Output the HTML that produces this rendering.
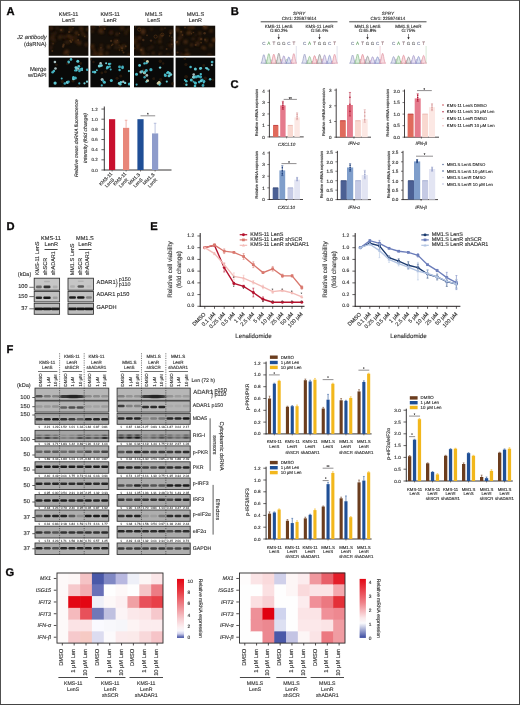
<!DOCTYPE html><html><head><meta charset="utf-8"><style>html,body{margin:0;padding:0;background:#fff;}svg{display:block;filter:blur(0.3px);text-rendering:geometricPrecision;font-family:"Liberation Sans",sans-serif;}</style></head><body>
<svg width="520" height="705" viewBox="0 0 520 705"><defs><filter id="bl1" x="-50%" y="-50%" width="200%" height="200%"><feGaussianBlur stdDeviation="0.6"/></filter><filter id="bl0" x="-50%" y="-50%" width="200%" height="200%"><feGaussianBlur stdDeviation="0.35"/></filter><filter id="bl2" x="-50%" y="-50%" width="200%" height="200%"><feGaussianBlur stdDeviation="1.2"/></filter><clipPath id="mc0a"><rect x="48.7" y="25.7" width="39.7" height="30.099999999999998"/></clipPath><clipPath id="mc0b"><rect x="48.7" y="57.6" width="39.7" height="29.699999999999996"/></clipPath><clipPath id="mc1a"><rect x="90.4" y="25.7" width="39.599999999999994" height="30.099999999999998"/></clipPath><clipPath id="mc1b"><rect x="90.4" y="57.6" width="39.599999999999994" height="29.699999999999996"/></clipPath><clipPath id="mc2a"><rect x="134.0" y="25.7" width="39.599999999999994" height="30.099999999999998"/></clipPath><clipPath id="mc2b"><rect x="134.0" y="57.6" width="39.599999999999994" height="29.699999999999996"/></clipPath><clipPath id="mc3a"><rect x="175.6" y="25.7" width="39.599999999999994" height="30.099999999999998"/></clipPath><clipPath id="mc3b"><rect x="175.6" y="57.6" width="39.599999999999994" height="29.699999999999996"/></clipPath><filter id="bb" x="-30%" y="-100%" width="160%" height="300%"><feGaussianBlur stdDeviation="0.4 0.35"/></filter><filter id="bb2" x="-30%" y="-100%" width="160%" height="300%"><feGaussianBlur stdDeviation="0.9 0.6"/></filter><linearGradient id="cb1" x1="0" y1="0" x2="0" y2="1"><stop offset="0" stop-color="#e50614"/><stop offset="0.2" stop-color="#e8363f"/><stop offset="0.45" stop-color="#ee868d"/><stop offset="0.68" stop-color="#f7cdd1"/><stop offset="0.82" stop-color="#fcf0f2"/><stop offset="0.88" stop-color="#f7f6fb"/><stop offset="0.93" stop-color="#cfd0ec"/><stop offset="1" stop-color="#38489e"/></linearGradient><linearGradient id="cb2" x1="0" y1="0" x2="0" y2="1"><stop offset="0" stop-color="#e30613"/><stop offset="0.4" stop-color="#ef8088"/><stop offset="0.66" stop-color="#fbe8ea"/><stop offset="0.75" stop-color="#fafafc"/><stop offset="1" stop-color="#3a4aa0"/></linearGradient></defs>
<line x1="0.00" y1="0.50" x2="520.00" y2="0.50" stroke="#5c5c5c" stroke-width="1.0"/>
<line x1="0.50" y1="0.00" x2="0.50" y2="705.00" stroke="#505050" stroke-width="1.0"/>
<line x1="519.50" y1="0.00" x2="519.50" y2="705.00" stroke="#444444" stroke-width="1.0"/>
<line x1="0.00" y1="704.50" x2="520.00" y2="704.50" stroke="#444444" stroke-width="1.0"/>
<text x="6.40" y="14.70" font-size="11.2" font-weight="bold" stroke="#231f20" stroke-width="0.35">A</text>
<text x="68.55" y="14.50" font-size="5.5" stroke="#333" stroke-width="0.14" text-anchor="middle" fill="#333" dominant-baseline="central">KMS-11</text>
<text x="68.55" y="21.40" font-size="5.5" stroke="#333" stroke-width="0.14" text-anchor="middle" fill="#333" dominant-baseline="central">LenS</text>
<text x="110.20" y="14.50" font-size="5.5" stroke="#333" stroke-width="0.14" text-anchor="middle" fill="#333" dominant-baseline="central">KMS-11</text>
<text x="110.20" y="21.40" font-size="5.5" stroke="#333" stroke-width="0.14" text-anchor="middle" fill="#333" dominant-baseline="central">LenR</text>
<text x="153.80" y="14.50" font-size="5.5" stroke="#333" stroke-width="0.14" text-anchor="middle" fill="#333" dominant-baseline="central">MM1.S</text>
<text x="153.80" y="21.40" font-size="5.5" stroke="#333" stroke-width="0.14" text-anchor="middle" fill="#333" dominant-baseline="central">LenS</text>
<text x="195.40" y="14.50" font-size="5.5" stroke="#333" stroke-width="0.14" text-anchor="middle" fill="#333" dominant-baseline="central">MM1.S</text>
<text x="195.40" y="21.40" font-size="5.5" stroke="#333" stroke-width="0.14" text-anchor="middle" fill="#333" dominant-baseline="central">LenR</text>
<text x="46.60" y="38.00" font-size="5.8" stroke="#333" stroke-width="0.14" text-anchor="end" fill="#333" font-style="italic" dominant-baseline="central">J2 antibody</text>
<text x="46.60" y="45.30" font-size="5.9" stroke="#333" stroke-width="0.14" text-anchor="end" fill="#333" dominant-baseline="central">(dsRNA)</text>
<text x="46.60" y="70.00" font-size="5.9" stroke="#333" stroke-width="0.14" text-anchor="end" fill="#333" dominant-baseline="central">Merge</text>
<text x="46.60" y="76.00" font-size="5.6" stroke="#333" stroke-width="0.14" text-anchor="end" fill="#333" dominant-baseline="central">w/DAPI</text>
<rect x="48.70" y="25.70" width="39.70" height="30.10" fill="#140e08"/>
<g clip-path="url(#mc0a)"><circle cx="61.6" cy="30.2" r="2.1" fill="#4a2c12" opacity="0.62" filter="url(#bl2)"/><circle cx="81.3" cy="28.5" r="2.1" fill="#603818" opacity="0.62" filter="url(#bl2)"/><circle cx="57.2" cy="28.3" r="1.8" fill="#3e240f" opacity="0.62" filter="url(#bl2)"/><circle cx="52.3" cy="38.5" r="2.4" fill="#4a2c12" opacity="0.62" filter="url(#bl2)"/><circle cx="86.3" cy="44.7" r="2.1" fill="#4a2c12" opacity="0.62" filter="url(#bl2)"/><circle cx="71.6" cy="37.6" r="2.6" fill="#4a2c12" opacity="0.62" filter="url(#bl2)"/><circle cx="70.8" cy="29.7" r="1.8" fill="#603818" opacity="0.62" filter="url(#bl2)"/><circle cx="53.4" cy="35.0" r="2.4" fill="#3e240f" opacity="0.62" filter="url(#bl2)"/><circle cx="52.8" cy="42.9" r="1.5" fill="#4a2c12" opacity="0.62" filter="url(#bl2)"/><circle cx="70.4" cy="27.6" r="1.4" fill="#3e240f" opacity="0.62" filter="url(#bl2)"/><circle cx="68.4" cy="41.7" r="2.3" fill="#35200e" opacity="0.62" filter="url(#bl2)"/><circle cx="71.9" cy="39.3" r="1.7" fill="#3e240f" opacity="0.62" filter="url(#bl2)"/><circle cx="76.5" cy="33.0" r="2.0" fill="#603818" opacity="0.62" filter="url(#bl2)"/><circle cx="68.4" cy="36.0" r="1.9" fill="#603818" opacity="0.62" filter="url(#bl2)"/><circle cx="87.6" cy="29.3" r="1.8" fill="#5a3414" opacity="0.62" filter="url(#bl2)"/><circle cx="54.7" cy="40.4" r="1.4" fill="#4a2c12" opacity="0.62" filter="url(#bl2)"/><circle cx="79.1" cy="42.9" r="2.4" fill="#5a3414" opacity="0.62" filter="url(#bl2)"/><circle cx="62.2" cy="36.2" r="1.9" fill="#35200e" opacity="0.62" filter="url(#bl2)"/><circle cx="51.4" cy="28.5" r="1.7" fill="#4a2c12" opacity="0.62" filter="url(#bl2)"/><circle cx="51.1" cy="46.8" r="2.1" fill="#35200e" opacity="0.62" filter="url(#bl2)"/><circle cx="60.0" cy="37.3" r="2.2" fill="#4a2c12" opacity="0.62" filter="url(#bl2)"/><circle cx="86.0" cy="36.4" r="2.1" fill="#35200e" opacity="0.62" filter="url(#bl2)"/><circle cx="51.0" cy="48.8" r="1.5" fill="#3e240f" opacity="0.62" filter="url(#bl2)"/><circle cx="64.5" cy="53.3" r="1.9" fill="#3e240f" opacity="0.62" filter="url(#bl2)"/><circle cx="66.5" cy="42.2" r="2.4" fill="#35200e" opacity="0.62" filter="url(#bl2)"/><circle cx="83.0" cy="34.1" r="1.8" fill="#5a3414" opacity="0.62" filter="url(#bl2)"/><circle cx="75.8" cy="37.2" r="1.6" fill="#4a2c12" opacity="0.62" filter="url(#bl2)"/><circle cx="55.7" cy="32.7" r="1.6" fill="#35200e" opacity="0.62" filter="url(#bl2)"/><circle cx="81.7" cy="31.2" r="1.7" fill="#3e240f" opacity="0.62" filter="url(#bl2)"/><circle cx="65.3" cy="36.8" r="2.0" fill="#3e240f" opacity="0.62" filter="url(#bl2)"/><circle cx="76.1" cy="41.2" r="2.1" fill="#4a2c12" opacity="0.62" filter="url(#bl2)"/><circle cx="66.8" cy="51.9" r="2.5" fill="#603818" opacity="0.62" filter="url(#bl2)"/><circle cx="64.3" cy="37.7" r="1.4" fill="#35200e" opacity="0.62" filter="url(#bl2)"/><circle cx="51.2" cy="27.7" r="1.6" fill="#3e240f" opacity="0.62" filter="url(#bl2)"/><circle cx="53.1" cy="43.8" r="0.8" fill="#6a4220" opacity="0.55" filter="url(#bl1)"/><circle cx="71.2" cy="41.9" r="1.2" fill="#6a4220" opacity="0.55" filter="url(#bl1)"/><circle cx="73.1" cy="27.8" r="0.8" fill="#6a4220" opacity="0.55" filter="url(#bl1)"/><circle cx="63.6" cy="44.8" r="1.2" fill="#6a4220" opacity="0.55" filter="url(#bl1)"/><circle cx="72.6" cy="40.0" r="0.8" fill="#6a4220" opacity="0.55" filter="url(#bl1)"/><circle cx="68.1" cy="55.1" r="0.9" fill="#6a4220" opacity="0.55" filter="url(#bl1)"/><circle cx="61.1" cy="30.0" r="1.1" fill="#6a4220" opacity="0.55" filter="url(#bl1)"/><circle cx="78.1" cy="40.1" r="1.0" fill="#6a4220" opacity="0.55" filter="url(#bl1)"/><circle cx="69.2" cy="31.9" r="1.2" fill="#6a4220" opacity="0.55" filter="url(#bl1)"/><circle cx="63.1" cy="46.5" r="1.2" fill="#6a4220" opacity="0.55" filter="url(#bl1)"/><circle cx="78.8" cy="34.7" r="1.0" fill="#6a4220" opacity="0.55" filter="url(#bl1)"/><circle cx="52.3" cy="51.1" r="1.0" fill="#6a4220" opacity="0.55" filter="url(#bl1)"/><circle cx="84.8" cy="36.4" r="0.8" fill="#6a4220" opacity="0.55" filter="url(#bl1)"/><circle cx="70.2" cy="40.8" r="1.0" fill="#6a4220" opacity="0.55" filter="url(#bl1)"/></g>
<rect x="48.70" y="57.60" width="39.70" height="29.70" fill="#090908"/>
<g clip-path="url(#mc0b)"><circle cx="73.0" cy="81.0" r="1.6" fill="#3a2410" opacity="0.6" filter="url(#bl1)"/><circle cx="56.4" cy="64.7" r="1.3" fill="#3a2410" opacity="0.6" filter="url(#bl1)"/><circle cx="80.6" cy="63.5" r="1.4" fill="#3a2410" opacity="0.6" filter="url(#bl1)"/><circle cx="77.7" cy="87.0" r="1.6" fill="#3a2410" opacity="0.6" filter="url(#bl1)"/><circle cx="67.4" cy="63.4" r="1.5" fill="#3a2410" opacity="0.6" filter="url(#bl1)"/><circle cx="62.4" cy="81.6" r="1.6" fill="#3a2410" opacity="0.6" filter="url(#bl1)"/><circle cx="62.6" cy="86.5" r="1.1" fill="#3a2410" opacity="0.6" filter="url(#bl1)"/><circle cx="52.8" cy="71.6" r="1.3" fill="#3a2410" opacity="0.6" filter="url(#bl1)"/><circle cx="67.4" cy="82.3" r="1.6" fill="#72d0d8" filter="url(#bl0)"/><circle cx="68.8" cy="62.4" r="1.1" fill="#5cc8d2" filter="url(#bl0)"/><circle cx="82.0" cy="70.0" r="1.1" fill="#72d0d8" filter="url(#bl0)"/><circle cx="73.5" cy="78.7" r="1.5" fill="#72d0d8" filter="url(#bl0)"/><circle cx="55.5" cy="68.5" r="1.3" fill="#a8c0c0" filter="url(#bl0)"/><circle cx="78.8" cy="66.4" r="1.4" fill="#48bcc8" filter="url(#bl0)"/><circle cx="76.3" cy="70.2" r="1.3" fill="#5cc8d2" filter="url(#bl0)"/><circle cx="68.6" cy="81.8" r="1.2" fill="#3aa6b6" filter="url(#bl0)"/><circle cx="68.6" cy="61.6" r="1.2" fill="#44b0c0" filter="url(#bl0)"/><circle cx="80.6" cy="69.6" r="1.5" fill="#3aa6b6" filter="url(#bl0)"/><circle cx="75.4" cy="77.9" r="1.5" fill="#44b0c0" filter="url(#bl0)"/><circle cx="52.6" cy="72.2" r="1.3" fill="#44b0c0" filter="url(#bl0)"/><circle cx="76.6" cy="67.9" r="1.5" fill="#5cc8d2" filter="url(#bl0)"/><circle cx="78.2" cy="68.8" r="1.1" fill="#a8c0c0" filter="url(#bl0)"/><circle cx="64.8" cy="83.5" r="1.3" fill="#3aa6b6" filter="url(#bl0)"/><circle cx="71.0" cy="59.4" r="1.3" fill="#48bcc8" filter="url(#bl0)"/><circle cx="82.0" cy="68.6" r="1.1" fill="#48bcc8" filter="url(#bl0)"/><circle cx="73.4" cy="77.4" r="1.3" fill="#48bcc8" filter="url(#bl0)"/><circle cx="53.9" cy="71.0" r="1.3" fill="#44b0c0" filter="url(#bl0)"/><circle cx="75.8" cy="67.5" r="1.3" fill="#72d0d8" filter="url(#bl0)"/><circle cx="79.4" cy="70.9" r="1.3" fill="#3aa6b6" filter="url(#bl0)"/><circle cx="84.5" cy="83.3" r="1.1" fill="#72d0d8" filter="url(#bl0)"/><circle cx="54.9" cy="62.0" r="1.3" fill="#a8c0c0" filter="url(#bl0)"/><circle cx="75.0" cy="70.5" r="1.1" fill="#3aa6b6" filter="url(#bl0)"/><circle cx="79.3" cy="83.4" r="1.1" fill="#3aa6b6" filter="url(#bl0)"/><circle cx="55.1" cy="83.1" r="1.6" fill="#5cc8d2" filter="url(#bl0)"/><circle cx="77.8" cy="61.2" r="1.5" fill="#5cc8d2" filter="url(#bl0)"/><circle cx="87.0" cy="81.7" r="1.1" fill="#72d0d8" filter="url(#bl0)"/><circle cx="87.2" cy="69.8" r="1.3" fill="#3aa6b6" filter="url(#bl0)"/><circle cx="61.7" cy="78.6" r="1.0" fill="#44b0c0" filter="url(#bl0)"/></g>
<rect x="90.40" y="25.70" width="39.60" height="30.10" fill="#140e08"/>
<g clip-path="url(#mc1a)"><circle cx="108.6" cy="46.9" r="1.8" fill="#603818" opacity="0.62" filter="url(#bl2)"/><circle cx="115.1" cy="41.1" r="1.4" fill="#3e240f" opacity="0.62" filter="url(#bl2)"/><circle cx="128.9" cy="28.9" r="1.6" fill="#4a2c12" opacity="0.62" filter="url(#bl2)"/><circle cx="126.3" cy="31.2" r="2.3" fill="#35200e" opacity="0.62" filter="url(#bl2)"/><circle cx="124.0" cy="46.0" r="2.5" fill="#35200e" opacity="0.62" filter="url(#bl2)"/><circle cx="96.3" cy="53.4" r="2.0" fill="#5a3414" opacity="0.62" filter="url(#bl2)"/><circle cx="93.9" cy="27.4" r="2.2" fill="#35200e" opacity="0.62" filter="url(#bl2)"/><circle cx="125.9" cy="33.8" r="1.3" fill="#4a2c12" opacity="0.62" filter="url(#bl2)"/><circle cx="122.1" cy="28.2" r="2.4" fill="#4a2c12" opacity="0.62" filter="url(#bl2)"/><circle cx="100.9" cy="29.4" r="1.3" fill="#603818" opacity="0.62" filter="url(#bl2)"/><circle cx="106.9" cy="53.3" r="2.1" fill="#4a2c12" opacity="0.62" filter="url(#bl2)"/><circle cx="111.3" cy="32.9" r="1.4" fill="#3e240f" opacity="0.62" filter="url(#bl2)"/><circle cx="100.8" cy="31.2" r="2.5" fill="#5a3414" opacity="0.62" filter="url(#bl2)"/><circle cx="111.4" cy="31.9" r="1.9" fill="#3e240f" opacity="0.62" filter="url(#bl2)"/><circle cx="101.1" cy="49.9" r="2.6" fill="#4a2c12" opacity="0.62" filter="url(#bl2)"/><circle cx="91.0" cy="47.8" r="2.0" fill="#3e240f" opacity="0.62" filter="url(#bl2)"/><circle cx="110.8" cy="33.1" r="1.9" fill="#35200e" opacity="0.62" filter="url(#bl2)"/><circle cx="116.4" cy="42.1" r="2.5" fill="#603818" opacity="0.62" filter="url(#bl2)"/><circle cx="102.6" cy="32.2" r="1.6" fill="#3e240f" opacity="0.62" filter="url(#bl2)"/><circle cx="123.4" cy="47.0" r="2.1" fill="#35200e" opacity="0.62" filter="url(#bl2)"/><circle cx="129.6" cy="55.3" r="2.4" fill="#4a2c12" opacity="0.62" filter="url(#bl2)"/><circle cx="93.2" cy="48.0" r="1.6" fill="#3e240f" opacity="0.62" filter="url(#bl2)"/><circle cx="92.6" cy="45.7" r="1.8" fill="#603818" opacity="0.62" filter="url(#bl2)"/><circle cx="117.0" cy="34.2" r="1.6" fill="#5a3414" opacity="0.62" filter="url(#bl2)"/><circle cx="92.2" cy="31.3" r="1.6" fill="#4a2c12" opacity="0.62" filter="url(#bl2)"/><circle cx="100.8" cy="54.6" r="2.6" fill="#603818" opacity="0.62" filter="url(#bl2)"/><circle cx="103.2" cy="26.7" r="2.4" fill="#3e240f" opacity="0.62" filter="url(#bl2)"/><circle cx="104.5" cy="25.7" r="1.8" fill="#35200e" opacity="0.62" filter="url(#bl2)"/><circle cx="101.4" cy="45.4" r="1.6" fill="#4a2c12" opacity="0.62" filter="url(#bl2)"/><circle cx="94.0" cy="50.3" r="1.5" fill="#603818" opacity="0.62" filter="url(#bl2)"/><circle cx="92.1" cy="26.4" r="1.7" fill="#3e240f" opacity="0.62" filter="url(#bl2)"/><circle cx="93.7" cy="54.5" r="2.4" fill="#3e240f" opacity="0.62" filter="url(#bl2)"/><circle cx="116.4" cy="47.3" r="2.4" fill="#35200e" opacity="0.62" filter="url(#bl2)"/><circle cx="120.7" cy="47.4" r="1.9" fill="#5a3414" opacity="0.62" filter="url(#bl2)"/><circle cx="119.1" cy="45.1" r="0.7" fill="#6a4220" opacity="0.55" filter="url(#bl1)"/><circle cx="123.5" cy="52.5" r="1.0" fill="#6a4220" opacity="0.55" filter="url(#bl1)"/><circle cx="119.5" cy="50.1" r="0.8" fill="#6a4220" opacity="0.55" filter="url(#bl1)"/><circle cx="111.1" cy="40.9" r="1.1" fill="#6a4220" opacity="0.55" filter="url(#bl1)"/><circle cx="122.3" cy="50.6" r="1.0" fill="#6a4220" opacity="0.55" filter="url(#bl1)"/><circle cx="125.8" cy="46.3" r="1.0" fill="#6a4220" opacity="0.55" filter="url(#bl1)"/><circle cx="99.5" cy="26.6" r="0.8" fill="#6a4220" opacity="0.55" filter="url(#bl1)"/><circle cx="104.7" cy="28.9" r="1.1" fill="#6a4220" opacity="0.55" filter="url(#bl1)"/><circle cx="112.5" cy="44.6" r="1.0" fill="#6a4220" opacity="0.55" filter="url(#bl1)"/><circle cx="117.4" cy="40.4" r="0.7" fill="#6a4220" opacity="0.55" filter="url(#bl1)"/><circle cx="122.0" cy="48.2" r="1.0" fill="#6a4220" opacity="0.55" filter="url(#bl1)"/><circle cx="111.6" cy="45.5" r="0.7" fill="#6a4220" opacity="0.55" filter="url(#bl1)"/><circle cx="119.6" cy="33.3" r="0.7" fill="#6a4220" opacity="0.55" filter="url(#bl1)"/><circle cx="100.9" cy="47.7" r="0.8" fill="#6a4220" opacity="0.55" filter="url(#bl1)"/></g>
<rect x="90.40" y="57.60" width="39.60" height="29.70" fill="#090908"/>
<g clip-path="url(#mc1b)"><circle cx="119.7" cy="86.6" r="1.4" fill="#3a2410" opacity="0.6" filter="url(#bl1)"/><circle cx="105.5" cy="71.8" r="1.5" fill="#3a2410" opacity="0.6" filter="url(#bl1)"/><circle cx="120.8" cy="75.9" r="1.5" fill="#3a2410" opacity="0.6" filter="url(#bl1)"/><circle cx="93.5" cy="62.0" r="1.2" fill="#3a2410" opacity="0.6" filter="url(#bl1)"/><circle cx="119.8" cy="66.6" r="1.5" fill="#3a2410" opacity="0.6" filter="url(#bl1)"/><circle cx="90.9" cy="59.4" r="1.2" fill="#3a2410" opacity="0.6" filter="url(#bl1)"/><circle cx="117.0" cy="78.2" r="1.5" fill="#3a2410" opacity="0.6" filter="url(#bl1)"/><circle cx="101.9" cy="72.9" r="1.4" fill="#3a2410" opacity="0.6" filter="url(#bl1)"/><circle cx="109.8" cy="66.7" r="1.1" fill="#44b0c0" filter="url(#bl0)"/><circle cx="122.5" cy="67.8" r="1.4" fill="#44b0c0" filter="url(#bl0)"/><circle cx="125.1" cy="82.9" r="1.2" fill="#72d0d8" filter="url(#bl0)"/><circle cx="96.8" cy="70.2" r="1.0" fill="#48bcc8" filter="url(#bl0)"/><circle cx="123.2" cy="81.7" r="1.2" fill="#a8c0c0" filter="url(#bl0)"/><circle cx="106.9" cy="68.4" r="1.1" fill="#3aa6b6" filter="url(#bl0)"/><circle cx="104.4" cy="82.2" r="1.5" fill="#48bcc8" filter="url(#bl0)"/><circle cx="110.4" cy="63.7" r="1.0" fill="#3aa6b6" filter="url(#bl0)"/><circle cx="122.6" cy="66.7" r="1.2" fill="#44b0c0" filter="url(#bl0)"/><circle cx="129.4" cy="84.0" r="1.5" fill="#48bcc8" filter="url(#bl0)"/><circle cx="94.8" cy="72.2" r="1.4" fill="#5cc8d2" filter="url(#bl0)"/><circle cx="120.3" cy="84.2" r="1.3" fill="#5cc8d2" filter="url(#bl0)"/><circle cx="109.1" cy="64.0" r="1.3" fill="#48bcc8" filter="url(#bl0)"/><circle cx="102.1" cy="79.5" r="1.5" fill="#a8c0c0" filter="url(#bl0)"/><circle cx="106.1" cy="63.2" r="1.0" fill="#72d0d8" filter="url(#bl0)"/><circle cx="119.5" cy="66.9" r="1.4" fill="#3aa6b6" filter="url(#bl0)"/><circle cx="120.9" cy="82.3" r="1.3" fill="#5cc8d2" filter="url(#bl0)"/><circle cx="93.1" cy="71.9" r="1.2" fill="#3aa6b6" filter="url(#bl0)"/><circle cx="119.1" cy="83.4" r="1.3" fill="#72d0d8" filter="url(#bl0)"/><circle cx="110.7" cy="69.4" r="1.0" fill="#44b0c0" filter="url(#bl0)"/><circle cx="103.0" cy="80.8" r="1.1" fill="#3aa6b6" filter="url(#bl0)"/><circle cx="128.9" cy="71.1" r="1.1" fill="#5cc8d2" filter="url(#bl0)"/><circle cx="100.6" cy="63.4" r="1.3" fill="#a8c0c0" filter="url(#bl0)"/><circle cx="100.4" cy="65.8" r="1.3" fill="#48bcc8" filter="url(#bl0)"/><circle cx="119.6" cy="70.0" r="1.2" fill="#44b0c0" filter="url(#bl0)"/><circle cx="99.3" cy="66.1" r="1.5" fill="#72d0d8" filter="url(#bl0)"/><circle cx="101.8" cy="85.4" r="1.1" fill="#44b0c0" filter="url(#bl0)"/><circle cx="111.3" cy="80.5" r="1.5" fill="#48bcc8" filter="url(#bl0)"/><circle cx="101.6" cy="65.5" r="1.2" fill="#72d0d8" filter="url(#bl0)"/><circle cx="107.6" cy="67.2" r="1.5" fill="#48bcc8" filter="url(#bl0)"/></g>
<rect x="134.00" y="25.70" width="39.60" height="30.10" fill="#140e08"/>
<g clip-path="url(#mc2a)"><circle cx="139.0" cy="38.5" r="2.3" fill="#35200e" opacity="0.62" filter="url(#bl2)"/><circle cx="172.3" cy="40.4" r="1.4" fill="#603818" opacity="0.62" filter="url(#bl2)"/><circle cx="167.9" cy="55.0" r="1.6" fill="#4a2c12" opacity="0.62" filter="url(#bl2)"/><circle cx="142.9" cy="30.3" r="2.6" fill="#4a2c12" opacity="0.62" filter="url(#bl2)"/><circle cx="171.3" cy="47.4" r="2.1" fill="#35200e" opacity="0.62" filter="url(#bl2)"/><circle cx="137.4" cy="49.1" r="1.3" fill="#3e240f" opacity="0.62" filter="url(#bl2)"/><circle cx="143.2" cy="53.4" r="2.1" fill="#5a3414" opacity="0.62" filter="url(#bl2)"/><circle cx="172.1" cy="44.6" r="2.0" fill="#35200e" opacity="0.62" filter="url(#bl2)"/><circle cx="161.7" cy="29.1" r="1.4" fill="#603818" opacity="0.62" filter="url(#bl2)"/><circle cx="171.4" cy="31.5" r="1.6" fill="#603818" opacity="0.62" filter="url(#bl2)"/><circle cx="134.0" cy="41.9" r="2.6" fill="#5a3414" opacity="0.62" filter="url(#bl2)"/><circle cx="172.0" cy="45.1" r="2.4" fill="#35200e" opacity="0.62" filter="url(#bl2)"/><circle cx="154.8" cy="42.2" r="1.3" fill="#35200e" opacity="0.62" filter="url(#bl2)"/><circle cx="161.9" cy="35.0" r="1.3" fill="#35200e" opacity="0.62" filter="url(#bl2)"/><circle cx="169.0" cy="45.2" r="1.4" fill="#3e240f" opacity="0.62" filter="url(#bl2)"/><circle cx="160.4" cy="53.5" r="1.6" fill="#4a2c12" opacity="0.62" filter="url(#bl2)"/><circle cx="161.6" cy="47.3" r="1.8" fill="#35200e" opacity="0.62" filter="url(#bl2)"/><circle cx="141.8" cy="49.7" r="2.3" fill="#603818" opacity="0.62" filter="url(#bl2)"/><circle cx="136.7" cy="40.6" r="1.6" fill="#3e240f" opacity="0.62" filter="url(#bl2)"/><circle cx="143.1" cy="32.4" r="2.3" fill="#5a3414" opacity="0.62" filter="url(#bl2)"/><circle cx="138.3" cy="44.5" r="2.1" fill="#3e240f" opacity="0.62" filter="url(#bl2)"/><circle cx="153.2" cy="53.1" r="1.4" fill="#603818" opacity="0.62" filter="url(#bl2)"/><circle cx="139.8" cy="37.5" r="1.6" fill="#603818" opacity="0.62" filter="url(#bl2)"/><circle cx="139.6" cy="27.3" r="1.4" fill="#35200e" opacity="0.62" filter="url(#bl2)"/><circle cx="151.8" cy="47.1" r="1.7" fill="#4a2c12" opacity="0.62" filter="url(#bl2)"/><circle cx="173.5" cy="53.7" r="1.7" fill="#3e240f" opacity="0.62" filter="url(#bl2)"/><circle cx="159.8" cy="41.5" r="1.9" fill="#5a3414" opacity="0.62" filter="url(#bl2)"/><circle cx="160.3" cy="37.1" r="1.8" fill="#5a3414" opacity="0.62" filter="url(#bl2)"/><circle cx="151.5" cy="29.0" r="1.4" fill="#4a2c12" opacity="0.62" filter="url(#bl2)"/><circle cx="147.9" cy="54.5" r="1.5" fill="#3e240f" opacity="0.62" filter="url(#bl2)"/><circle cx="149.1" cy="48.8" r="1.7" fill="#35200e" opacity="0.62" filter="url(#bl2)"/><circle cx="137.5" cy="46.9" r="1.6" fill="#603818" opacity="0.62" filter="url(#bl2)"/><circle cx="170.4" cy="31.5" r="1.8" fill="#35200e" opacity="0.62" filter="url(#bl2)"/><circle cx="135.2" cy="38.1" r="2.4" fill="#35200e" opacity="0.62" filter="url(#bl2)"/><circle cx="135.6" cy="26.7" r="0.7" fill="#6a4220" opacity="0.55" filter="url(#bl1)"/><circle cx="170.4" cy="33.4" r="1.1" fill="#6a4220" opacity="0.55" filter="url(#bl1)"/><circle cx="169.6" cy="35.9" r="0.8" fill="#6a4220" opacity="0.55" filter="url(#bl1)"/><circle cx="171.9" cy="44.3" r="0.8" fill="#6a4220" opacity="0.55" filter="url(#bl1)"/><circle cx="162.4" cy="35.2" r="0.8" fill="#6a4220" opacity="0.55" filter="url(#bl1)"/><circle cx="134.1" cy="48.4" r="1.2" fill="#6a4220" opacity="0.55" filter="url(#bl1)"/><circle cx="159.1" cy="54.1" r="0.7" fill="#6a4220" opacity="0.55" filter="url(#bl1)"/><circle cx="143.3" cy="40.0" r="1.2" fill="#6a4220" opacity="0.55" filter="url(#bl1)"/><circle cx="171.8" cy="37.3" r="0.8" fill="#6a4220" opacity="0.55" filter="url(#bl1)"/><circle cx="151.0" cy="40.6" r="1.2" fill="#6a4220" opacity="0.55" filter="url(#bl1)"/><circle cx="141.2" cy="49.9" r="1.1" fill="#6a4220" opacity="0.55" filter="url(#bl1)"/><circle cx="166.6" cy="49.0" r="1.0" fill="#6a4220" opacity="0.55" filter="url(#bl1)"/><circle cx="147.0" cy="35.3" r="0.9" fill="#6a4220" opacity="0.55" filter="url(#bl1)"/><circle cx="165.0" cy="28.1" r="0.8" fill="#6a4220" opacity="0.55" filter="url(#bl1)"/><circle cx="162.3" cy="34.7" r="1.6" fill="none" stroke="#6a4018" stroke-width="0.7" opacity="0.7"/><circle cx="139.2" cy="29.5" r="1.6" fill="none" stroke="#6a4018" stroke-width="0.7" opacity="0.7"/><circle cx="155.6" cy="36.6" r="1.6" fill="none" stroke="#6a4018" stroke-width="0.7" opacity="0.7"/></g>
<rect x="134.00" y="57.60" width="39.60" height="29.70" fill="#090908"/>
<g clip-path="url(#mc2b)"><circle cx="172.8" cy="83.8" r="1.8" fill="#3a2410" opacity="0.6" filter="url(#bl1)"/><circle cx="144.5" cy="60.1" r="1.1" fill="#3a2410" opacity="0.6" filter="url(#bl1)"/><circle cx="153.7" cy="78.7" r="1.4" fill="#3a2410" opacity="0.6" filter="url(#bl1)"/><circle cx="143.3" cy="70.0" r="1.5" fill="#3a2410" opacity="0.6" filter="url(#bl1)"/><circle cx="160.7" cy="79.8" r="1.7" fill="#3a2410" opacity="0.6" filter="url(#bl1)"/><circle cx="160.3" cy="61.2" r="1.7" fill="#3a2410" opacity="0.6" filter="url(#bl1)"/><circle cx="145.6" cy="74.4" r="1.3" fill="#3a2410" opacity="0.6" filter="url(#bl1)"/><circle cx="163.2" cy="63.5" r="1.2" fill="#3a2410" opacity="0.6" filter="url(#bl1)"/><circle cx="147.4" cy="61.5" r="1.5" fill="#c8c8a0" filter="url(#bl0)"/><circle cx="167.0" cy="73.1" r="1.0" fill="#44b0c0" filter="url(#bl0)"/><circle cx="150.9" cy="69.7" r="1.6" fill="#3aa6b6" filter="url(#bl0)"/><circle cx="168.1" cy="72.5" r="1.4" fill="#48bcc8" filter="url(#bl0)"/><circle cx="147.4" cy="80.8" r="1.4" fill="#a8c0c0" filter="url(#bl0)"/><circle cx="160.4" cy="83.5" r="1.0" fill="#3aa6b6" filter="url(#bl0)"/><circle cx="144.4" cy="72.7" r="1.5" fill="#c8c8a0" filter="url(#bl0)"/><circle cx="146.6" cy="63.1" r="1.2" fill="#44b0c0" filter="url(#bl0)"/><circle cx="165.4" cy="75.4" r="1.5" fill="#44b0c0" filter="url(#bl0)"/><circle cx="146.3" cy="70.4" r="1.5" fill="#44b0c0" filter="url(#bl0)"/><circle cx="170.8" cy="74.6" r="1.4" fill="#72d0d8" filter="url(#bl0)"/><circle cx="144.6" cy="77.2" r="1.2" fill="#3aa6b6" filter="url(#bl0)"/><circle cx="158.1" cy="83.4" r="1.4" fill="#c8c8a0" filter="url(#bl0)"/><circle cx="140.9" cy="72.1" r="1.5" fill="#a8c0c0" filter="url(#bl0)"/><circle cx="144.5" cy="63.4" r="1.2" fill="#48bcc8" filter="url(#bl0)"/><circle cx="164.9" cy="74.6" r="1.1" fill="#48bcc8" filter="url(#bl0)"/><circle cx="144.9" cy="72.5" r="1.3" fill="#5cc8d2" filter="url(#bl0)"/><circle cx="169.8" cy="73.1" r="1.1" fill="#72d0d8" filter="url(#bl0)"/><circle cx="147.7" cy="80.6" r="1.2" fill="#c8c8a0" filter="url(#bl0)"/><circle cx="159.5" cy="84.7" r="1.1" fill="#5cc8d2" filter="url(#bl0)"/><circle cx="142.1" cy="71.5" r="1.3" fill="#5cc8d2" filter="url(#bl0)"/><circle cx="146.3" cy="81.8" r="1.0" fill="#72d0d8" filter="url(#bl0)"/><circle cx="146.8" cy="75.4" r="1.4" fill="#a8c0c0" filter="url(#bl0)"/><circle cx="169.0" cy="75.8" r="1.5" fill="#5cc8d2" filter="url(#bl0)"/><circle cx="159.1" cy="82.3" r="1.4" fill="#c8c8a0" filter="url(#bl0)"/><circle cx="166.8" cy="81.6" r="1.1" fill="#5cc8d2" filter="url(#bl0)"/><circle cx="136.6" cy="84.6" r="1.1" fill="#3aa6b6" filter="url(#bl0)"/><circle cx="139.6" cy="65.4" r="1.4" fill="#5cc8d2" filter="url(#bl0)"/><circle cx="136.5" cy="74.2" r="1.5" fill="#48bcc8" filter="url(#bl0)"/><circle cx="160.1" cy="67.6" r="1.2" fill="#72d0d8" filter="url(#bl0)"/></g>
<rect x="175.60" y="25.70" width="39.60" height="30.10" fill="#140e08"/>
<g clip-path="url(#mc3a)"><circle cx="197.4" cy="44.6" r="1.7" fill="#35200e" opacity="0.62" filter="url(#bl2)"/><circle cx="187.8" cy="33.2" r="1.8" fill="#5a3414" opacity="0.62" filter="url(#bl2)"/><circle cx="193.3" cy="38.9" r="1.3" fill="#603818" opacity="0.62" filter="url(#bl2)"/><circle cx="214.7" cy="39.7" r="1.9" fill="#603818" opacity="0.62" filter="url(#bl2)"/><circle cx="206.5" cy="39.5" r="1.5" fill="#35200e" opacity="0.62" filter="url(#bl2)"/><circle cx="191.5" cy="27.7" r="1.8" fill="#5a3414" opacity="0.62" filter="url(#bl2)"/><circle cx="179.2" cy="39.0" r="2.0" fill="#4a2c12" opacity="0.62" filter="url(#bl2)"/><circle cx="177.2" cy="29.6" r="2.5" fill="#5a3414" opacity="0.62" filter="url(#bl2)"/><circle cx="206.4" cy="41.1" r="1.4" fill="#603818" opacity="0.62" filter="url(#bl2)"/><circle cx="211.0" cy="45.3" r="2.3" fill="#4a2c12" opacity="0.62" filter="url(#bl2)"/><circle cx="209.5" cy="55.7" r="2.3" fill="#4a2c12" opacity="0.62" filter="url(#bl2)"/><circle cx="183.3" cy="55.3" r="1.9" fill="#3e240f" opacity="0.62" filter="url(#bl2)"/><circle cx="202.8" cy="47.4" r="1.6" fill="#5a3414" opacity="0.62" filter="url(#bl2)"/><circle cx="199.8" cy="33.3" r="1.7" fill="#603818" opacity="0.62" filter="url(#bl2)"/><circle cx="186.5" cy="50.3" r="1.5" fill="#603818" opacity="0.62" filter="url(#bl2)"/><circle cx="213.8" cy="40.2" r="2.1" fill="#603818" opacity="0.62" filter="url(#bl2)"/><circle cx="195.6" cy="35.3" r="1.3" fill="#3e240f" opacity="0.62" filter="url(#bl2)"/><circle cx="191.6" cy="44.9" r="1.7" fill="#5a3414" opacity="0.62" filter="url(#bl2)"/><circle cx="211.1" cy="30.8" r="2.3" fill="#4a2c12" opacity="0.62" filter="url(#bl2)"/><circle cx="206.0" cy="27.2" r="2.4" fill="#35200e" opacity="0.62" filter="url(#bl2)"/><circle cx="197.6" cy="43.2" r="2.4" fill="#4a2c12" opacity="0.62" filter="url(#bl2)"/><circle cx="185.6" cy="41.8" r="2.4" fill="#5a3414" opacity="0.62" filter="url(#bl2)"/><circle cx="186.1" cy="55.5" r="2.1" fill="#5a3414" opacity="0.62" filter="url(#bl2)"/><circle cx="188.7" cy="28.1" r="1.6" fill="#603818" opacity="0.62" filter="url(#bl2)"/><circle cx="205.0" cy="27.2" r="2.4" fill="#5a3414" opacity="0.62" filter="url(#bl2)"/><circle cx="187.9" cy="54.8" r="2.4" fill="#5a3414" opacity="0.62" filter="url(#bl2)"/><circle cx="204.6" cy="48.2" r="1.6" fill="#5a3414" opacity="0.62" filter="url(#bl2)"/><circle cx="200.0" cy="38.7" r="2.0" fill="#4a2c12" opacity="0.62" filter="url(#bl2)"/><circle cx="180.8" cy="32.5" r="2.1" fill="#4a2c12" opacity="0.62" filter="url(#bl2)"/><circle cx="177.8" cy="42.8" r="1.7" fill="#603818" opacity="0.62" filter="url(#bl2)"/><circle cx="189.7" cy="32.5" r="2.1" fill="#603818" opacity="0.62" filter="url(#bl2)"/><circle cx="180.9" cy="36.7" r="2.4" fill="#3e240f" opacity="0.62" filter="url(#bl2)"/><circle cx="180.9" cy="53.9" r="1.6" fill="#3e240f" opacity="0.62" filter="url(#bl2)"/><circle cx="193.5" cy="27.6" r="1.5" fill="#5a3414" opacity="0.62" filter="url(#bl2)"/><circle cx="191.5" cy="33.7" r="0.7" fill="#6a4220" opacity="0.55" filter="url(#bl1)"/><circle cx="201.1" cy="42.6" r="0.9" fill="#6a4220" opacity="0.55" filter="url(#bl1)"/><circle cx="201.2" cy="39.1" r="1.2" fill="#6a4220" opacity="0.55" filter="url(#bl1)"/><circle cx="204.6" cy="33.2" r="1.2" fill="#6a4220" opacity="0.55" filter="url(#bl1)"/><circle cx="177.3" cy="41.7" r="0.9" fill="#6a4220" opacity="0.55" filter="url(#bl1)"/><circle cx="185.0" cy="27.5" r="1.1" fill="#6a4220" opacity="0.55" filter="url(#bl1)"/><circle cx="176.1" cy="42.3" r="1.2" fill="#6a4220" opacity="0.55" filter="url(#bl1)"/><circle cx="181.2" cy="31.7" r="1.0" fill="#6a4220" opacity="0.55" filter="url(#bl1)"/><circle cx="195.7" cy="45.0" r="1.1" fill="#6a4220" opacity="0.55" filter="url(#bl1)"/><circle cx="182.5" cy="35.0" r="0.9" fill="#6a4220" opacity="0.55" filter="url(#bl1)"/><circle cx="177.5" cy="52.5" r="1.1" fill="#6a4220" opacity="0.55" filter="url(#bl1)"/><circle cx="203.9" cy="25.9" r="1.1" fill="#6a4220" opacity="0.55" filter="url(#bl1)"/><circle cx="205.1" cy="39.7" r="1.1" fill="#6a4220" opacity="0.55" filter="url(#bl1)"/><circle cx="193.5" cy="32.5" r="0.8" fill="#6a4220" opacity="0.55" filter="url(#bl1)"/></g>
<rect x="175.60" y="57.60" width="39.60" height="29.70" fill="#090908"/>
<g clip-path="url(#mc3b)"><circle cx="184.8" cy="58.8" r="1.3" fill="#3a2410" opacity="0.6" filter="url(#bl1)"/><circle cx="205.3" cy="78.2" r="1.7" fill="#3a2410" opacity="0.6" filter="url(#bl1)"/><circle cx="203.8" cy="65.5" r="1.4" fill="#3a2410" opacity="0.6" filter="url(#bl1)"/><circle cx="192.9" cy="81.0" r="1.4" fill="#3a2410" opacity="0.6" filter="url(#bl1)"/><circle cx="186.1" cy="76.7" r="1.8" fill="#3a2410" opacity="0.6" filter="url(#bl1)"/><circle cx="184.2" cy="83.7" r="1.0" fill="#3a2410" opacity="0.6" filter="url(#bl1)"/><circle cx="185.9" cy="64.6" r="1.6" fill="#3a2410" opacity="0.6" filter="url(#bl1)"/><circle cx="213.0" cy="79.8" r="1.3" fill="#3a2410" opacity="0.6" filter="url(#bl1)"/><circle cx="205.9" cy="68.0" r="1.1" fill="#44b0c0" filter="url(#bl0)"/><circle cx="184.9" cy="80.0" r="1.1" fill="#48bcc8" filter="url(#bl0)"/><circle cx="200.5" cy="76.8" r="1.6" fill="#3aa6b6" filter="url(#bl0)"/><circle cx="203.7" cy="82.4" r="1.0" fill="#5cc8d2" filter="url(#bl0)"/><circle cx="193.4" cy="77.2" r="1.4" fill="#a8c0c0" filter="url(#bl0)"/><circle cx="204.1" cy="81.3" r="1.2" fill="#44b0c0" filter="url(#bl0)"/><circle cx="194.0" cy="76.9" r="1.5" fill="#72d0d8" filter="url(#bl0)"/><circle cx="208.5" cy="69.6" r="1.1" fill="#48bcc8" filter="url(#bl0)"/><circle cx="191.3" cy="79.9" r="1.5" fill="#48bcc8" filter="url(#bl0)"/><circle cx="200.8" cy="74.1" r="1.2" fill="#48bcc8" filter="url(#bl0)"/><circle cx="203.0" cy="85.5" r="1.4" fill="#3aa6b6" filter="url(#bl0)"/><circle cx="193.6" cy="81.7" r="1.0" fill="#3aa6b6" filter="url(#bl0)"/><circle cx="202.2" cy="79.9" r="1.5" fill="#3aa6b6" filter="url(#bl0)"/><circle cx="193.7" cy="74.6" r="1.3" fill="#a8c0c0" filter="url(#bl0)"/><circle cx="207.0" cy="68.4" r="1.2" fill="#72d0d8" filter="url(#bl0)"/><circle cx="186.3" cy="81.2" r="1.3" fill="#48bcc8" filter="url(#bl0)"/><circle cx="198.2" cy="76.3" r="1.5" fill="#48bcc8" filter="url(#bl0)"/><circle cx="199.2" cy="82.1" r="1.3" fill="#44b0c0" filter="url(#bl0)"/><circle cx="195.4" cy="83.1" r="1.6" fill="#48bcc8" filter="url(#bl0)"/><circle cx="201.1" cy="80.9" r="1.4" fill="#5cc8d2" filter="url(#bl0)"/><circle cx="196.0" cy="76.8" r="1.6" fill="#44b0c0" filter="url(#bl0)"/><circle cx="186.4" cy="84.7" r="1.2" fill="#5cc8d2" filter="url(#bl0)"/><circle cx="211.9" cy="65.0" r="1.1" fill="#a8c0c0" filter="url(#bl0)"/><circle cx="195.0" cy="86.1" r="1.3" fill="#48bcc8" filter="url(#bl0)"/><circle cx="200.2" cy="68.5" r="1.2" fill="#72d0d8" filter="url(#bl0)"/><circle cx="210.1" cy="79.2" r="1.3" fill="#48bcc8" filter="url(#bl0)"/><circle cx="190.6" cy="67.0" r="1.3" fill="#44b0c0" filter="url(#bl0)"/><circle cx="195.4" cy="69.1" r="1.5" fill="#5cc8d2" filter="url(#bl0)"/><circle cx="212.1" cy="62.1" r="1.4" fill="#44b0c0" filter="url(#bl0)"/><circle cx="200.9" cy="68.3" r="1.2" fill="#5cc8d2" filter="url(#bl0)"/></g>
<line x1="104.30" y1="106.50" x2="104.30" y2="170.40" stroke="#231f20" stroke-width="0.9"/>
<line x1="103.90" y1="170.00" x2="171.50" y2="170.00" stroke="#231f20" stroke-width="0.9"/>
<line x1="101.40" y1="170.00" x2="104.30" y2="170.00" stroke="#231f20" stroke-width="0.7"/>
<text x="97.70" y="170.00" font-size="4.4" stroke="#333" stroke-width="0.14" text-anchor="end" fill="#333" dominant-baseline="central">0.0</text>
<line x1="101.40" y1="159.84" x2="104.30" y2="159.84" stroke="#231f20" stroke-width="0.7"/>
<text x="97.70" y="159.84" font-size="4.4" stroke="#333" stroke-width="0.14" text-anchor="end" fill="#333" dominant-baseline="central">0.2</text>
<line x1="101.40" y1="149.68" x2="104.30" y2="149.68" stroke="#231f20" stroke-width="0.7"/>
<text x="97.70" y="149.68" font-size="4.4" stroke="#333" stroke-width="0.14" text-anchor="end" fill="#333" dominant-baseline="central">0.4</text>
<line x1="101.40" y1="139.52" x2="104.30" y2="139.52" stroke="#231f20" stroke-width="0.7"/>
<text x="97.70" y="139.52" font-size="4.4" stroke="#333" stroke-width="0.14" text-anchor="end" fill="#333" dominant-baseline="central">0.6</text>
<line x1="101.40" y1="129.36" x2="104.30" y2="129.36" stroke="#231f20" stroke-width="0.7"/>
<text x="97.70" y="129.36" font-size="4.4" stroke="#333" stroke-width="0.14" text-anchor="end" fill="#333" dominant-baseline="central">0.8</text>
<line x1="101.40" y1="119.20" x2="104.30" y2="119.20" stroke="#231f20" stroke-width="0.7"/>
<text x="97.70" y="119.20" font-size="4.4" stroke="#333" stroke-width="0.14" text-anchor="end" fill="#333" dominant-baseline="central">1.0</text>
<line x1="101.40" y1="109.04" x2="104.30" y2="109.04" stroke="#231f20" stroke-width="0.7"/>
<text x="97.70" y="109.04" font-size="4.4" stroke="#333" stroke-width="0.14" text-anchor="end" fill="#333" dominant-baseline="central">1.2</text>
<rect x="109.00" y="119.20" width="6.20" height="50.80" fill="#c8102e"/>
<line x1="112.10" y1="170.00" x2="112.10" y2="171.60" stroke="#231f20" stroke-width="0.5"/>
<rect x="123.00" y="127.84" width="6.20" height="42.16" fill="#e8877a"/>
<line x1="126.10" y1="127.84" x2="126.10" y2="120.22" stroke="#e8877a" stroke-width="0.6"/>
<line x1="124.80" y1="120.22" x2="127.40" y2="120.22" stroke="#e8877a" stroke-width="0.6"/>
<line x1="126.10" y1="170.00" x2="126.10" y2="171.60" stroke="#231f20" stroke-width="0.5"/>
<rect x="137.40" y="119.20" width="6.20" height="50.80" fill="#1f4e96"/>
<line x1="140.50" y1="170.00" x2="140.50" y2="171.60" stroke="#231f20" stroke-width="0.5"/>
<rect x="152.00" y="133.42" width="6.20" height="36.58" fill="#8e9ccb"/>
<line x1="155.10" y1="133.42" x2="155.10" y2="123.26" stroke="#8e9ccb" stroke-width="0.6"/>
<line x1="153.80" y1="123.26" x2="156.40" y2="123.26" stroke="#8e9ccb" stroke-width="0.6"/>
<line x1="155.10" y1="170.00" x2="155.10" y2="171.60" stroke="#231f20" stroke-width="0.5"/>
<line x1="140.50" y1="115.80" x2="155.20" y2="115.80" stroke="#231f20" stroke-width="0.5"/>
<text x="147.80" y="114.20" font-size="4.5" stroke="#231f20" stroke-width="0.14" text-anchor="middle" dominant-baseline="central">*</text>
<text x="78.00" y="138.20" font-size="4.95" stroke="#333" stroke-width="0.14" text-anchor="middle" fill="#333" font-style="italic" dominant-baseline="central" transform="rotate(-90 78.00 138.20)">Relative mean dsRNA fluorescence</text>
<text x="85.50" y="138.00" font-size="5.1" stroke="#333" stroke-width="0.14" text-anchor="middle" fill="#333" font-style="italic" dominant-baseline="central" transform="rotate(-90 85.50 138.00)">intensity (fold change)</text>
<text x="105.70" y="179.00" font-size="4.7" stroke="#333" stroke-width="0.14" text-anchor="middle" fill="#333" dominant-baseline="central" transform="rotate(-45 105.70 179.00)">KMS-11</text>
<text x="109.60" y="182.90" font-size="4.7" stroke="#333" stroke-width="0.14" text-anchor="middle" fill="#333" dominant-baseline="central" transform="rotate(-45 109.60 182.90)">LenS</text>
<text x="119.70" y="179.00" font-size="4.7" stroke="#333" stroke-width="0.14" text-anchor="middle" fill="#333" dominant-baseline="central" transform="rotate(-45 119.70 179.00)">KMS-11</text>
<text x="123.60" y="182.90" font-size="4.7" stroke="#333" stroke-width="0.14" text-anchor="middle" fill="#333" dominant-baseline="central" transform="rotate(-45 123.60 182.90)">LenR</text>
<text x="134.10" y="179.00" font-size="4.7" stroke="#333" stroke-width="0.14" text-anchor="middle" fill="#333" dominant-baseline="central" transform="rotate(-45 134.10 179.00)">MM1.S</text>
<text x="138.00" y="182.90" font-size="4.7" stroke="#333" stroke-width="0.14" text-anchor="middle" fill="#333" dominant-baseline="central" transform="rotate(-45 138.00 182.90)">LenS</text>
<text x="148.70" y="179.00" font-size="4.7" stroke="#333" stroke-width="0.14" text-anchor="middle" fill="#333" dominant-baseline="central" transform="rotate(-45 148.70 179.00)">MM1.S</text>
<text x="152.60" y="182.90" font-size="4.7" stroke="#333" stroke-width="0.14" text-anchor="middle" fill="#333" dominant-baseline="central" transform="rotate(-45 152.60 182.90)">LenR</text>
<text x="230.70" y="14.80" font-size="11.2" font-weight="bold" stroke="#231f20" stroke-width="0.35">B</text>
<text x="299.10" y="13.30" font-size="4.5" stroke="#333" stroke-width="0.14" text-anchor="middle" fill="#333" font-style="italic" dominant-baseline="central">SPRY</text>
<text x="299.10" y="18.40" font-size="4.5" stroke="#333" stroke-width="0.14" text-anchor="middle" fill="#333" dominant-baseline="central">Chr1: 225974614</text>
<line x1="260.70" y1="21.80" x2="337.50" y2="21.80" stroke="#333" stroke-width="0.9"/>
<text x="278.70" y="26.00" font-size="4.5" stroke="#333" stroke-width="0.14" text-anchor="middle" fill="#333" dominant-baseline="central">KMS-11 LenS</text>
<text x="278.70" y="30.90" font-size="4.5" stroke="#333" stroke-width="0.14" text-anchor="middle" fill="#333" dominant-baseline="central">G:60.2%</text>
<text x="263.80" y="43.00" font-size="4.6" stroke="#6a7090" stroke-width="0.08" text-anchor="middle" fill="#6a7090" dominant-baseline="central">C</text>
<text x="268.80" y="43.00" font-size="4.6" stroke="#5a9a5a" stroke-width="0.08" text-anchor="middle" fill="#5a9a5a" dominant-baseline="central">A</text>
<text x="273.80" y="43.00" font-size="4.6" stroke="#806870" stroke-width="0.08" text-anchor="middle" fill="#806870" dominant-baseline="central">T</text>
<text x="278.80" y="43.00" font-size="4.6" stroke="#606060" stroke-width="0.08" text-anchor="middle" fill="#606060" dominant-baseline="central">G</text>
<text x="283.80" y="43.00" font-size="4.6" stroke="#606060" stroke-width="0.08" text-anchor="middle" fill="#606060" dominant-baseline="central">G</text>
<text x="288.80" y="43.00" font-size="4.6" stroke="#6a7090" stroke-width="0.08" text-anchor="middle" fill="#6a7090" dominant-baseline="central">C</text>
<text x="293.80" y="43.00" font-size="4.6" stroke="#906870" stroke-width="0.08" text-anchor="middle" fill="#906870" dominant-baseline="central">T</text>
<path d="M263.74,63.2 C264.84,63.2 265.14,59.66 265.94,59.66 C266.74,59.66 267.04,63.2 268.14,63.2 Z" fill="#dceedc" stroke="#6aa86a" stroke-width="0.45" opacity="0.8"/>
<path d="M269.49,63.2 C270.59,63.2 270.89,59.98 271.69,59.98 C272.49,59.98 272.79,63.2 273.89,63.2 Z" fill="#e2e4f2" stroke="#7a80b0" stroke-width="0.45" opacity="0.8"/>
<path d="M274.10,63.2 C275.20,63.2 275.50,60.33 276.30,60.33 C277.10,60.33 277.40,63.2 278.50,63.2 Z" fill="#dceedc" stroke="#6aa86a" stroke-width="0.45" opacity="0.8"/>
<path d="M278.72,63.2 C279.82,63.2 280.12,59.02 280.92,59.02 C281.72,59.02 282.02,63.2 283.12,63.2 Z" fill="#f8dce0" stroke="#d86a7a" stroke-width="0.45" opacity="0.8"/>
<path d="M284.46,63.2 C285.56,63.2 285.86,59.04 286.66,59.04 C287.46,59.04 287.76,63.2 288.86,63.2 Z" fill="#dceedc" stroke="#6aa86a" stroke-width="0.45" opacity="0.8"/>
<path d="M289.30,63.2 C290.40,63.2 290.70,59.59 291.50,59.59 C292.30,59.59 292.60,63.2 293.70,63.2 Z" fill="#e8e2f2" stroke="#8a7ab8" stroke-width="0.45" opacity="0.8"/>
<path d="M260.80,63.2 C262.20,63.2 262.80,54.67 263.80,54.67 C264.80,54.67 265.40,63.2 266.80,63.2 Z" fill="#e2e4f2" stroke="#7a80b0" stroke-width="0.55"/>
<path d="M265.80,63.2 C267.20,63.2 267.80,53.61 268.80,53.61 C269.80,53.61 270.40,63.2 271.80,63.2 Z" fill="#dceedc" stroke="#6aa86a" stroke-width="0.55"/>
<path d="M270.80,63.2 C272.20,63.2 272.80,54.20 273.80,54.20 C274.80,54.20 275.40,63.2 276.80,63.2 Z" fill="#f8dce0" stroke="#d86a7a" stroke-width="0.55"/>
<path d="M275.80,63.2 C277.20,63.2 277.80,53.24 278.80,53.24 C279.80,53.24 280.40,63.2 281.80,63.2 Z" fill="#e4e4e4" stroke="#707070" stroke-width="0.55"/>
<path d="M280.80,63.2 C282.20,63.2 282.80,55.78 283.80,55.78 C284.80,55.78 285.40,63.2 286.80,63.2 Z" fill="#e8e2f2" stroke="#8a7ab8" stroke-width="0.55"/>
<path d="M285.80,63.2 C287.20,63.2 287.80,57.02 288.80,57.02 C289.80,57.02 290.40,63.2 291.80,63.2 Z" fill="#dde2f2" stroke="#6a78b8" stroke-width="0.55"/>
<path d="M290.80,63.2 C292.20,63.2 292.80,53.63 293.80,53.63 C294.80,53.63 295.40,63.2 296.80,63.2 Z" fill="#f8dce2" stroke="#d87a8c" stroke-width="0.55"/>
<line x1="296.30" y1="46.00" x2="296.30" y2="63.20" stroke="#c0c0d8" stroke-width="0.45"/>
<line x1="278.70" y1="34.00" x2="278.70" y2="38.00" stroke="#231f20" stroke-width="0.5"/>
<path d="M277.50,37.2 L279.90,37.2 L278.70,39.4 Z" fill="#231f20"/>
<text x="319.50" y="26.00" font-size="4.5" stroke="#333" stroke-width="0.14" text-anchor="middle" fill="#333" dominant-baseline="central">KMS-11 LenR</text>
<text x="319.50" y="30.90" font-size="4.5" stroke="#333" stroke-width="0.14" text-anchor="middle" fill="#333" dominant-baseline="central">G:56.4%</text>
<text x="304.60" y="43.00" font-size="4.6" stroke="#6a7090" stroke-width="0.08" text-anchor="middle" fill="#6a7090" dominant-baseline="central">C</text>
<text x="309.60" y="43.00" font-size="4.6" stroke="#5a9a5a" stroke-width="0.08" text-anchor="middle" fill="#5a9a5a" dominant-baseline="central">A</text>
<text x="314.60" y="43.00" font-size="4.6" stroke="#806870" stroke-width="0.08" text-anchor="middle" fill="#806870" dominant-baseline="central">T</text>
<text x="319.60" y="43.00" font-size="4.6" stroke="#606060" stroke-width="0.08" text-anchor="middle" fill="#606060" dominant-baseline="central">G</text>
<text x="324.60" y="43.00" font-size="4.6" stroke="#606060" stroke-width="0.08" text-anchor="middle" fill="#606060" dominant-baseline="central">G</text>
<text x="329.60" y="43.00" font-size="4.6" stroke="#6a7090" stroke-width="0.08" text-anchor="middle" fill="#6a7090" dominant-baseline="central">C</text>
<text x="334.60" y="43.00" font-size="4.6" stroke="#906870" stroke-width="0.08" text-anchor="middle" fill="#906870" dominant-baseline="central">T</text>
<path d="M305.48,63.2 C306.58,63.2 306.88,60.40 307.68,60.40 C308.48,60.40 308.78,63.2 309.88,63.2 Z" fill="#e4e4e4" stroke="#707070" stroke-width="0.45" opacity="0.8"/>
<path d="M309.91,63.2 C311.01,63.2 311.31,61.19 312.11,61.19 C312.91,61.19 313.21,63.2 314.31,63.2 Z" fill="#e2e4f2" stroke="#7a80b0" stroke-width="0.45" opacity="0.8"/>
<path d="M314.36,63.2 C315.46,63.2 315.76,59.11 316.56,59.11 C317.36,59.11 317.66,63.2 318.76,63.2 Z" fill="#f8dce0" stroke="#d86a7a" stroke-width="0.45" opacity="0.8"/>
<path d="M319.82,63.2 C320.92,63.2 321.22,58.77 322.02,58.77 C322.82,58.77 323.12,63.2 324.22,63.2 Z" fill="#f8dce0" stroke="#d86a7a" stroke-width="0.45" opacity="0.8"/>
<path d="M324.81,63.2 C325.91,63.2 326.21,61.16 327.01,61.16 C327.81,61.16 328.11,63.2 329.21,63.2 Z" fill="#e2e4f2" stroke="#7a80b0" stroke-width="0.45" opacity="0.8"/>
<path d="M330.21,63.2 C331.31,63.2 331.61,61.06 332.41,61.06 C333.21,61.06 333.51,63.2 334.61,63.2 Z" fill="#e8e2f2" stroke="#8a7ab8" stroke-width="0.45" opacity="0.8"/>
<path d="M301.60,63.2 C303.00,63.2 303.60,54.15 304.60,54.15 C305.60,54.15 306.20,63.2 307.60,63.2 Z" fill="#e2e4f2" stroke="#7a80b0" stroke-width="0.55"/>
<path d="M306.60,63.2 C308.00,63.2 308.60,56.41 309.60,56.41 C310.60,56.41 311.20,63.2 312.60,63.2 Z" fill="#dceedc" stroke="#6aa86a" stroke-width="0.55"/>
<path d="M311.60,63.2 C313.00,63.2 313.60,55.62 314.60,55.62 C315.60,55.62 316.20,63.2 317.60,63.2 Z" fill="#f8dce0" stroke="#d86a7a" stroke-width="0.55"/>
<path d="M316.60,63.2 C318.00,63.2 318.60,54.39 319.60,54.39 C320.60,54.39 321.20,63.2 322.60,63.2 Z" fill="#e4e4e4" stroke="#707070" stroke-width="0.55"/>
<path d="M321.60,63.2 C323.00,63.2 323.60,54.99 324.60,54.99 C325.60,54.99 326.20,63.2 327.60,63.2 Z" fill="#e8e2f2" stroke="#8a7ab8" stroke-width="0.55"/>
<path d="M326.60,63.2 C328.00,63.2 328.60,55.23 329.60,55.23 C330.60,55.23 331.20,63.2 332.60,63.2 Z" fill="#dde2f2" stroke="#6a78b8" stroke-width="0.55"/>
<path d="M331.60,63.2 C333.00,63.2 333.60,54.26 334.60,54.26 C335.60,54.26 336.20,63.2 337.60,63.2 Z" fill="#f8dce2" stroke="#d87a8c" stroke-width="0.55"/>
<line x1="337.10" y1="46.00" x2="337.10" y2="63.20" stroke="#c0c0d8" stroke-width="0.45"/>
<line x1="319.50" y1="34.00" x2="319.50" y2="38.00" stroke="#231f20" stroke-width="0.5"/>
<path d="M318.30,37.2 L320.70,37.2 L319.50,39.4 Z" fill="#231f20"/>
<text x="387.85" y="13.30" font-size="4.5" stroke="#333" stroke-width="0.14" text-anchor="middle" fill="#333" font-style="italic" dominant-baseline="central">SPRY</text>
<text x="387.85" y="18.40" font-size="4.5" stroke="#333" stroke-width="0.14" text-anchor="middle" fill="#333" dominant-baseline="central">Chr1: 225974614</text>
<line x1="349.20" y1="21.80" x2="426.50" y2="21.80" stroke="#333" stroke-width="0.9"/>
<text x="367.50" y="26.00" font-size="4.5" stroke="#333" stroke-width="0.14" text-anchor="middle" fill="#333" dominant-baseline="central">MM1.S LenS</text>
<text x="367.50" y="30.90" font-size="4.5" stroke="#333" stroke-width="0.14" text-anchor="middle" fill="#333" dominant-baseline="central">G:65.8%</text>
<text x="352.60" y="43.00" font-size="4.6" stroke="#6a7090" stroke-width="0.08" text-anchor="middle" fill="#6a7090" dominant-baseline="central">C</text>
<text x="357.60" y="43.00" font-size="4.6" stroke="#5a9a5a" stroke-width="0.08" text-anchor="middle" fill="#5a9a5a" dominant-baseline="central">A</text>
<text x="362.60" y="43.00" font-size="4.6" stroke="#806870" stroke-width="0.08" text-anchor="middle" fill="#806870" dominant-baseline="central">T</text>
<text x="367.60" y="43.00" font-size="4.6" stroke="#606060" stroke-width="0.08" text-anchor="middle" fill="#606060" dominant-baseline="central">G</text>
<text x="372.60" y="43.00" font-size="4.6" stroke="#606060" stroke-width="0.08" text-anchor="middle" fill="#606060" dominant-baseline="central">G</text>
<text x="377.60" y="43.00" font-size="4.6" stroke="#6a7090" stroke-width="0.08" text-anchor="middle" fill="#6a7090" dominant-baseline="central">C</text>
<text x="382.60" y="43.00" font-size="4.6" stroke="#906870" stroke-width="0.08" text-anchor="middle" fill="#906870" dominant-baseline="central">T</text>
<path d="M353.22,63.2 C354.32,63.2 354.62,59.74 355.42,59.74 C356.22,59.74 356.52,63.2 357.62,63.2 Z" fill="#dceedc" stroke="#6aa86a" stroke-width="0.45" opacity="0.8"/>
<path d="M357.92,63.2 C359.02,63.2 359.32,59.14 360.12,59.14 C360.92,59.14 361.22,63.2 362.32,63.2 Z" fill="#e4e4e4" stroke="#707070" stroke-width="0.45" opacity="0.8"/>
<path d="M362.94,63.2 C364.04,63.2 364.34,59.31 365.14,59.31 C365.94,59.31 366.24,63.2 367.34,63.2 Z" fill="#e8e2f2" stroke="#8a7ab8" stroke-width="0.45" opacity="0.8"/>
<path d="M368.31,63.2 C369.41,63.2 369.71,60.59 370.51,60.59 C371.31,60.59 371.61,63.2 372.71,63.2 Z" fill="#f8dce0" stroke="#d86a7a" stroke-width="0.45" opacity="0.8"/>
<path d="M373.13,63.2 C374.23,63.2 374.53,59.67 375.33,59.67 C376.13,59.67 376.43,63.2 377.53,63.2 Z" fill="#dde2f2" stroke="#6a78b8" stroke-width="0.45" opacity="0.8"/>
<path d="M377.70,63.2 C378.80,63.2 379.10,59.04 379.90,59.04 C380.70,59.04 381.00,63.2 382.10,63.2 Z" fill="#dde2f2" stroke="#6a78b8" stroke-width="0.45" opacity="0.8"/>
<path d="M349.60,63.2 C351.00,63.2 351.60,55.06 352.60,55.06 C353.60,55.06 354.20,63.2 355.60,63.2 Z" fill="#e2e4f2" stroke="#7a80b0" stroke-width="0.55"/>
<path d="M354.60,63.2 C356.00,63.2 356.60,54.04 357.60,54.04 C358.60,54.04 359.20,63.2 360.60,63.2 Z" fill="#dceedc" stroke="#6aa86a" stroke-width="0.55"/>
<path d="M359.60,63.2 C361.00,63.2 361.60,54.36 362.60,54.36 C363.60,54.36 364.20,63.2 365.60,63.2 Z" fill="#f8dce0" stroke="#d86a7a" stroke-width="0.55"/>
<path d="M364.60,63.2 C366.00,63.2 366.60,56.19 367.60,56.19 C368.60,56.19 369.20,63.2 370.60,63.2 Z" fill="#e4e4e4" stroke="#707070" stroke-width="0.55"/>
<path d="M369.60,63.2 C371.00,63.2 371.60,56.74 372.60,56.74 C373.60,56.74 374.20,63.2 375.60,63.2 Z" fill="#e8e2f2" stroke="#8a7ab8" stroke-width="0.55"/>
<path d="M374.60,63.2 C376.00,63.2 376.60,56.73 377.60,56.73 C378.60,56.73 379.20,63.2 380.60,63.2 Z" fill="#dde2f2" stroke="#6a78b8" stroke-width="0.55"/>
<path d="M379.60,63.2 C381.00,63.2 381.60,53.32 382.60,53.32 C383.60,53.32 384.20,63.2 385.60,63.2 Z" fill="#f8dce2" stroke="#d87a8c" stroke-width="0.55"/>
<line x1="380.10" y1="46.00" x2="380.10" y2="63.20" stroke="#e8a0b0" stroke-width="0.45"/>
<line x1="367.50" y1="34.00" x2="367.50" y2="38.00" stroke="#231f20" stroke-width="0.5"/>
<path d="M366.30,37.2 L368.70,37.2 L367.50,39.4 Z" fill="#231f20"/>
<text x="408.50" y="26.00" font-size="4.5" stroke="#333" stroke-width="0.14" text-anchor="middle" fill="#333" dominant-baseline="central">MM1.S LenR</text>
<text x="408.50" y="30.90" font-size="4.5" stroke="#333" stroke-width="0.14" text-anchor="middle" fill="#333" dominant-baseline="central">G:75%</text>
<text x="393.60" y="43.00" font-size="4.6" stroke="#6a7090" stroke-width="0.08" text-anchor="middle" fill="#6a7090" dominant-baseline="central">C</text>
<text x="398.60" y="43.00" font-size="4.6" stroke="#5a9a5a" stroke-width="0.08" text-anchor="middle" fill="#5a9a5a" dominant-baseline="central">A</text>
<text x="403.60" y="43.00" font-size="4.6" stroke="#806870" stroke-width="0.08" text-anchor="middle" fill="#806870" dominant-baseline="central">T</text>
<text x="408.60" y="43.00" font-size="4.6" stroke="#606060" stroke-width="0.08" text-anchor="middle" fill="#606060" dominant-baseline="central">G</text>
<text x="413.60" y="43.00" font-size="4.6" stroke="#606060" stroke-width="0.08" text-anchor="middle" fill="#606060" dominant-baseline="central">G</text>
<text x="418.60" y="43.00" font-size="4.6" stroke="#6a7090" stroke-width="0.08" text-anchor="middle" fill="#6a7090" dominant-baseline="central">C</text>
<text x="423.60" y="43.00" font-size="4.6" stroke="#906870" stroke-width="0.08" text-anchor="middle" fill="#906870" dominant-baseline="central">T</text>
<path d="M394.02,63.2 C395.12,63.2 395.42,58.82 396.22,58.82 C397.02,58.82 397.32,63.2 398.42,63.2 Z" fill="#e4e4e4" stroke="#707070" stroke-width="0.45" opacity="0.8"/>
<path d="M398.49,63.2 C399.59,63.2 399.89,61.05 400.69,61.05 C401.49,61.05 401.79,63.2 402.89,63.2 Z" fill="#dceedc" stroke="#6aa86a" stroke-width="0.45" opacity="0.8"/>
<path d="M404.16,63.2 C405.26,63.2 405.56,60.28 406.36,60.28 C407.16,60.28 407.46,63.2 408.56,63.2 Z" fill="#f8dce0" stroke="#d86a7a" stroke-width="0.45" opacity="0.8"/>
<path d="M409.44,63.2 C410.54,63.2 410.84,60.51 411.64,60.51 C412.44,60.51 412.74,63.2 413.84,63.2 Z" fill="#dde2f2" stroke="#6a78b8" stroke-width="0.45" opacity="0.8"/>
<path d="M414.45,63.2 C415.55,63.2 415.85,59.09 416.65,59.09 C417.45,59.09 417.75,63.2 418.85,63.2 Z" fill="#e8e2f2" stroke="#8a7ab8" stroke-width="0.45" opacity="0.8"/>
<path d="M419.44,63.2 C420.54,63.2 420.84,59.95 421.64,59.95 C422.44,59.95 422.74,63.2 423.84,63.2 Z" fill="#e4e4e4" stroke="#707070" stroke-width="0.45" opacity="0.8"/>
<path d="M390.60,63.2 C392.00,63.2 392.60,56.56 393.60,56.56 C394.60,56.56 395.20,63.2 396.60,63.2 Z" fill="#e2e4f2" stroke="#7a80b0" stroke-width="0.55"/>
<path d="M395.60,63.2 C397.00,63.2 397.60,55.76 398.60,55.76 C399.60,55.76 400.20,63.2 401.60,63.2 Z" fill="#dceedc" stroke="#6aa86a" stroke-width="0.55"/>
<path d="M400.60,63.2 C402.00,63.2 402.60,55.23 403.60,55.23 C404.60,55.23 405.20,63.2 406.60,63.2 Z" fill="#f8dce0" stroke="#d86a7a" stroke-width="0.55"/>
<path d="M405.60,63.2 C407.00,63.2 407.60,56.95 408.60,56.95 C409.60,56.95 410.20,63.2 411.60,63.2 Z" fill="#e4e4e4" stroke="#707070" stroke-width="0.55"/>
<path d="M410.60,63.2 C412.00,63.2 412.60,55.43 413.60,55.43 C414.60,55.43 415.20,63.2 416.60,63.2 Z" fill="#e8e2f2" stroke="#8a7ab8" stroke-width="0.55"/>
<path d="M415.60,63.2 C417.00,63.2 417.60,56.50 418.60,56.50 C419.60,56.50 420.20,63.2 421.60,63.2 Z" fill="#dde2f2" stroke="#6a78b8" stroke-width="0.55"/>
<path d="M420.60,63.2 C422.00,63.2 422.60,55.40 423.60,55.40 C424.60,55.40 425.20,63.2 426.60,63.2 Z" fill="#f8dce2" stroke="#d87a8c" stroke-width="0.55"/>
<line x1="426.10" y1="46.00" x2="426.10" y2="63.20" stroke="#a8d0a8" stroke-width="0.45"/>
<line x1="408.50" y1="34.00" x2="408.50" y2="38.00" stroke="#231f20" stroke-width="0.5"/>
<path d="M407.30,37.2 L409.70,37.2 L408.50,39.4 Z" fill="#231f20"/>
<text x="230.40" y="88.20" font-size="11.2" font-weight="bold" stroke="#231f20" stroke-width="0.35">C</text>
<line x1="269.40" y1="89.52" x2="269.40" y2="137.30" stroke="#231f20" stroke-width="0.85"/>
<line x1="269.00" y1="136.90" x2="303.70" y2="136.90" stroke="#231f20" stroke-width="0.85"/>
<line x1="267.40" y1="136.90" x2="269.40" y2="136.90" stroke="#231f20" stroke-width="0.6"/>
<text x="264.80" y="137.20" font-size="4.6" stroke="#333" stroke-width="0.14" text-anchor="end" fill="#333" dominant-baseline="central">0</text>
<line x1="267.40" y1="125.43" x2="269.40" y2="125.43" stroke="#231f20" stroke-width="0.6"/>
<text x="264.80" y="125.73" font-size="4.6" stroke="#333" stroke-width="0.14" text-anchor="end" fill="#333" dominant-baseline="central">1</text>
<line x1="267.40" y1="113.96" x2="269.40" y2="113.96" stroke="#231f20" stroke-width="0.6"/>
<text x="264.80" y="114.26" font-size="4.6" stroke="#333" stroke-width="0.14" text-anchor="end" fill="#333" dominant-baseline="central">2</text>
<line x1="267.40" y1="102.49" x2="269.40" y2="102.49" stroke="#231f20" stroke-width="0.6"/>
<text x="264.80" y="102.79" font-size="4.6" stroke="#333" stroke-width="0.14" text-anchor="end" fill="#333" dominant-baseline="central">3</text>
<line x1="267.40" y1="91.02" x2="269.40" y2="91.02" stroke="#231f20" stroke-width="0.6"/>
<text x="264.80" y="91.32" font-size="4.6" stroke="#333" stroke-width="0.14" text-anchor="end" fill="#333" dominant-baseline="central">4</text>
<rect x="273.00" y="125.43" width="5.40" height="11.47" fill="#e06a5c"/>
<line x1="273.30" y1="125.43" x2="278.10" y2="125.43" stroke="#b8282c" stroke-width="0.8"/>
<rect x="280.20" y="105.36" width="5.40" height="31.54" fill="#e57a8c"/>
<line x1="282.90" y1="109.37" x2="282.90" y2="101.34" stroke="#b0102e" stroke-width="0.6"/>
<line x1="281.80" y1="101.34" x2="284.00" y2="101.34" stroke="#b0102e" stroke-width="0.5"/>
<line x1="281.80" y1="109.37" x2="284.00" y2="109.37" stroke="#b0102e" stroke-width="0.5"/>
<circle cx="282.90" cy="107.77" r="0.75" fill="#b0102e"/>
<circle cx="282.90" cy="105.36" r="0.75" fill="#b0102e"/>
<circle cx="282.90" cy="102.95" r="0.75" fill="#b0102e"/>
<rect x="287.60" y="125.43" width="5.40" height="11.47" fill="#f9d8d0"/>
<line x1="287.90" y1="125.43" x2="292.70" y2="125.43" stroke="#e8b0a8" stroke-width="0.8"/>
<rect x="294.40" y="117.40" width="5.40" height="19.50" fill="#fce8e4"/>
<line x1="297.10" y1="119.70" x2="297.10" y2="112.81" stroke="#d89898" stroke-width="0.6"/>
<line x1="296.00" y1="112.81" x2="298.20" y2="112.81" stroke="#d89898" stroke-width="0.5"/>
<line x1="296.00" y1="119.70" x2="298.20" y2="119.70" stroke="#d89898" stroke-width="0.5"/>
<circle cx="297.10" cy="118.32" r="0.75" fill="#d89898"/>
<circle cx="297.10" cy="116.25" r="0.75" fill="#d89898"/>
<circle cx="297.10" cy="114.19" r="0.75" fill="#d89898"/>
<line x1="286.60" y1="136.90" x2="286.60" y2="138.40" stroke="#231f20" stroke-width="0.5"/>
<line x1="283.70" y1="99.40" x2="296.90" y2="99.40" stroke="#231f20" stroke-width="0.5"/>
<text x="290.30" y="98.00" font-size="4.0" stroke="#231f20" stroke-width="0.14" text-anchor="middle" dominant-baseline="central">**</text>
<text x="286.60" y="144.60" font-size="4.6" stroke="#333" stroke-width="0.14" text-anchor="middle" fill="#333" font-style="italic" dominant-baseline="central">CXCL10</text>
<text x="256.20" y="112.46" font-size="4.0" stroke="#333" stroke-width="0.14" text-anchor="middle" fill="#333" dominant-baseline="central" transform="rotate(-90 256.20 112.46)">Relative mRNA expression</text>
<line x1="336.20" y1="88.60" x2="336.20" y2="137.60" stroke="#231f20" stroke-width="0.85"/>
<line x1="335.80" y1="137.20" x2="371.00" y2="137.20" stroke="#231f20" stroke-width="0.85"/>
<line x1="334.20" y1="137.20" x2="336.20" y2="137.20" stroke="#231f20" stroke-width="0.6"/>
<text x="331.60" y="137.50" font-size="4.6" stroke="#333" stroke-width="0.14" text-anchor="end" fill="#333" dominant-baseline="central">0</text>
<line x1="334.20" y1="121.50" x2="336.20" y2="121.50" stroke="#231f20" stroke-width="0.6"/>
<text x="331.60" y="121.80" font-size="4.6" stroke="#333" stroke-width="0.14" text-anchor="end" fill="#333" dominant-baseline="central">1</text>
<line x1="334.20" y1="105.80" x2="336.20" y2="105.80" stroke="#231f20" stroke-width="0.6"/>
<text x="331.60" y="106.10" font-size="4.6" stroke="#333" stroke-width="0.14" text-anchor="end" fill="#333" dominant-baseline="central">2</text>
<line x1="334.20" y1="90.10" x2="336.20" y2="90.10" stroke="#231f20" stroke-width="0.6"/>
<text x="331.60" y="90.40" font-size="4.6" stroke="#333" stroke-width="0.14" text-anchor="end" fill="#333" dominant-baseline="central">3</text>
<rect x="339.90" y="120.71" width="5.90" height="16.48" fill="#e06a5c"/>
<line x1="340.20" y1="120.71" x2="345.50" y2="120.71" stroke="#b8282c" stroke-width="0.8"/>
<rect x="347.00" y="105.01" width="5.90" height="32.18" fill="#e57a8c"/>
<line x1="349.95" y1="116.00" x2="349.95" y2="92.45" stroke="#b0102e" stroke-width="0.6"/>
<line x1="348.85" y1="92.45" x2="351.05" y2="92.45" stroke="#b0102e" stroke-width="0.5"/>
<line x1="348.85" y1="116.00" x2="351.05" y2="116.00" stroke="#b0102e" stroke-width="0.5"/>
<circle cx="349.95" cy="111.29" r="0.75" fill="#b0102e"/>
<circle cx="349.95" cy="104.23" r="0.75" fill="#b0102e"/>
<circle cx="349.95" cy="97.16" r="0.75" fill="#b0102e"/>
<rect x="355.00" y="120.71" width="5.90" height="16.48" fill="#f9d8d0"/>
<line x1="355.30" y1="120.71" x2="360.60" y2="120.71" stroke="#e8b0a8" stroke-width="0.8"/>
<rect x="361.80" y="119.14" width="5.90" height="18.05" fill="#fce8e4"/>
<line x1="364.75" y1="122.28" x2="364.75" y2="109.72" stroke="#d89898" stroke-width="0.6"/>
<line x1="363.65" y1="109.72" x2="365.85" y2="109.72" stroke="#d89898" stroke-width="0.5"/>
<line x1="363.65" y1="122.28" x2="365.85" y2="122.28" stroke="#d89898" stroke-width="0.5"/>
<circle cx="364.75" cy="119.77" r="0.75" fill="#d89898"/>
<circle cx="364.75" cy="116.00" r="0.75" fill="#d89898"/>
<circle cx="364.75" cy="112.24" r="0.75" fill="#d89898"/>
<line x1="353.95" y1="137.20" x2="353.95" y2="138.70" stroke="#231f20" stroke-width="0.5"/>
<text x="353.95" y="143.60" font-size="4.6" stroke="#333" stroke-width="0.14" text-anchor="middle" fill="#333" font-style="italic" dominant-baseline="central">IFN-α</text>
<text x="323.50" y="112.15" font-size="4.0" stroke="#333" stroke-width="0.14" text-anchor="middle" fill="#333" dominant-baseline="central" transform="rotate(-90 323.50 112.15)">Relative mRNA expression</text>
<line x1="404.50" y1="89.50" x2="404.50" y2="137.60" stroke="#231f20" stroke-width="0.85"/>
<line x1="404.10" y1="137.20" x2="439.00" y2="137.20" stroke="#231f20" stroke-width="0.85"/>
<line x1="402.50" y1="137.20" x2="404.50" y2="137.20" stroke="#231f20" stroke-width="0.6"/>
<text x="399.90" y="137.50" font-size="4.6" stroke="#333" stroke-width="0.14" text-anchor="end" fill="#333" dominant-baseline="central">0.0</text>
<line x1="402.50" y1="125.65" x2="404.50" y2="125.65" stroke="#231f20" stroke-width="0.6"/>
<text x="399.90" y="125.95" font-size="4.6" stroke="#333" stroke-width="0.14" text-anchor="end" fill="#333" dominant-baseline="central">0.5</text>
<line x1="402.50" y1="114.10" x2="404.50" y2="114.10" stroke="#231f20" stroke-width="0.6"/>
<text x="399.90" y="114.40" font-size="4.6" stroke="#333" stroke-width="0.14" text-anchor="end" fill="#333" dominant-baseline="central">1.0</text>
<line x1="402.50" y1="102.55" x2="404.50" y2="102.55" stroke="#231f20" stroke-width="0.6"/>
<text x="399.90" y="102.85" font-size="4.6" stroke="#333" stroke-width="0.14" text-anchor="end" fill="#333" dominant-baseline="central">1.5</text>
<line x1="402.50" y1="91.00" x2="404.50" y2="91.00" stroke="#231f20" stroke-width="0.6"/>
<text x="399.90" y="91.30" font-size="4.6" stroke="#333" stroke-width="0.14" text-anchor="end" fill="#333" dominant-baseline="central">2.0</text>
<rect x="407.60" y="114.10" width="6.00" height="23.10" fill="#e06a5c"/>
<line x1="407.90" y1="114.10" x2="413.30" y2="114.10" stroke="#b8282c" stroke-width="0.8"/>
<rect x="414.70" y="98.39" width="6.00" height="38.81" fill="#e57a8c"/>
<line x1="417.70" y1="101.39" x2="417.70" y2="93.77" stroke="#b0102e" stroke-width="0.6"/>
<line x1="416.60" y1="93.77" x2="418.80" y2="93.77" stroke="#b0102e" stroke-width="0.5"/>
<line x1="416.60" y1="101.39" x2="418.80" y2="101.39" stroke="#b0102e" stroke-width="0.5"/>
<circle cx="417.70" cy="99.87" r="0.75" fill="#b0102e"/>
<circle cx="417.70" cy="97.58" r="0.75" fill="#b0102e"/>
<circle cx="417.70" cy="95.30" r="0.75" fill="#b0102e"/>
<rect x="422.10" y="114.10" width="6.00" height="23.10" fill="#f9d8d0"/>
<line x1="422.40" y1="114.10" x2="427.80" y2="114.10" stroke="#e8b0a8" stroke-width="0.8"/>
<rect x="429.00" y="107.17" width="6.00" height="30.03" fill="#fce8e4"/>
<line x1="432.00" y1="110.63" x2="432.00" y2="103.70" stroke="#d89898" stroke-width="0.6"/>
<line x1="430.90" y1="103.70" x2="433.10" y2="103.70" stroke="#d89898" stroke-width="0.5"/>
<line x1="430.90" y1="110.63" x2="433.10" y2="110.63" stroke="#d89898" stroke-width="0.5"/>
<circle cx="432.00" cy="109.25" r="0.75" fill="#d89898"/>
<circle cx="432.00" cy="107.17" r="0.75" fill="#d89898"/>
<circle cx="432.00" cy="105.09" r="0.75" fill="#d89898"/>
<line x1="421.40" y1="137.20" x2="421.40" y2="138.70" stroke="#231f20" stroke-width="0.5"/>
<line x1="417.00" y1="90.60" x2="431.80" y2="90.60" stroke="#231f20" stroke-width="0.5"/>
<text x="424.40" y="89.20" font-size="4.0" stroke="#231f20" stroke-width="0.14" text-anchor="middle" dominant-baseline="central">*</text>
<text x="421.40" y="143.90" font-size="4.6" stroke="#333" stroke-width="0.14" text-anchor="middle" fill="#333" font-style="italic" dominant-baseline="central">IFN-β</text>
<text x="388.00" y="112.60" font-size="4.0" stroke="#333" stroke-width="0.14" text-anchor="middle" fill="#333" dominant-baseline="central" transform="rotate(-90 388.00 112.60)">Relative mRNA expression</text>
<line x1="269.30" y1="151.40" x2="269.30" y2="199.90" stroke="#231f20" stroke-width="0.85"/>
<line x1="268.90" y1="199.50" x2="303.00" y2="199.50" stroke="#231f20" stroke-width="0.85"/>
<line x1="267.30" y1="199.50" x2="269.30" y2="199.50" stroke="#231f20" stroke-width="0.6"/>
<text x="264.70" y="199.80" font-size="4.6" stroke="#333" stroke-width="0.14" text-anchor="end" fill="#333" dominant-baseline="central">0</text>
<line x1="267.30" y1="187.85" x2="269.30" y2="187.85" stroke="#231f20" stroke-width="0.6"/>
<text x="264.70" y="188.15" font-size="4.6" stroke="#333" stroke-width="0.14" text-anchor="end" fill="#333" dominant-baseline="central">1</text>
<line x1="267.30" y1="176.20" x2="269.30" y2="176.20" stroke="#231f20" stroke-width="0.6"/>
<text x="264.70" y="176.50" font-size="4.6" stroke="#333" stroke-width="0.14" text-anchor="end" fill="#333" dominant-baseline="central">2</text>
<line x1="267.30" y1="164.55" x2="269.30" y2="164.55" stroke="#231f20" stroke-width="0.6"/>
<text x="264.70" y="164.85" font-size="4.6" stroke="#333" stroke-width="0.14" text-anchor="end" fill="#333" dominant-baseline="central">3</text>
<line x1="267.30" y1="152.90" x2="269.30" y2="152.90" stroke="#231f20" stroke-width="0.6"/>
<text x="264.70" y="153.20" font-size="4.6" stroke="#333" stroke-width="0.14" text-anchor="end" fill="#333" dominant-baseline="central">4</text>
<rect x="272.70" y="187.85" width="5.80" height="11.65" fill="#4b6094"/>
<line x1="273.00" y1="187.85" x2="278.20" y2="187.85" stroke="#2a3e70" stroke-width="0.8"/>
<rect x="279.40" y="170.38" width="5.80" height="29.12" fill="#7f9ecb"/>
<line x1="282.30" y1="175.62" x2="282.30" y2="165.72" stroke="#1c3d7a" stroke-width="0.6"/>
<line x1="281.20" y1="165.72" x2="283.40" y2="165.72" stroke="#1c3d7a" stroke-width="0.5"/>
<line x1="281.20" y1="175.62" x2="283.40" y2="175.62" stroke="#1c3d7a" stroke-width="0.5"/>
<circle cx="282.30" cy="173.64" r="0.75" fill="#1c3d7a"/>
<circle cx="282.30" cy="170.67" r="0.75" fill="#1c3d7a"/>
<circle cx="282.30" cy="167.70" r="0.75" fill="#1c3d7a"/>
<rect x="287.50" y="187.85" width="5.80" height="11.65" fill="#c5cae4"/>
<line x1="287.80" y1="187.85" x2="293.00" y2="187.85" stroke="#9aa4cc" stroke-width="0.8"/>
<rect x="294.20" y="179.69" width="5.80" height="19.80" fill="#e3e5f3"/>
<line x1="297.10" y1="180.86" x2="297.10" y2="177.37" stroke="#9aa4cc" stroke-width="0.6"/>
<line x1="296.00" y1="177.37" x2="298.20" y2="177.37" stroke="#9aa4cc" stroke-width="0.5"/>
<line x1="296.00" y1="180.86" x2="298.20" y2="180.86" stroke="#9aa4cc" stroke-width="0.5"/>
<circle cx="297.10" cy="180.16" r="0.75" fill="#9aa4cc"/>
<circle cx="297.10" cy="179.11" r="0.75" fill="#9aa4cc"/>
<circle cx="297.10" cy="178.06" r="0.75" fill="#9aa4cc"/>
<line x1="286.35" y1="199.50" x2="286.35" y2="201.00" stroke="#231f20" stroke-width="0.5"/>
<line x1="281.50" y1="163.60" x2="296.50" y2="163.60" stroke="#231f20" stroke-width="0.5"/>
<text x="289.00" y="162.20" font-size="4.0" stroke="#231f20" stroke-width="0.14" text-anchor="middle" dominant-baseline="central">*</text>
<text x="286.35" y="207.80" font-size="4.6" stroke="#333" stroke-width="0.14" text-anchor="middle" fill="#333" font-style="italic" dominant-baseline="central">CXCL10</text>
<text x="256.50" y="174.70" font-size="4.0" stroke="#333" stroke-width="0.14" text-anchor="middle" fill="#333" dominant-baseline="central" transform="rotate(-90 256.50 174.70)">Relative mRNA expression</text>
<line x1="337.40" y1="150.85" x2="337.40" y2="200.00" stroke="#231f20" stroke-width="0.85"/>
<line x1="337.00" y1="199.60" x2="371.00" y2="199.60" stroke="#231f20" stroke-width="0.85"/>
<line x1="335.40" y1="199.60" x2="337.40" y2="199.60" stroke="#231f20" stroke-width="0.6"/>
<text x="332.80" y="199.90" font-size="4.6" stroke="#333" stroke-width="0.14" text-anchor="end" fill="#333" dominant-baseline="central">0.0</text>
<line x1="335.40" y1="190.15" x2="337.40" y2="190.15" stroke="#231f20" stroke-width="0.6"/>
<text x="332.80" y="190.45" font-size="4.6" stroke="#333" stroke-width="0.14" text-anchor="end" fill="#333" dominant-baseline="central">0.5</text>
<line x1="335.40" y1="180.70" x2="337.40" y2="180.70" stroke="#231f20" stroke-width="0.6"/>
<text x="332.80" y="181.00" font-size="4.6" stroke="#333" stroke-width="0.14" text-anchor="end" fill="#333" dominant-baseline="central">1.0</text>
<line x1="335.40" y1="171.25" x2="337.40" y2="171.25" stroke="#231f20" stroke-width="0.6"/>
<text x="332.80" y="171.55" font-size="4.6" stroke="#333" stroke-width="0.14" text-anchor="end" fill="#333" dominant-baseline="central">1.5</text>
<line x1="335.40" y1="161.80" x2="337.40" y2="161.80" stroke="#231f20" stroke-width="0.6"/>
<text x="332.80" y="162.10" font-size="4.6" stroke="#333" stroke-width="0.14" text-anchor="end" fill="#333" dominant-baseline="central">2.0</text>
<line x1="335.40" y1="152.35" x2="337.40" y2="152.35" stroke="#231f20" stroke-width="0.6"/>
<text x="332.80" y="152.65" font-size="4.6" stroke="#333" stroke-width="0.14" text-anchor="end" fill="#333" dominant-baseline="central">2.5</text>
<rect x="340.60" y="180.70" width="6.20" height="18.90" fill="#4b6094"/>
<line x1="340.90" y1="180.70" x2="346.50" y2="180.70" stroke="#2a3e70" stroke-width="0.8"/>
<rect x="347.00" y="167.47" width="6.20" height="32.13" fill="#7f9ecb"/>
<line x1="350.10" y1="171.25" x2="350.10" y2="163.69" stroke="#1c3d7a" stroke-width="0.6"/>
<line x1="349.00" y1="163.69" x2="351.20" y2="163.69" stroke="#1c3d7a" stroke-width="0.5"/>
<line x1="349.00" y1="171.25" x2="351.20" y2="171.25" stroke="#1c3d7a" stroke-width="0.5"/>
<circle cx="350.10" cy="169.74" r="0.75" fill="#1c3d7a"/>
<circle cx="350.10" cy="167.47" r="0.75" fill="#1c3d7a"/>
<circle cx="350.10" cy="165.20" r="0.75" fill="#1c3d7a"/>
<rect x="355.00" y="180.70" width="6.20" height="18.90" fill="#c5cae4"/>
<line x1="355.30" y1="180.70" x2="360.90" y2="180.70" stroke="#9aa4cc" stroke-width="0.8"/>
<rect x="361.70" y="175.03" width="6.20" height="24.57" fill="#e3e5f3"/>
<line x1="364.80" y1="178.81" x2="364.80" y2="170.31" stroke="#9aa4cc" stroke-width="0.6"/>
<line x1="363.70" y1="170.31" x2="365.90" y2="170.31" stroke="#9aa4cc" stroke-width="0.5"/>
<line x1="363.70" y1="178.81" x2="365.90" y2="178.81" stroke="#9aa4cc" stroke-width="0.5"/>
<circle cx="364.80" cy="177.11" r="0.75" fill="#9aa4cc"/>
<circle cx="364.80" cy="174.56" r="0.75" fill="#9aa4cc"/>
<circle cx="364.80" cy="172.01" r="0.75" fill="#9aa4cc"/>
<line x1="354.10" y1="199.60" x2="354.10" y2="201.10" stroke="#231f20" stroke-width="0.5"/>
<text x="354.10" y="207.80" font-size="4.6" stroke="#333" stroke-width="0.14" text-anchor="middle" fill="#333" font-style="italic" dominant-baseline="central">IFN-α</text>
<text x="322.00" y="174.47" font-size="4.0" stroke="#333" stroke-width="0.14" text-anchor="middle" fill="#333" dominant-baseline="central" transform="rotate(-90 322.00 174.47)">Relative mRNA expression</text>
<line x1="403.00" y1="150.85" x2="403.00" y2="200.00" stroke="#231f20" stroke-width="0.85"/>
<line x1="402.60" y1="199.60" x2="438.00" y2="199.60" stroke="#231f20" stroke-width="0.85"/>
<line x1="401.00" y1="199.60" x2="403.00" y2="199.60" stroke="#231f20" stroke-width="0.6"/>
<text x="398.40" y="199.90" font-size="4.6" stroke="#333" stroke-width="0.14" text-anchor="end" fill="#333" dominant-baseline="central">0.0</text>
<line x1="401.00" y1="190.15" x2="403.00" y2="190.15" stroke="#231f20" stroke-width="0.6"/>
<text x="398.40" y="190.45" font-size="4.6" stroke="#333" stroke-width="0.14" text-anchor="end" fill="#333" dominant-baseline="central">0.5</text>
<line x1="401.00" y1="180.70" x2="403.00" y2="180.70" stroke="#231f20" stroke-width="0.6"/>
<text x="398.40" y="181.00" font-size="4.6" stroke="#333" stroke-width="0.14" text-anchor="end" fill="#333" dominant-baseline="central">1.0</text>
<line x1="401.00" y1="171.25" x2="403.00" y2="171.25" stroke="#231f20" stroke-width="0.6"/>
<text x="398.40" y="171.55" font-size="4.6" stroke="#333" stroke-width="0.14" text-anchor="end" fill="#333" dominant-baseline="central">1.5</text>
<line x1="401.00" y1="161.80" x2="403.00" y2="161.80" stroke="#231f20" stroke-width="0.6"/>
<text x="398.40" y="162.10" font-size="4.6" stroke="#333" stroke-width="0.14" text-anchor="end" fill="#333" dominant-baseline="central">2.0</text>
<line x1="401.00" y1="152.35" x2="403.00" y2="152.35" stroke="#231f20" stroke-width="0.6"/>
<text x="398.40" y="152.65" font-size="4.6" stroke="#333" stroke-width="0.14" text-anchor="end" fill="#333" dominant-baseline="central">2.5</text>
<rect x="407.80" y="180.70" width="6.20" height="18.90" fill="#4b6094"/>
<line x1="408.10" y1="180.70" x2="413.70" y2="180.70" stroke="#2a3e70" stroke-width="0.8"/>
<rect x="414.00" y="161.42" width="6.20" height="38.18" fill="#7f9ecb"/>
<line x1="417.10" y1="162.75" x2="417.10" y2="159.53" stroke="#1c3d7a" stroke-width="0.6"/>
<line x1="416.00" y1="159.53" x2="418.20" y2="159.53" stroke="#1c3d7a" stroke-width="0.5"/>
<line x1="416.00" y1="162.75" x2="418.20" y2="162.75" stroke="#1c3d7a" stroke-width="0.5"/>
<circle cx="417.10" cy="162.10" r="0.75" fill="#1c3d7a"/>
<circle cx="417.10" cy="161.14" r="0.75" fill="#1c3d7a"/>
<circle cx="417.10" cy="160.17" r="0.75" fill="#1c3d7a"/>
<rect x="422.00" y="180.70" width="6.20" height="18.90" fill="#c5cae4"/>
<line x1="422.30" y1="180.70" x2="427.90" y2="180.70" stroke="#9aa4cc" stroke-width="0.8"/>
<rect x="429.00" y="168.98" width="6.20" height="30.62" fill="#e3e5f3"/>
<line x1="432.10" y1="171.25" x2="432.10" y2="167.09" stroke="#9aa4cc" stroke-width="0.6"/>
<line x1="431.00" y1="167.09" x2="433.20" y2="167.09" stroke="#9aa4cc" stroke-width="0.5"/>
<line x1="431.00" y1="171.25" x2="433.20" y2="171.25" stroke="#9aa4cc" stroke-width="0.5"/>
<circle cx="432.10" cy="170.42" r="0.75" fill="#9aa4cc"/>
<circle cx="432.10" cy="169.17" r="0.75" fill="#9aa4cc"/>
<circle cx="432.10" cy="167.92" r="0.75" fill="#9aa4cc"/>
<line x1="421.10" y1="199.60" x2="421.10" y2="201.10" stroke="#231f20" stroke-width="0.5"/>
<line x1="416.00" y1="156.20" x2="433.00" y2="156.20" stroke="#231f20" stroke-width="0.5"/>
<text x="424.50" y="154.80" font-size="4.0" stroke="#231f20" stroke-width="0.14" text-anchor="middle" dominant-baseline="central">*</text>
<text x="421.10" y="207.80" font-size="4.6" stroke="#333" stroke-width="0.14" text-anchor="middle" fill="#333" font-style="italic" dominant-baseline="central">IFN-β</text>
<text x="388.50" y="174.47" font-size="4.0" stroke="#333" stroke-width="0.14" text-anchor="middle" fill="#333" dominant-baseline="central" transform="rotate(-90 388.50 174.47)">Relative mRNA expression</text>
<circle cx="443.00" cy="105.00" r="0.75" fill="#c0303a"/>
<text x="446.80" y="105.00" font-size="4.25" stroke="#333" stroke-width="0.14" fill="#333" dominant-baseline="central">KMS-11 LenS DMSO</text>
<circle cx="443.00" cy="111.80" r="0.75" fill="#a80f2c"/>
<text x="446.80" y="111.80" font-size="4.25" stroke="#333" stroke-width="0.14" fill="#333" dominant-baseline="central">KMS-11 LenS 10 μM Len</text>
<circle cx="443.00" cy="118.60" r="0.75" fill="#f4c4c0"/>
<text x="446.80" y="118.60" font-size="4.25" stroke="#333" stroke-width="0.14" fill="#333" dominant-baseline="central">KMS-11 LenR DMSO</text>
<circle cx="443.00" cy="125.70" r="0.75" fill="#eeb0b0"/>
<text x="446.80" y="125.70" font-size="4.25" stroke="#333" stroke-width="0.14" fill="#333" dominant-baseline="central">KMS-11 LenR 10 μM Len</text>
<circle cx="443.00" cy="164.60" r="0.75" fill="#4b6094"/>
<text x="446.80" y="164.60" font-size="4.25" stroke="#333" stroke-width="0.14" fill="#333" dominant-baseline="central">MM1.S LenS DMSO</text>
<circle cx="443.00" cy="171.00" r="0.75" fill="#1c3d7a"/>
<text x="446.80" y="171.00" font-size="4.25" stroke="#333" stroke-width="0.14" fill="#333" dominant-baseline="central">MM1.S LenS 10 μM Len</text>
<circle cx="443.00" cy="177.40" r="0.75" fill="#c5cae4"/>
<text x="446.80" y="177.40" font-size="4.25" stroke="#333" stroke-width="0.14" fill="#333" dominant-baseline="central">MM1.S LenR DMSO</text>
<circle cx="443.00" cy="184.00" r="0.75" fill="#a8b0d4"/>
<text x="446.80" y="184.00" font-size="4.25" stroke="#333" stroke-width="0.14" fill="#333" dominant-baseline="central">MM1.S LenR 10 μM Len</text>
<text x="6.60" y="229.60" font-size="11.2" font-weight="bold" stroke="#231f20" stroke-width="0.35">D</text>
<text x="50.90" y="238.50" font-size="5.6" stroke="#333" stroke-width="0.14" text-anchor="middle" fill="#333" dominant-baseline="central">KMS-11</text>
<text x="51.30" y="245.20" font-size="5.6" stroke="#333" stroke-width="0.14" text-anchor="middle" fill="#333" dominant-baseline="central">LenR</text>
<line x1="44.50" y1="249.50" x2="57.60" y2="249.50" stroke="#333" stroke-width="0.9"/>
<text x="84.90" y="238.50" font-size="5.6" stroke="#333" stroke-width="0.14" text-anchor="middle" fill="#333" dominant-baseline="central">MM1.S</text>
<text x="85.00" y="245.20" font-size="5.6" stroke="#333" stroke-width="0.14" text-anchor="middle" fill="#333" dominant-baseline="central">LenR</text>
<line x1="78.70" y1="249.50" x2="91.60" y2="249.50" stroke="#333" stroke-width="0.9"/>
<text x="38.30" y="275.30" font-size="5.5" stroke="#333" stroke-width="0.14" fill="#333" dominant-baseline="central" transform="rotate(-90 38.30 275.30)">KMS-11 LenS</text>
<text x="45.90" y="275.30" font-size="5.5" stroke="#333" stroke-width="0.14" fill="#333" dominant-baseline="central" transform="rotate(-90 45.90 275.30)">shSCR</text>
<text x="54.00" y="275.30" font-size="5.5" stroke="#333" stroke-width="0.14" fill="#333" dominant-baseline="central" transform="rotate(-90 54.00 275.30)">shADAR1</text>
<text x="72.80" y="275.30" font-size="5.5" stroke="#333" stroke-width="0.14" fill="#333" dominant-baseline="central" transform="rotate(-90 72.80 275.30)">MM1.S LenS</text>
<text x="81.10" y="275.30" font-size="5.5" stroke="#333" stroke-width="0.14" fill="#333" dominant-baseline="central" transform="rotate(-90 81.10 275.30)">shSCR</text>
<text x="88.50" y="275.30" font-size="5.5" stroke="#333" stroke-width="0.14" fill="#333" dominant-baseline="central" transform="rotate(-90 88.50 275.30)">shADAR1</text>
<text x="17.80" y="274.60" font-size="5.5" stroke="#333" stroke-width="0.14" fill="#333" dominant-baseline="central">(kDa)</text>
<text x="27.60" y="287.30" font-size="5.6" stroke="#333" stroke-width="0.14" text-anchor="end" fill="#333" dominant-baseline="central">100</text>
<line x1="29.30" y1="287.30" x2="33.90" y2="287.30" stroke="#333" stroke-width="0.7"/>
<text x="27.60" y="296.60" font-size="5.6" stroke="#333" stroke-width="0.14" text-anchor="end" fill="#333" dominant-baseline="central">150</text>
<line x1="29.30" y1="296.60" x2="33.90" y2="296.60" stroke="#333" stroke-width="0.7"/>
<text x="27.60" y="308.80" font-size="5.6" stroke="#333" stroke-width="0.14" text-anchor="end" fill="#333" dominant-baseline="central">37</text>
<line x1="29.30" y1="308.80" x2="33.90" y2="308.80" stroke="#333" stroke-width="0.7"/>
<rect x="34.20" y="278.20" width="25.40" height="12.00" fill="#c6c6c6" stroke="#2e2e2e" stroke-width="0.85"/>
<rect x="68.00" y="278.20" width="25.50" height="12.00" fill="#c6c6c6" stroke="#2e2e2e" stroke-width="0.85"/>
<rect x="35.90" y="285.60" width="6.00" height="2.60" rx="1.30" fill="#0e0e0e" opacity="0.50" filter="url(#bb)"/>
<rect x="43.50" y="285.60" width="7.00" height="2.60" rx="1.30" fill="#0e0e0e" opacity="0.80" filter="url(#bb)"/>
<rect x="52.70" y="285.60" width="5.00" height="2.60" rx="1.30" fill="#0e0e0e" opacity="0.12" filter="url(#bb)"/>
<rect x="70.00" y="285.20" width="5.00" height="2.60" rx="1.30" fill="#0e0e0e" opacity="0.12" filter="url(#bb)"/>
<rect x="77.55" y="285.20" width="6.50" height="2.60" rx="1.30" fill="#0e0e0e" opacity="0.60" filter="url(#bb)"/>
<rect x="86.40" y="285.20" width="5.00" height="2.60" rx="1.30" fill="#0e0e0e" opacity="0.05" filter="url(#bb)"/>
<rect x="34.20" y="291.40" width="25.40" height="10.50" fill="#c2c2c2" stroke="#2e2e2e" stroke-width="0.85"/>
<rect x="68.00" y="291.40" width="25.50" height="10.50" fill="#c2c2c2" stroke="#2e2e2e" stroke-width="0.85"/>
<rect x="35.65" y="296.50" width="6.50" height="2.60" rx="1.30" fill="#0e0e0e" opacity="0.85" filter="url(#bb)"/>
<rect x="43.25" y="296.50" width="7.50" height="2.60" rx="1.30" fill="#0e0e0e" opacity="0.95" filter="url(#bb)"/>
<rect x="52.70" y="296.50" width="5.00" height="2.60" rx="1.30" fill="#0e0e0e" opacity="0.20" filter="url(#bb)"/>
<rect x="69.00" y="296.20" width="7.00" height="2.60" rx="1.30" fill="#0e0e0e" opacity="0.90" filter="url(#bb)"/>
<rect x="77.05" y="296.20" width="7.50" height="2.60" rx="1.30" fill="#0e0e0e" opacity="0.95" filter="url(#bb)"/>
<rect x="85.90" y="296.20" width="6.00" height="2.60" rx="1.30" fill="#0e0e0e" opacity="0.35" filter="url(#bb)"/>
<rect x="34.20" y="303.30" width="25.40" height="11.00" fill="#bdbdbd" stroke="#2e2e2e" stroke-width="0.85"/>
<rect x="68.00" y="303.30" width="25.50" height="11.00" fill="#bdbdbd" stroke="#2e2e2e" stroke-width="0.85"/>
<rect x="34.60" y="307.60" width="8.60" height="2.60" rx="1.30" fill="#0e0e0e" opacity="0.95" filter="url(#bb)"/>
<rect x="42.70" y="307.60" width="8.60" height="2.60" rx="1.30" fill="#0e0e0e" opacity="0.95" filter="url(#bb)"/>
<rect x="50.90" y="307.60" width="8.60" height="2.60" rx="1.30" fill="#0e0e0e" opacity="0.90" filter="url(#bb)"/>
<rect x="68.20" y="307.60" width="8.60" height="2.60" rx="1.30" fill="#0e0e0e" opacity="0.95" filter="url(#bb)"/>
<rect x="76.50" y="307.60" width="8.60" height="2.60" rx="1.30" fill="#0e0e0e" opacity="0.95" filter="url(#bb)"/>
<rect x="84.60" y="307.60" width="8.60" height="2.60" rx="1.30" fill="#0e0e0e" opacity="0.95" filter="url(#bb)"/>
<rect x="44.00" y="280.70" width="6.00" height="1.60" rx="0.80" fill="#0e0e0e" opacity="0.12" filter="url(#bb)"/>
<rect x="77.80" y="280.40" width="6.00" height="1.60" rx="0.80" fill="#0e0e0e" opacity="0.10" filter="url(#bb)"/>
<text x="96.60" y="283.10" font-size="5.7" stroke="#333" stroke-width="0.14" fill="#333" dominant-baseline="central">ADAR1</text>
<path d="M115.6,279.2 q1.1,0 1.1,1.1 v1.9 q0,0.9 0.9,0.9 q-0.9,0 -0.9,0.9 v1.9 q0,1.1 -1.1,1.1" fill="none" stroke="#333" stroke-width="0.6"/>
<text x="118.80" y="280.40" font-size="5.4" stroke="#333" stroke-width="0.14" fill="#333" dominant-baseline="central">p150</text>
<text x="118.80" y="284.50" font-size="5.4" stroke="#333" stroke-width="0.14" fill="#333" dominant-baseline="central">p110</text>
<text x="96.60" y="295.40" font-size="5.6" stroke="#333" stroke-width="0.14" fill="#333" dominant-baseline="central">ADAR1 p150</text>
<text x="96.60" y="308.30" font-size="5.6" stroke="#333" stroke-width="0.14" fill="#333" dominant-baseline="central">GAPDH</text>
<text x="150.30" y="230.10" font-size="11.2" font-weight="bold" stroke="#231f20" stroke-width="0.35">E</text>
<line x1="200.20" y1="233.05" x2="200.20" y2="306.75" stroke="#231f20" stroke-width="1.0"/>
<line x1="199.75" y1="306.30" x2="304.50" y2="306.30" stroke="#231f20" stroke-width="1.0"/>
<line x1="197.40" y1="306.30" x2="200.20" y2="306.30" stroke="#231f20" stroke-width="0.7"/>
<text x="194.20" y="306.30" font-size="5.0" stroke="#333" stroke-width="0.14" text-anchor="end" fill="#333" dominant-baseline="central">0.0</text>
<line x1="197.40" y1="294.58" x2="200.20" y2="294.58" stroke="#231f20" stroke-width="0.7"/>
<text x="194.20" y="294.58" font-size="5.0" stroke="#333" stroke-width="0.14" text-anchor="end" fill="#333" dominant-baseline="central">0.2</text>
<line x1="197.40" y1="282.86" x2="200.20" y2="282.86" stroke="#231f20" stroke-width="0.7"/>
<text x="194.20" y="282.86" font-size="5.0" stroke="#333" stroke-width="0.14" text-anchor="end" fill="#333" dominant-baseline="central">0.4</text>
<line x1="197.40" y1="271.14" x2="200.20" y2="271.14" stroke="#231f20" stroke-width="0.7"/>
<text x="194.20" y="271.14" font-size="5.0" stroke="#333" stroke-width="0.14" text-anchor="end" fill="#333" dominant-baseline="central">0.6</text>
<line x1="197.40" y1="259.42" x2="200.20" y2="259.42" stroke="#231f20" stroke-width="0.7"/>
<text x="194.20" y="259.42" font-size="5.0" stroke="#333" stroke-width="0.14" text-anchor="end" fill="#333" dominant-baseline="central">0.8</text>
<line x1="197.40" y1="247.70" x2="200.20" y2="247.70" stroke="#231f20" stroke-width="0.7"/>
<text x="194.20" y="247.70" font-size="5.0" stroke="#333" stroke-width="0.14" text-anchor="end" fill="#333" dominant-baseline="central">1.0</text>
<line x1="197.40" y1="235.98" x2="200.20" y2="235.98" stroke="#231f20" stroke-width="0.7"/>
<text x="194.20" y="235.98" font-size="5.0" stroke="#333" stroke-width="0.14" text-anchor="end" fill="#333" dominant-baseline="central">1.2</text>
<line x1="204.80" y1="306.30" x2="204.80" y2="308.80" stroke="#231f20" stroke-width="0.7"/>
<text x="205.40" y="313.90" font-size="5.5" stroke="#333" stroke-width="0.14" text-anchor="end" fill="#333" dominant-baseline="central" transform="rotate(-45 205.40 313.90)">DMSO</text>
<line x1="214.50" y1="306.30" x2="214.50" y2="308.80" stroke="#231f20" stroke-width="0.7"/>
<text x="215.10" y="313.90" font-size="5.5" stroke="#333" stroke-width="0.14" text-anchor="end" fill="#333" dominant-baseline="central" transform="rotate(-45 215.10 313.90)">0.1 μM</text>
<line x1="224.20" y1="306.30" x2="224.20" y2="308.80" stroke="#231f20" stroke-width="0.7"/>
<text x="224.80" y="313.90" font-size="5.5" stroke="#333" stroke-width="0.14" text-anchor="end" fill="#333" dominant-baseline="central" transform="rotate(-45 224.80 313.90)">0.25 μM</text>
<line x1="233.90" y1="306.30" x2="233.90" y2="308.80" stroke="#231f20" stroke-width="0.7"/>
<text x="234.50" y="313.90" font-size="5.5" stroke="#333" stroke-width="0.14" text-anchor="end" fill="#333" dominant-baseline="central" transform="rotate(-45 234.50 313.90)">0.5 μM</text>
<line x1="243.60" y1="306.30" x2="243.60" y2="308.80" stroke="#231f20" stroke-width="0.7"/>
<text x="244.20" y="313.90" font-size="5.5" stroke="#333" stroke-width="0.14" text-anchor="end" fill="#333" dominant-baseline="central" transform="rotate(-45 244.20 313.90)">1 μM</text>
<line x1="253.30" y1="306.30" x2="253.30" y2="308.80" stroke="#231f20" stroke-width="0.7"/>
<text x="253.90" y="313.90" font-size="5.5" stroke="#333" stroke-width="0.14" text-anchor="end" fill="#333" dominant-baseline="central" transform="rotate(-45 253.90 313.90)">2.5 μM</text>
<line x1="263.00" y1="306.30" x2="263.00" y2="308.80" stroke="#231f20" stroke-width="0.7"/>
<text x="263.60" y="313.90" font-size="5.5" stroke="#333" stroke-width="0.14" text-anchor="end" fill="#333" dominant-baseline="central" transform="rotate(-45 263.60 313.90)">5 μM</text>
<line x1="272.70" y1="306.30" x2="272.70" y2="308.80" stroke="#231f20" stroke-width="0.7"/>
<text x="273.30" y="313.90" font-size="5.5" stroke="#333" stroke-width="0.14" text-anchor="end" fill="#333" dominant-baseline="central" transform="rotate(-45 273.30 313.90)">10 μM</text>
<line x1="282.40" y1="306.30" x2="282.40" y2="308.80" stroke="#231f20" stroke-width="0.7"/>
<text x="283.00" y="313.90" font-size="5.5" stroke="#333" stroke-width="0.14" text-anchor="end" fill="#333" dominant-baseline="central" transform="rotate(-45 283.00 313.90)">25 μM</text>
<line x1="292.10" y1="306.30" x2="292.10" y2="308.80" stroke="#231f20" stroke-width="0.7"/>
<text x="292.70" y="313.90" font-size="5.5" stroke="#333" stroke-width="0.14" text-anchor="end" fill="#333" dominant-baseline="central" transform="rotate(-45 292.70 313.90)">50 μM</text>
<line x1="301.80" y1="306.30" x2="301.80" y2="308.80" stroke="#231f20" stroke-width="0.7"/>
<text x="302.40" y="313.90" font-size="5.5" stroke="#333" stroke-width="0.14" text-anchor="end" fill="#333" dominant-baseline="central" transform="rotate(-45 302.40 313.90)">100 μM</text>
<line x1="214.50" y1="244.18" x2="214.50" y2="246.53" stroke="#b5122e" stroke-width="0.6"/>
<line x1="213.50" y1="244.18" x2="215.50" y2="244.18" stroke="#b5122e" stroke-width="0.5"/>
<line x1="213.50" y1="246.53" x2="215.50" y2="246.53" stroke="#b5122e" stroke-width="0.5"/>
<line x1="224.20" y1="263.23" x2="224.20" y2="272.02" stroke="#b5122e" stroke-width="0.6"/>
<line x1="223.20" y1="263.23" x2="225.20" y2="263.23" stroke="#b5122e" stroke-width="0.5"/>
<line x1="223.20" y1="272.02" x2="225.20" y2="272.02" stroke="#b5122e" stroke-width="0.5"/>
<line x1="233.90" y1="282.27" x2="233.90" y2="284.62" stroke="#b5122e" stroke-width="0.6"/>
<line x1="232.90" y1="282.27" x2="234.90" y2="282.27" stroke="#b5122e" stroke-width="0.5"/>
<line x1="232.90" y1="284.62" x2="234.90" y2="284.62" stroke="#b5122e" stroke-width="0.5"/>
<line x1="243.60" y1="285.20" x2="243.60" y2="287.55" stroke="#b5122e" stroke-width="0.6"/>
<line x1="242.60" y1="285.20" x2="244.60" y2="285.20" stroke="#b5122e" stroke-width="0.5"/>
<line x1="242.60" y1="287.55" x2="244.60" y2="287.55" stroke="#b5122e" stroke-width="0.5"/>
<line x1="253.30" y1="288.13" x2="253.30" y2="296.92" stroke="#b5122e" stroke-width="0.6"/>
<line x1="252.30" y1="288.13" x2="254.30" y2="288.13" stroke="#b5122e" stroke-width="0.5"/>
<line x1="252.30" y1="296.92" x2="254.30" y2="296.92" stroke="#b5122e" stroke-width="0.5"/>
<line x1="263.00" y1="296.92" x2="263.00" y2="301.61" stroke="#b5122e" stroke-width="0.6"/>
<line x1="262.00" y1="296.92" x2="264.00" y2="296.92" stroke="#b5122e" stroke-width="0.5"/>
<line x1="262.00" y1="301.61" x2="264.00" y2="301.61" stroke="#b5122e" stroke-width="0.5"/>
<line x1="272.70" y1="301.03" x2="272.70" y2="303.37" stroke="#b5122e" stroke-width="0.6"/>
<line x1="271.70" y1="301.03" x2="273.70" y2="301.03" stroke="#b5122e" stroke-width="0.5"/>
<line x1="271.70" y1="303.37" x2="273.70" y2="303.37" stroke="#b5122e" stroke-width="0.5"/>
<line x1="282.40" y1="301.61" x2="282.40" y2="302.78" stroke="#b5122e" stroke-width="0.6"/>
<line x1="281.40" y1="301.61" x2="283.40" y2="301.61" stroke="#b5122e" stroke-width="0.5"/>
<line x1="281.40" y1="302.78" x2="283.40" y2="302.78" stroke="#b5122e" stroke-width="0.5"/>
<line x1="292.10" y1="301.61" x2="292.10" y2="302.78" stroke="#b5122e" stroke-width="0.6"/>
<line x1="291.10" y1="301.61" x2="293.10" y2="301.61" stroke="#b5122e" stroke-width="0.5"/>
<line x1="291.10" y1="302.78" x2="293.10" y2="302.78" stroke="#b5122e" stroke-width="0.5"/>
<line x1="301.80" y1="301.61" x2="301.80" y2="302.78" stroke="#b5122e" stroke-width="0.6"/>
<line x1="300.80" y1="301.61" x2="302.80" y2="301.61" stroke="#b5122e" stroke-width="0.5"/>
<line x1="300.80" y1="302.78" x2="302.80" y2="302.78" stroke="#b5122e" stroke-width="0.5"/>
<polyline points="204.80,247.70 214.50,245.36 224.20,267.62 233.90,283.45 243.60,286.38 253.30,292.53 263.00,299.27 272.70,302.20 282.40,302.20 292.10,302.20 301.80,302.20" fill="none" stroke="#b5122e" stroke-width="1.35"/>
<circle cx="204.80" cy="247.70" r="1.45" fill="#b5122e"/>
<circle cx="214.50" cy="245.36" r="1.45" fill="#b5122e"/>
<circle cx="224.20" cy="267.62" r="1.45" fill="#b5122e"/>
<circle cx="233.90" cy="283.45" r="1.45" fill="#b5122e"/>
<circle cx="243.60" cy="286.38" r="1.45" fill="#b5122e"/>
<circle cx="253.30" cy="292.53" r="1.45" fill="#b5122e"/>
<circle cx="263.00" cy="299.27" r="1.45" fill="#b5122e"/>
<circle cx="272.70" cy="302.20" r="1.45" fill="#b5122e"/>
<circle cx="282.40" cy="302.20" r="1.45" fill="#b5122e"/>
<circle cx="292.10" cy="302.20" r="1.45" fill="#b5122e"/>
<circle cx="301.80" cy="302.20" r="1.45" fill="#b5122e"/>
<line x1="214.50" y1="243.89" x2="214.50" y2="246.24" stroke="#d9786e" stroke-width="0.6"/>
<line x1="213.50" y1="243.89" x2="215.50" y2="243.89" stroke="#d9786e" stroke-width="0.5"/>
<line x1="213.50" y1="246.24" x2="215.50" y2="246.24" stroke="#d9786e" stroke-width="0.5"/>
<line x1="224.20" y1="248.87" x2="224.20" y2="253.56" stroke="#d9786e" stroke-width="0.6"/>
<line x1="223.20" y1="248.87" x2="225.20" y2="248.87" stroke="#d9786e" stroke-width="0.5"/>
<line x1="223.20" y1="253.56" x2="225.20" y2="253.56" stroke="#d9786e" stroke-width="0.5"/>
<line x1="233.90" y1="251.80" x2="233.90" y2="252.97" stroke="#d9786e" stroke-width="0.6"/>
<line x1="232.90" y1="251.80" x2="234.90" y2="251.80" stroke="#d9786e" stroke-width="0.5"/>
<line x1="232.90" y1="252.97" x2="234.90" y2="252.97" stroke="#d9786e" stroke-width="0.5"/>
<line x1="243.60" y1="253.56" x2="243.60" y2="259.42" stroke="#d9786e" stroke-width="0.6"/>
<line x1="242.60" y1="253.56" x2="244.60" y2="253.56" stroke="#d9786e" stroke-width="0.5"/>
<line x1="242.60" y1="259.42" x2="244.60" y2="259.42" stroke="#d9786e" stroke-width="0.5"/>
<line x1="253.30" y1="261.76" x2="253.30" y2="267.62" stroke="#d9786e" stroke-width="0.6"/>
<line x1="252.30" y1="261.76" x2="254.30" y2="261.76" stroke="#d9786e" stroke-width="0.5"/>
<line x1="252.30" y1="267.62" x2="254.30" y2="267.62" stroke="#d9786e" stroke-width="0.5"/>
<line x1="263.00" y1="272.02" x2="263.00" y2="273.19" stroke="#d9786e" stroke-width="0.6"/>
<line x1="262.00" y1="272.02" x2="264.00" y2="272.02" stroke="#d9786e" stroke-width="0.5"/>
<line x1="262.00" y1="273.19" x2="264.00" y2="273.19" stroke="#d9786e" stroke-width="0.5"/>
<line x1="272.70" y1="266.45" x2="272.70" y2="271.14" stroke="#d9786e" stroke-width="0.6"/>
<line x1="271.70" y1="266.45" x2="273.70" y2="266.45" stroke="#d9786e" stroke-width="0.5"/>
<line x1="271.70" y1="271.14" x2="273.70" y2="271.14" stroke="#d9786e" stroke-width="0.5"/>
<line x1="282.40" y1="274.07" x2="282.40" y2="277.59" stroke="#d9786e" stroke-width="0.6"/>
<line x1="281.40" y1="274.07" x2="283.40" y2="274.07" stroke="#d9786e" stroke-width="0.5"/>
<line x1="281.40" y1="277.59" x2="283.40" y2="277.59" stroke="#d9786e" stroke-width="0.5"/>
<line x1="292.10" y1="274.66" x2="292.10" y2="277.00" stroke="#d9786e" stroke-width="0.6"/>
<line x1="291.10" y1="274.66" x2="293.10" y2="274.66" stroke="#d9786e" stroke-width="0.5"/>
<line x1="291.10" y1="277.00" x2="293.10" y2="277.00" stroke="#d9786e" stroke-width="0.5"/>
<line x1="301.80" y1="285.79" x2="301.80" y2="289.31" stroke="#d9786e" stroke-width="0.6"/>
<line x1="300.80" y1="285.79" x2="302.80" y2="285.79" stroke="#d9786e" stroke-width="0.5"/>
<line x1="300.80" y1="289.31" x2="302.80" y2="289.31" stroke="#d9786e" stroke-width="0.5"/>
<polyline points="204.80,247.70 214.50,245.06 224.20,251.22 233.90,252.39 243.60,256.49 253.30,264.69 263.00,272.61 272.70,268.80 282.40,275.83 292.10,275.83 301.80,287.55" fill="none" stroke="#d9786e" stroke-width="1.35"/>
<rect x="203.45" y="246.35" width="2.70" height="2.70" fill="#d9786e"/>
<rect x="213.15" y="243.71" width="2.70" height="2.70" fill="#d9786e"/>
<rect x="222.85" y="249.87" width="2.70" height="2.70" fill="#d9786e"/>
<rect x="232.55" y="251.04" width="2.70" height="2.70" fill="#d9786e"/>
<rect x="242.25" y="255.14" width="2.70" height="2.70" fill="#d9786e"/>
<rect x="251.95" y="263.34" width="2.70" height="2.70" fill="#d9786e"/>
<rect x="261.65" y="271.25" width="2.70" height="2.70" fill="#d9786e"/>
<rect x="271.35" y="267.45" width="2.70" height="2.70" fill="#d9786e"/>
<rect x="281.05" y="274.48" width="2.70" height="2.70" fill="#d9786e"/>
<rect x="290.75" y="274.48" width="2.70" height="2.70" fill="#d9786e"/>
<rect x="300.45" y="286.20" width="2.70" height="2.70" fill="#d9786e"/>
<line x1="214.50" y1="252.39" x2="214.50" y2="254.73" stroke="#f3bcb8" stroke-width="0.6"/>
<line x1="213.50" y1="252.39" x2="215.50" y2="252.39" stroke="#f3bcb8" stroke-width="0.5"/>
<line x1="213.50" y1="254.73" x2="215.50" y2="254.73" stroke="#f3bcb8" stroke-width="0.5"/>
<line x1="224.20" y1="262.94" x2="224.20" y2="266.45" stroke="#f3bcb8" stroke-width="0.6"/>
<line x1="223.20" y1="262.94" x2="225.20" y2="262.94" stroke="#f3bcb8" stroke-width="0.5"/>
<line x1="223.20" y1="266.45" x2="225.20" y2="266.45" stroke="#f3bcb8" stroke-width="0.5"/>
<line x1="233.90" y1="272.90" x2="233.90" y2="279.93" stroke="#f3bcb8" stroke-width="0.6"/>
<line x1="232.90" y1="272.90" x2="234.90" y2="272.90" stroke="#f3bcb8" stroke-width="0.5"/>
<line x1="232.90" y1="279.93" x2="234.90" y2="279.93" stroke="#f3bcb8" stroke-width="0.5"/>
<line x1="243.60" y1="275.24" x2="243.60" y2="281.10" stroke="#f3bcb8" stroke-width="0.6"/>
<line x1="242.60" y1="275.24" x2="244.60" y2="275.24" stroke="#f3bcb8" stroke-width="0.5"/>
<line x1="242.60" y1="281.10" x2="244.60" y2="281.10" stroke="#f3bcb8" stroke-width="0.5"/>
<line x1="253.30" y1="280.52" x2="253.30" y2="284.03" stroke="#f3bcb8" stroke-width="0.6"/>
<line x1="252.30" y1="280.52" x2="254.30" y2="280.52" stroke="#f3bcb8" stroke-width="0.5"/>
<line x1="252.30" y1="284.03" x2="254.30" y2="284.03" stroke="#f3bcb8" stroke-width="0.5"/>
<line x1="263.00" y1="285.20" x2="263.00" y2="288.72" stroke="#f3bcb8" stroke-width="0.6"/>
<line x1="262.00" y1="285.20" x2="264.00" y2="285.20" stroke="#f3bcb8" stroke-width="0.5"/>
<line x1="262.00" y1="288.72" x2="264.00" y2="288.72" stroke="#f3bcb8" stroke-width="0.5"/>
<line x1="272.70" y1="289.89" x2="272.70" y2="293.41" stroke="#f3bcb8" stroke-width="0.6"/>
<line x1="271.70" y1="289.89" x2="273.70" y2="289.89" stroke="#f3bcb8" stroke-width="0.5"/>
<line x1="271.70" y1="293.41" x2="273.70" y2="293.41" stroke="#f3bcb8" stroke-width="0.5"/>
<line x1="282.40" y1="289.31" x2="282.40" y2="291.65" stroke="#f3bcb8" stroke-width="0.6"/>
<line x1="281.40" y1="289.31" x2="283.40" y2="289.31" stroke="#f3bcb8" stroke-width="0.5"/>
<line x1="281.40" y1="291.65" x2="283.40" y2="291.65" stroke="#f3bcb8" stroke-width="0.5"/>
<line x1="292.10" y1="291.65" x2="292.10" y2="293.99" stroke="#f3bcb8" stroke-width="0.6"/>
<line x1="291.10" y1="291.65" x2="293.10" y2="291.65" stroke="#f3bcb8" stroke-width="0.5"/>
<line x1="291.10" y1="293.99" x2="293.10" y2="293.99" stroke="#f3bcb8" stroke-width="0.5"/>
<line x1="301.80" y1="295.75" x2="301.80" y2="298.10" stroke="#f3bcb8" stroke-width="0.6"/>
<line x1="300.80" y1="295.75" x2="302.80" y2="295.75" stroke="#f3bcb8" stroke-width="0.5"/>
<line x1="300.80" y1="298.10" x2="302.80" y2="298.10" stroke="#f3bcb8" stroke-width="0.5"/>
<polyline points="204.80,247.70 214.50,253.56 224.20,264.69 233.90,276.41 243.60,278.17 253.30,282.27 263.00,286.96 272.70,291.65 282.40,290.48 292.10,292.82 301.80,296.92" fill="none" stroke="#f3bcb8" stroke-width="1.35"/>
<path d="M204.80,246.10 L206.30,248.80 L203.30,248.80 Z" fill="#f3bcb8"/>
<path d="M214.50,251.96 L216.00,254.66 L213.00,254.66 Z" fill="#f3bcb8"/>
<path d="M224.20,263.09 L225.70,265.79 L222.70,265.79 Z" fill="#f3bcb8"/>
<path d="M233.90,274.81 L235.40,277.51 L232.40,277.51 Z" fill="#f3bcb8"/>
<path d="M243.60,276.57 L245.10,279.27 L242.10,279.27 Z" fill="#f3bcb8"/>
<path d="M253.30,280.67 L254.80,283.37 L251.80,283.37 Z" fill="#f3bcb8"/>
<path d="M263.00,285.36 L264.50,288.06 L261.50,288.06 Z" fill="#f3bcb8"/>
<path d="M272.70,290.05 L274.20,292.75 L271.20,292.75 Z" fill="#f3bcb8"/>
<path d="M282.40,288.88 L283.90,291.58 L280.90,291.58 Z" fill="#f3bcb8"/>
<path d="M292.10,291.22 L293.60,293.92 L290.60,293.92 Z" fill="#f3bcb8"/>
<path d="M301.80,295.32 L303.30,298.02 L300.30,298.02 Z" fill="#f3bcb8"/>
<line x1="239.70" y1="234.70" x2="247.20" y2="234.70" stroke="#b5122e" stroke-width="1.2"/>
<circle cx="243.45" cy="234.70" r="1.45" fill="#b5122e"/>
<text x="250.30" y="234.70" font-size="5.4" stroke="#333" stroke-width="0.14" fill="#333" dominant-baseline="central">KMS-11 LenS</text>
<line x1="239.70" y1="239.90" x2="247.20" y2="239.90" stroke="#d9786e" stroke-width="1.2"/>
<rect x="242.10" y="238.55" width="2.70" height="2.70" fill="#d9786e"/>
<text x="250.30" y="239.90" font-size="5.4" stroke="#333" stroke-width="0.14" fill="#333" dominant-baseline="central">KMS-11 LenR shSCR</text>
<line x1="239.70" y1="245.30" x2="247.20" y2="245.30" stroke="#f3bcb8" stroke-width="1.2"/>
<path d="M243.45,243.70 L244.95,246.40 L241.95,246.40 Z" fill="#f3bcb8"/>
<text x="250.30" y="245.30" font-size="5.4" stroke="#333" stroke-width="0.14" fill="#333" dominant-baseline="central">KMS-11 LenR shADAR1</text>
<text x="170.90" y="269.50" font-size="6.3" stroke="#333" stroke-width="0.14" text-anchor="middle" fill="#333" dominant-baseline="central" transform="rotate(-90 170.90 269.50)">Relative cell viability</text>
<text x="179.80" y="269.50" font-size="6.3" stroke="#333" stroke-width="0.14" text-anchor="middle" fill="#333" dominant-baseline="central" transform="rotate(-90 179.80 269.50)">(fold change)</text>
<text x="253.50" y="336.60" font-size="6.1" stroke="#333" stroke-width="0.14" text-anchor="middle" fill="#333" dominant-baseline="central">Lenalidomide</text>
<line x1="355.20" y1="233.05" x2="355.20" y2="306.75" stroke="#231f20" stroke-width="1.0"/>
<line x1="354.75" y1="306.30" x2="460.40" y2="306.30" stroke="#231f20" stroke-width="1.0"/>
<line x1="352.40" y1="306.30" x2="355.20" y2="306.30" stroke="#231f20" stroke-width="0.7"/>
<text x="349.20" y="306.30" font-size="5.0" stroke="#333" stroke-width="0.14" text-anchor="end" fill="#333" dominant-baseline="central">0.0</text>
<line x1="352.40" y1="294.58" x2="355.20" y2="294.58" stroke="#231f20" stroke-width="0.7"/>
<text x="349.20" y="294.58" font-size="5.0" stroke="#333" stroke-width="0.14" text-anchor="end" fill="#333" dominant-baseline="central">0.2</text>
<line x1="352.40" y1="282.86" x2="355.20" y2="282.86" stroke="#231f20" stroke-width="0.7"/>
<text x="349.20" y="282.86" font-size="5.0" stroke="#333" stroke-width="0.14" text-anchor="end" fill="#333" dominant-baseline="central">0.4</text>
<line x1="352.40" y1="271.14" x2="355.20" y2="271.14" stroke="#231f20" stroke-width="0.7"/>
<text x="349.20" y="271.14" font-size="5.0" stroke="#333" stroke-width="0.14" text-anchor="end" fill="#333" dominant-baseline="central">0.6</text>
<line x1="352.40" y1="259.42" x2="355.20" y2="259.42" stroke="#231f20" stroke-width="0.7"/>
<text x="349.20" y="259.42" font-size="5.0" stroke="#333" stroke-width="0.14" text-anchor="end" fill="#333" dominant-baseline="central">0.8</text>
<line x1="352.40" y1="247.70" x2="355.20" y2="247.70" stroke="#231f20" stroke-width="0.7"/>
<text x="349.20" y="247.70" font-size="5.0" stroke="#333" stroke-width="0.14" text-anchor="end" fill="#333" dominant-baseline="central">1.0</text>
<line x1="352.40" y1="235.98" x2="355.20" y2="235.98" stroke="#231f20" stroke-width="0.7"/>
<text x="349.20" y="235.98" font-size="5.0" stroke="#333" stroke-width="0.14" text-anchor="end" fill="#333" dominant-baseline="central">1.2</text>
<line x1="360.20" y1="306.30" x2="360.20" y2="308.80" stroke="#231f20" stroke-width="0.7"/>
<text x="360.80" y="313.90" font-size="5.5" stroke="#333" stroke-width="0.14" text-anchor="end" fill="#333" dominant-baseline="central" transform="rotate(-45 360.80 313.90)">DMSO</text>
<line x1="369.82" y1="306.30" x2="369.82" y2="308.80" stroke="#231f20" stroke-width="0.7"/>
<text x="370.42" y="313.90" font-size="5.5" stroke="#333" stroke-width="0.14" text-anchor="end" fill="#333" dominant-baseline="central" transform="rotate(-45 370.42 313.90)">0.1 μM</text>
<line x1="379.44" y1="306.30" x2="379.44" y2="308.80" stroke="#231f20" stroke-width="0.7"/>
<text x="380.04" y="313.90" font-size="5.5" stroke="#333" stroke-width="0.14" text-anchor="end" fill="#333" dominant-baseline="central" transform="rotate(-45 380.04 313.90)">0.25 μM</text>
<line x1="389.06" y1="306.30" x2="389.06" y2="308.80" stroke="#231f20" stroke-width="0.7"/>
<text x="389.66" y="313.90" font-size="5.5" stroke="#333" stroke-width="0.14" text-anchor="end" fill="#333" dominant-baseline="central" transform="rotate(-45 389.66 313.90)">0.5 μM</text>
<line x1="398.68" y1="306.30" x2="398.68" y2="308.80" stroke="#231f20" stroke-width="0.7"/>
<text x="399.28" y="313.90" font-size="5.5" stroke="#333" stroke-width="0.14" text-anchor="end" fill="#333" dominant-baseline="central" transform="rotate(-45 399.28 313.90)">1 μM</text>
<line x1="408.30" y1="306.30" x2="408.30" y2="308.80" stroke="#231f20" stroke-width="0.7"/>
<text x="408.90" y="313.90" font-size="5.5" stroke="#333" stroke-width="0.14" text-anchor="end" fill="#333" dominant-baseline="central" transform="rotate(-45 408.90 313.90)">2.5 μM</text>
<line x1="417.92" y1="306.30" x2="417.92" y2="308.80" stroke="#231f20" stroke-width="0.7"/>
<text x="418.52" y="313.90" font-size="5.5" stroke="#333" stroke-width="0.14" text-anchor="end" fill="#333" dominant-baseline="central" transform="rotate(-45 418.52 313.90)">5 μM</text>
<line x1="427.54" y1="306.30" x2="427.54" y2="308.80" stroke="#231f20" stroke-width="0.7"/>
<text x="428.14" y="313.90" font-size="5.5" stroke="#333" stroke-width="0.14" text-anchor="end" fill="#333" dominant-baseline="central" transform="rotate(-45 428.14 313.90)">10 μM</text>
<line x1="437.16" y1="306.30" x2="437.16" y2="308.80" stroke="#231f20" stroke-width="0.7"/>
<text x="437.76" y="313.90" font-size="5.5" stroke="#333" stroke-width="0.14" text-anchor="end" fill="#333" dominant-baseline="central" transform="rotate(-45 437.76 313.90)">25 μM</text>
<line x1="446.78" y1="306.30" x2="446.78" y2="308.80" stroke="#231f20" stroke-width="0.7"/>
<text x="447.38" y="313.90" font-size="5.5" stroke="#333" stroke-width="0.14" text-anchor="end" fill="#333" dominant-baseline="central" transform="rotate(-45 447.38 313.90)">50 μM</text>
<line x1="456.40" y1="306.30" x2="456.40" y2="308.80" stroke="#231f20" stroke-width="0.7"/>
<text x="457.00" y="313.90" font-size="5.5" stroke="#333" stroke-width="0.14" text-anchor="end" fill="#333" dominant-baseline="central" transform="rotate(-45 457.00 313.90)">100 μM</text>
<line x1="369.82" y1="242.13" x2="369.82" y2="244.48" stroke="#1b3a6e" stroke-width="0.6"/>
<line x1="368.82" y1="242.13" x2="370.82" y2="242.13" stroke="#1b3a6e" stroke-width="0.5"/>
<line x1="368.82" y1="244.48" x2="370.82" y2="244.48" stroke="#1b3a6e" stroke-width="0.5"/>
<line x1="379.44" y1="242.43" x2="379.44" y2="249.46" stroke="#1b3a6e" stroke-width="0.6"/>
<line x1="378.44" y1="242.43" x2="380.44" y2="242.43" stroke="#1b3a6e" stroke-width="0.5"/>
<line x1="378.44" y1="249.46" x2="380.44" y2="249.46" stroke="#1b3a6e" stroke-width="0.5"/>
<line x1="389.06" y1="255.90" x2="389.06" y2="259.42" stroke="#1b3a6e" stroke-width="0.6"/>
<line x1="388.06" y1="255.90" x2="390.06" y2="255.90" stroke="#1b3a6e" stroke-width="0.5"/>
<line x1="388.06" y1="259.42" x2="390.06" y2="259.42" stroke="#1b3a6e" stroke-width="0.5"/>
<line x1="398.68" y1="258.83" x2="398.68" y2="263.52" stroke="#1b3a6e" stroke-width="0.6"/>
<line x1="397.68" y1="258.83" x2="399.68" y2="258.83" stroke="#1b3a6e" stroke-width="0.5"/>
<line x1="397.68" y1="263.52" x2="399.68" y2="263.52" stroke="#1b3a6e" stroke-width="0.5"/>
<line x1="408.30" y1="261.76" x2="408.30" y2="268.80" stroke="#1b3a6e" stroke-width="0.6"/>
<line x1="407.30" y1="261.76" x2="409.30" y2="261.76" stroke="#1b3a6e" stroke-width="0.5"/>
<line x1="407.30" y1="268.80" x2="409.30" y2="268.80" stroke="#1b3a6e" stroke-width="0.5"/>
<line x1="417.92" y1="264.11" x2="417.92" y2="271.14" stroke="#1b3a6e" stroke-width="0.6"/>
<line x1="416.92" y1="264.11" x2="418.92" y2="264.11" stroke="#1b3a6e" stroke-width="0.5"/>
<line x1="416.92" y1="271.14" x2="418.92" y2="271.14" stroke="#1b3a6e" stroke-width="0.5"/>
<line x1="427.54" y1="269.97" x2="427.54" y2="278.17" stroke="#1b3a6e" stroke-width="0.6"/>
<line x1="426.54" y1="269.97" x2="428.54" y2="269.97" stroke="#1b3a6e" stroke-width="0.5"/>
<line x1="426.54" y1="278.17" x2="428.54" y2="278.17" stroke="#1b3a6e" stroke-width="0.5"/>
<line x1="437.16" y1="274.07" x2="437.16" y2="279.93" stroke="#1b3a6e" stroke-width="0.6"/>
<line x1="436.16" y1="274.07" x2="438.16" y2="274.07" stroke="#1b3a6e" stroke-width="0.5"/>
<line x1="436.16" y1="279.93" x2="438.16" y2="279.93" stroke="#1b3a6e" stroke-width="0.5"/>
<line x1="446.78" y1="277.00" x2="446.78" y2="286.38" stroke="#1b3a6e" stroke-width="0.6"/>
<line x1="445.78" y1="277.00" x2="447.78" y2="277.00" stroke="#1b3a6e" stroke-width="0.5"/>
<line x1="445.78" y1="286.38" x2="447.78" y2="286.38" stroke="#1b3a6e" stroke-width="0.5"/>
<line x1="456.40" y1="279.93" x2="456.40" y2="288.13" stroke="#1b3a6e" stroke-width="0.6"/>
<line x1="455.40" y1="279.93" x2="457.40" y2="279.93" stroke="#1b3a6e" stroke-width="0.5"/>
<line x1="455.40" y1="288.13" x2="457.40" y2="288.13" stroke="#1b3a6e" stroke-width="0.5"/>
<polyline points="360.20,247.70 369.82,243.31 379.44,245.94 389.06,257.66 398.68,261.18 408.30,265.28 417.92,267.62 427.54,274.07 437.16,277.00 446.78,281.69 456.40,284.03" fill="none" stroke="#1b3a6e" stroke-width="1.35"/>
<circle cx="360.20" cy="247.70" r="1.45" fill="#1b3a6e"/>
<circle cx="369.82" cy="243.31" r="1.45" fill="#1b3a6e"/>
<circle cx="379.44" cy="245.94" r="1.45" fill="#1b3a6e"/>
<circle cx="389.06" cy="257.66" r="1.45" fill="#1b3a6e"/>
<circle cx="398.68" cy="261.18" r="1.45" fill="#1b3a6e"/>
<circle cx="408.30" cy="265.28" r="1.45" fill="#1b3a6e"/>
<circle cx="417.92" cy="267.62" r="1.45" fill="#1b3a6e"/>
<circle cx="427.54" cy="274.07" r="1.45" fill="#1b3a6e"/>
<circle cx="437.16" cy="277.00" r="1.45" fill="#1b3a6e"/>
<circle cx="446.78" cy="281.69" r="1.45" fill="#1b3a6e"/>
<circle cx="456.40" cy="284.03" r="1.45" fill="#1b3a6e"/>
<line x1="369.82" y1="239.50" x2="369.82" y2="241.84" stroke="#6b7dba" stroke-width="0.6"/>
<line x1="368.82" y1="239.50" x2="370.82" y2="239.50" stroke="#6b7dba" stroke-width="0.5"/>
<line x1="368.82" y1="241.84" x2="370.82" y2="241.84" stroke="#6b7dba" stroke-width="0.5"/>
<line x1="379.44" y1="240.38" x2="379.44" y2="246.24" stroke="#6b7dba" stroke-width="0.6"/>
<line x1="378.44" y1="240.38" x2="380.44" y2="240.38" stroke="#6b7dba" stroke-width="0.5"/>
<line x1="378.44" y1="246.24" x2="380.44" y2="246.24" stroke="#6b7dba" stroke-width="0.5"/>
<line x1="389.06" y1="247.70" x2="389.06" y2="248.87" stroke="#6b7dba" stroke-width="0.6"/>
<line x1="388.06" y1="247.70" x2="390.06" y2="247.70" stroke="#6b7dba" stroke-width="0.5"/>
<line x1="388.06" y1="248.87" x2="390.06" y2="248.87" stroke="#6b7dba" stroke-width="0.5"/>
<line x1="398.68" y1="250.63" x2="398.68" y2="251.80" stroke="#6b7dba" stroke-width="0.6"/>
<line x1="397.68" y1="250.63" x2="399.68" y2="250.63" stroke="#6b7dba" stroke-width="0.5"/>
<line x1="397.68" y1="251.80" x2="399.68" y2="251.80" stroke="#6b7dba" stroke-width="0.5"/>
<line x1="408.30" y1="251.80" x2="408.30" y2="252.97" stroke="#6b7dba" stroke-width="0.6"/>
<line x1="407.30" y1="251.80" x2="409.30" y2="251.80" stroke="#6b7dba" stroke-width="0.5"/>
<line x1="407.30" y1="252.97" x2="409.30" y2="252.97" stroke="#6b7dba" stroke-width="0.5"/>
<line x1="417.92" y1="253.56" x2="417.92" y2="257.08" stroke="#6b7dba" stroke-width="0.6"/>
<line x1="416.92" y1="253.56" x2="418.92" y2="253.56" stroke="#6b7dba" stroke-width="0.5"/>
<line x1="416.92" y1="257.08" x2="418.92" y2="257.08" stroke="#6b7dba" stroke-width="0.5"/>
<line x1="427.54" y1="264.11" x2="427.54" y2="265.28" stroke="#6b7dba" stroke-width="0.6"/>
<line x1="426.54" y1="264.11" x2="428.54" y2="264.11" stroke="#6b7dba" stroke-width="0.5"/>
<line x1="426.54" y1="265.28" x2="428.54" y2="265.28" stroke="#6b7dba" stroke-width="0.5"/>
<line x1="437.16" y1="269.38" x2="437.16" y2="271.73" stroke="#6b7dba" stroke-width="0.6"/>
<line x1="436.16" y1="269.38" x2="438.16" y2="269.38" stroke="#6b7dba" stroke-width="0.5"/>
<line x1="436.16" y1="271.73" x2="438.16" y2="271.73" stroke="#6b7dba" stroke-width="0.5"/>
<line x1="446.78" y1="272.31" x2="446.78" y2="282.86" stroke="#6b7dba" stroke-width="0.6"/>
<line x1="445.78" y1="272.31" x2="447.78" y2="272.31" stroke="#6b7dba" stroke-width="0.5"/>
<line x1="445.78" y1="282.86" x2="447.78" y2="282.86" stroke="#6b7dba" stroke-width="0.5"/>
<line x1="456.40" y1="275.54" x2="456.40" y2="289.60" stroke="#6b7dba" stroke-width="0.6"/>
<line x1="455.40" y1="275.54" x2="457.40" y2="275.54" stroke="#6b7dba" stroke-width="0.5"/>
<line x1="455.40" y1="289.60" x2="457.40" y2="289.60" stroke="#6b7dba" stroke-width="0.5"/>
<polyline points="360.20,247.70 369.82,240.67 379.44,243.31 389.06,248.29 398.68,251.22 408.30,252.39 417.92,255.32 427.54,264.69 437.16,270.55 446.78,277.59 456.40,282.57" fill="none" stroke="#6b7dba" stroke-width="1.35"/>
<rect x="358.85" y="246.35" width="2.70" height="2.70" fill="#6b7dba"/>
<rect x="368.47" y="239.32" width="2.70" height="2.70" fill="#6b7dba"/>
<rect x="378.09" y="241.96" width="2.70" height="2.70" fill="#6b7dba"/>
<rect x="387.71" y="246.94" width="2.70" height="2.70" fill="#6b7dba"/>
<rect x="397.33" y="249.87" width="2.70" height="2.70" fill="#6b7dba"/>
<rect x="406.95" y="251.04" width="2.70" height="2.70" fill="#6b7dba"/>
<rect x="416.57" y="253.97" width="2.70" height="2.70" fill="#6b7dba"/>
<rect x="426.19" y="263.34" width="2.70" height="2.70" fill="#6b7dba"/>
<rect x="435.81" y="269.20" width="2.70" height="2.70" fill="#6b7dba"/>
<rect x="445.43" y="276.24" width="2.70" height="2.70" fill="#6b7dba"/>
<rect x="455.05" y="281.22" width="2.70" height="2.70" fill="#6b7dba"/>
<line x1="369.82" y1="243.01" x2="369.82" y2="245.36" stroke="#b2c4e2" stroke-width="0.6"/>
<line x1="368.82" y1="243.01" x2="370.82" y2="243.01" stroke="#b2c4e2" stroke-width="0.5"/>
<line x1="368.82" y1="245.36" x2="370.82" y2="245.36" stroke="#b2c4e2" stroke-width="0.5"/>
<line x1="379.44" y1="243.60" x2="379.44" y2="257.66" stroke="#b2c4e2" stroke-width="0.6"/>
<line x1="378.44" y1="243.60" x2="380.44" y2="243.60" stroke="#b2c4e2" stroke-width="0.5"/>
<line x1="378.44" y1="257.66" x2="380.44" y2="257.66" stroke="#b2c4e2" stroke-width="0.5"/>
<line x1="389.06" y1="256.49" x2="389.06" y2="262.35" stroke="#b2c4e2" stroke-width="0.6"/>
<line x1="388.06" y1="256.49" x2="390.06" y2="256.49" stroke="#b2c4e2" stroke-width="0.5"/>
<line x1="388.06" y1="262.35" x2="390.06" y2="262.35" stroke="#b2c4e2" stroke-width="0.5"/>
<line x1="398.68" y1="261.18" x2="398.68" y2="265.87" stroke="#b2c4e2" stroke-width="0.6"/>
<line x1="397.68" y1="261.18" x2="399.68" y2="261.18" stroke="#b2c4e2" stroke-width="0.5"/>
<line x1="397.68" y1="265.87" x2="399.68" y2="265.87" stroke="#b2c4e2" stroke-width="0.5"/>
<line x1="408.30" y1="264.69" x2="408.30" y2="269.38" stroke="#b2c4e2" stroke-width="0.6"/>
<line x1="407.30" y1="264.69" x2="409.30" y2="264.69" stroke="#b2c4e2" stroke-width="0.5"/>
<line x1="407.30" y1="269.38" x2="409.30" y2="269.38" stroke="#b2c4e2" stroke-width="0.5"/>
<line x1="417.92" y1="262.35" x2="417.92" y2="279.93" stroke="#b2c4e2" stroke-width="0.6"/>
<line x1="416.92" y1="262.35" x2="418.92" y2="262.35" stroke="#b2c4e2" stroke-width="0.5"/>
<line x1="416.92" y1="279.93" x2="418.92" y2="279.93" stroke="#b2c4e2" stroke-width="0.5"/>
<line x1="427.54" y1="269.97" x2="427.54" y2="277.00" stroke="#b2c4e2" stroke-width="0.6"/>
<line x1="426.54" y1="269.97" x2="428.54" y2="269.97" stroke="#b2c4e2" stroke-width="0.5"/>
<line x1="426.54" y1="277.00" x2="428.54" y2="277.00" stroke="#b2c4e2" stroke-width="0.5"/>
<line x1="437.16" y1="274.66" x2="437.16" y2="279.34" stroke="#b2c4e2" stroke-width="0.6"/>
<line x1="436.16" y1="274.66" x2="438.16" y2="274.66" stroke="#b2c4e2" stroke-width="0.5"/>
<line x1="436.16" y1="279.34" x2="438.16" y2="279.34" stroke="#b2c4e2" stroke-width="0.5"/>
<line x1="446.78" y1="278.17" x2="446.78" y2="284.03" stroke="#b2c4e2" stroke-width="0.6"/>
<line x1="445.78" y1="278.17" x2="447.78" y2="278.17" stroke="#b2c4e2" stroke-width="0.5"/>
<line x1="445.78" y1="284.03" x2="447.78" y2="284.03" stroke="#b2c4e2" stroke-width="0.5"/>
<line x1="456.40" y1="279.34" x2="456.40" y2="288.72" stroke="#b2c4e2" stroke-width="0.6"/>
<line x1="455.40" y1="279.34" x2="457.40" y2="279.34" stroke="#b2c4e2" stroke-width="0.5"/>
<line x1="455.40" y1="288.72" x2="457.40" y2="288.72" stroke="#b2c4e2" stroke-width="0.5"/>
<polyline points="360.20,247.70 369.82,244.18 379.44,250.63 389.06,259.42 398.68,263.52 408.30,267.04 417.92,271.14 427.54,273.48 437.16,277.00 446.78,281.10 456.40,284.03" fill="none" stroke="#b2c4e2" stroke-width="1.35"/>
<path d="M360.20,246.10 L361.70,248.80 L358.70,248.80 Z" fill="#b2c4e2"/>
<path d="M369.82,242.58 L371.32,245.28 L368.32,245.28 Z" fill="#b2c4e2"/>
<path d="M379.44,249.03 L380.94,251.73 L377.94,251.73 Z" fill="#b2c4e2"/>
<path d="M389.06,257.82 L390.56,260.52 L387.56,260.52 Z" fill="#b2c4e2"/>
<path d="M398.68,261.92 L400.18,264.62 L397.18,264.62 Z" fill="#b2c4e2"/>
<path d="M408.30,265.44 L409.80,268.14 L406.80,268.14 Z" fill="#b2c4e2"/>
<path d="M417.92,269.54 L419.42,272.24 L416.42,272.24 Z" fill="#b2c4e2"/>
<path d="M427.54,271.88 L429.04,274.58 L426.04,274.58 Z" fill="#b2c4e2"/>
<path d="M437.16,275.40 L438.66,278.10 L435.66,278.10 Z" fill="#b2c4e2"/>
<path d="M446.78,279.50 L448.28,282.20 L445.28,282.20 Z" fill="#b2c4e2"/>
<path d="M456.40,282.43 L457.90,285.13 L454.90,285.13 Z" fill="#b2c4e2"/>
<line x1="421.30" y1="234.90" x2="428.80" y2="234.90" stroke="#1b3a6e" stroke-width="1.2"/>
<circle cx="425.05" cy="234.90" r="1.45" fill="#1b3a6e"/>
<text x="431.70" y="234.90" font-size="5.4" stroke="#333" stroke-width="0.14" fill="#333" dominant-baseline="central">MM1.S LenS</text>
<line x1="421.30" y1="239.90" x2="428.80" y2="239.90" stroke="#6b7dba" stroke-width="1.2"/>
<rect x="423.70" y="238.55" width="2.70" height="2.70" fill="#6b7dba"/>
<text x="431.70" y="239.90" font-size="5.4" stroke="#333" stroke-width="0.14" fill="#333" dominant-baseline="central">MM1.S LenR shSCR</text>
<line x1="421.30" y1="245.30" x2="428.80" y2="245.30" stroke="#b2c4e2" stroke-width="1.2"/>
<path d="M425.05,243.70 L426.55,246.40 L423.55,246.40 Z" fill="#b2c4e2"/>
<text x="431.70" y="245.30" font-size="5.4" stroke="#333" stroke-width="0.14" fill="#333" dominant-baseline="central">MM1.S LenR shADAR1</text>
<text x="325.90" y="269.50" font-size="6.3" stroke="#333" stroke-width="0.14" text-anchor="middle" fill="#333" dominant-baseline="central" transform="rotate(-90 325.90 269.50)">Relative cell viability</text>
<text x="334.80" y="269.50" font-size="6.3" stroke="#333" stroke-width="0.14" text-anchor="middle" fill="#333" dominant-baseline="central" transform="rotate(-90 334.80 269.50)">(fold change)</text>
<text x="408.50" y="336.60" font-size="6.1" stroke="#333" stroke-width="0.14" text-anchor="middle" fill="#333" dominant-baseline="central">Lenalidomide</text>
<text x="233.70" y="286.50" font-size="3.6" stroke="#555" stroke-width="0.14" text-anchor="middle" fill="#555" dominant-baseline="central">*</text>
<text x="243.40" y="289.00" font-size="3.6" stroke="#555" stroke-width="0.14" text-anchor="middle" fill="#555" dominant-baseline="central">*</text>
<text x="272.40" y="289.50" font-size="3.6" stroke="#555" stroke-width="0.14" text-anchor="middle" fill="#555" dominant-baseline="central">*</text>
<text x="282.10" y="289.50" font-size="3.6" stroke="#555" stroke-width="0.14" text-anchor="middle" fill="#555" dominant-baseline="central">*</text>
<text x="291.80" y="291.50" font-size="3.6" stroke="#555" stroke-width="0.14" text-anchor="middle" fill="#555" dominant-baseline="central">*</text>
<text x="301.50" y="293.50" font-size="3.6" stroke="#555" stroke-width="0.14" text-anchor="middle" fill="#555" dominant-baseline="central">*</text>
<text x="262.90" y="302.00" font-size="3.6" stroke="#555" stroke-width="0.14" text-anchor="middle" fill="#555" dominant-baseline="central">*</text>
<text x="272.40" y="302.00" font-size="3.6" stroke="#555" stroke-width="0.14" text-anchor="middle" fill="#555" dominant-baseline="central">*</text>
<text x="282.10" y="302.00" font-size="3.6" stroke="#555" stroke-width="0.14" text-anchor="middle" fill="#555" dominant-baseline="central">*</text>
<text x="291.80" y="302.00" font-size="3.6" stroke="#555" stroke-width="0.14" text-anchor="middle" fill="#555" dominant-baseline="central">*</text>
<text x="301.50" y="302.00" font-size="3.6" stroke="#555" stroke-width="0.14" text-anchor="middle" fill="#555" dominant-baseline="central">*</text>
<text x="233.70" y="278.00" font-size="3.6" stroke="#555" stroke-width="0.14" text-anchor="middle" fill="#555" dominant-baseline="central">*</text>
<text x="6.60" y="353.40" font-size="11.2" font-weight="bold" stroke="#231f20" stroke-width="0.35">F</text>
<rect x="35.00" y="388.10" width="73.80" height="12.20" fill="#b6b6b6" stroke="#2e2e2e" stroke-width="0.85"/>
<rect x="35.62" y="395.05" width="6.97" height="2.50" rx="1.25" fill="#0e0e0e" opacity="0.60" filter="url(#bb)"/>
<rect x="43.81" y="395.05" width="6.97" height="2.50" rx="1.25" fill="#0e0e0e" opacity="0.35" filter="url(#bb)"/>
<rect x="52.02" y="395.05" width="6.97" height="2.50" rx="1.25" fill="#0e0e0e" opacity="0.30" filter="url(#bb)"/>
<rect x="59.60" y="395.10" width="24.60" height="3.00" rx="1.50" fill="#0e0e0e" opacity="0.75" filter="url(#bb2)"/>
<rect x="67.66" y="394.80" width="11.48" height="3.60" rx="1.80" fill="#0e0e0e" opacity="0.45" filter="url(#bb2)"/>
<rect x="84.81" y="395.05" width="6.97" height="2.50" rx="1.25" fill="#0e0e0e" opacity="0.25" filter="url(#bb)"/>
<rect x="93.02" y="395.05" width="6.97" height="2.50" rx="1.25" fill="#0e0e0e" opacity="0.25" filter="url(#bb)"/>
<rect x="101.21" y="395.05" width="6.97" height="2.50" rx="1.25" fill="#0e0e0e" opacity="0.20" filter="url(#bb)"/>
<rect x="35.00" y="401.00" width="73.80" height="11.10" fill="#b4b4b4" stroke="#2e2e2e" stroke-width="0.85"/>
<rect x="35.62" y="405.35" width="6.97" height="2.50" rx="1.25" fill="#0e0e0e" opacity="0.15" filter="url(#bb)"/>
<rect x="43.81" y="405.35" width="6.97" height="2.50" rx="1.25" fill="#0e0e0e" opacity="0.15" filter="url(#bb)"/>
<rect x="52.02" y="405.35" width="6.97" height="2.50" rx="1.25" fill="#0e0e0e" opacity="0.20" filter="url(#bb)"/>
<rect x="60.21" y="406.35" width="6.97" height="2.50" rx="1.25" fill="#0e0e0e" opacity="0.50" filter="url(#bb)"/>
<rect x="68.42" y="406.35" width="6.97" height="2.50" rx="1.25" fill="#0e0e0e" opacity="0.60" filter="url(#bb)"/>
<rect x="76.61" y="406.35" width="6.97" height="2.50" rx="1.25" fill="#0e0e0e" opacity="0.60" filter="url(#bb)"/>
<rect x="84.81" y="405.35" width="6.97" height="2.50" rx="1.25" fill="#0e0e0e" opacity="0.10" filter="url(#bb)"/>
<rect x="93.02" y="405.35" width="6.97" height="2.50" rx="1.25" fill="#0e0e0e" opacity="0.10" filter="url(#bb)"/>
<rect x="101.21" y="405.35" width="6.97" height="2.50" rx="1.25" fill="#0e0e0e" opacity="0.15" filter="url(#bb)"/>
<rect x="35.00" y="413.50" width="73.80" height="10.80" fill="#adadad" stroke="#2e2e2e" stroke-width="0.85"/>
<rect x="35.40" y="413.90" width="73.00" height="1.80" fill="#9c9c9c"/>
<rect x="35.62" y="417.95" width="6.97" height="2.50" rx="1.25" fill="#0e0e0e" opacity="0.75" filter="url(#bb)"/>
<rect x="43.81" y="417.95" width="6.97" height="2.50" rx="1.25" fill="#0e0e0e" opacity="0.85" filter="url(#bb)"/>
<rect x="52.02" y="417.95" width="6.97" height="2.50" rx="1.25" fill="#0e0e0e" opacity="0.90" filter="url(#bb)"/>
<rect x="60.21" y="417.95" width="6.97" height="2.50" rx="1.25" fill="#0e0e0e" opacity="0.80" filter="url(#bb)"/>
<rect x="68.42" y="417.95" width="6.97" height="2.50" rx="1.25" fill="#0e0e0e" opacity="0.75" filter="url(#bb)"/>
<rect x="76.61" y="417.95" width="6.97" height="2.50" rx="1.25" fill="#0e0e0e" opacity="0.50" filter="url(#bb)"/>
<rect x="84.81" y="417.95" width="6.97" height="2.50" rx="1.25" fill="#0e0e0e" opacity="0.90" filter="url(#bb)"/>
<rect x="93.02" y="417.95" width="6.97" height="2.50" rx="1.25" fill="#0e0e0e" opacity="0.85" filter="url(#bb)"/>
<rect x="101.21" y="417.95" width="6.97" height="2.50" rx="1.25" fill="#0e0e0e" opacity="0.85" filter="url(#bb)"/>
<rect x="35.00" y="430.30" width="73.80" height="11.50" fill="#a6a6a6" stroke="#2e2e2e" stroke-width="0.85"/>
<rect x="35.62" y="436.90" width="6.97" height="2.20" rx="1.10" fill="#0e0e0e" opacity="0.55" filter="url(#bb2)"/>
<rect x="35.82" y="434.50" width="6.56" height="1.80" rx="0.90" fill="#0e0e0e" opacity="0.33" filter="url(#bb2)"/>
<rect x="43.81" y="436.90" width="6.97" height="2.20" rx="1.10" fill="#0e0e0e" opacity="0.70" filter="url(#bb2)"/>
<rect x="44.02" y="434.50" width="6.56" height="1.80" rx="0.90" fill="#0e0e0e" opacity="0.42" filter="url(#bb2)"/>
<rect x="52.02" y="436.90" width="6.97" height="2.20" rx="1.10" fill="#0e0e0e" opacity="0.50" filter="url(#bb2)"/>
<rect x="52.22" y="434.50" width="6.56" height="1.80" rx="0.90" fill="#0e0e0e" opacity="0.30" filter="url(#bb2)"/>
<rect x="60.21" y="436.90" width="6.97" height="2.20" rx="1.10" fill="#0e0e0e" opacity="0.25" filter="url(#bb2)"/>
<rect x="60.42" y="434.50" width="6.56" height="1.80" rx="0.90" fill="#0e0e0e" opacity="0.15" filter="url(#bb2)"/>
<rect x="68.42" y="436.90" width="6.97" height="2.20" rx="1.10" fill="#0e0e0e" opacity="0.30" filter="url(#bb2)"/>
<rect x="68.62" y="434.50" width="6.56" height="1.80" rx="0.90" fill="#0e0e0e" opacity="0.18" filter="url(#bb2)"/>
<rect x="76.61" y="436.90" width="6.97" height="2.20" rx="1.10" fill="#0e0e0e" opacity="0.60" filter="url(#bb2)"/>
<rect x="76.82" y="434.50" width="6.56" height="1.80" rx="0.90" fill="#0e0e0e" opacity="0.36" filter="url(#bb2)"/>
<rect x="84.81" y="436.90" width="6.97" height="2.20" rx="1.10" fill="#0e0e0e" opacity="0.55" filter="url(#bb2)"/>
<rect x="85.02" y="434.50" width="6.56" height="1.80" rx="0.90" fill="#0e0e0e" opacity="0.33" filter="url(#bb2)"/>
<rect x="93.02" y="436.90" width="6.97" height="2.20" rx="1.10" fill="#0e0e0e" opacity="0.50" filter="url(#bb2)"/>
<rect x="93.22" y="434.50" width="6.56" height="1.80" rx="0.90" fill="#0e0e0e" opacity="0.30" filter="url(#bb2)"/>
<rect x="101.21" y="436.90" width="6.97" height="2.20" rx="1.10" fill="#0e0e0e" opacity="0.80" filter="url(#bb2)"/>
<rect x="101.42" y="434.50" width="6.56" height="1.80" rx="0.90" fill="#0e0e0e" opacity="0.48" filter="url(#bb2)"/>
<rect x="35.00" y="445.90" width="73.80" height="11.40" fill="#afafaf" stroke="#2e2e2e" stroke-width="0.85"/>
<rect x="35.62" y="450.55" width="6.97" height="2.50" rx="1.25" fill="#0e0e0e" opacity="0.45" filter="url(#bb)"/>
<rect x="43.81" y="450.55" width="6.97" height="2.50" rx="1.25" fill="#0e0e0e" opacity="0.50" filter="url(#bb)"/>
<rect x="52.02" y="450.55" width="6.97" height="2.50" rx="1.25" fill="#0e0e0e" opacity="0.50" filter="url(#bb)"/>
<rect x="60.21" y="450.55" width="6.97" height="2.50" rx="1.25" fill="#0e0e0e" opacity="0.40" filter="url(#bb)"/>
<rect x="68.42" y="450.55" width="6.97" height="2.50" rx="1.25" fill="#0e0e0e" opacity="0.45" filter="url(#bb)"/>
<rect x="76.61" y="450.55" width="6.97" height="2.50" rx="1.25" fill="#0e0e0e" opacity="0.40" filter="url(#bb)"/>
<rect x="84.81" y="450.55" width="6.97" height="2.50" rx="1.25" fill="#0e0e0e" opacity="0.60" filter="url(#bb)"/>
<rect x="93.02" y="450.55" width="6.97" height="2.50" rx="1.25" fill="#0e0e0e" opacity="0.50" filter="url(#bb)"/>
<rect x="101.21" y="450.55" width="6.97" height="2.50" rx="1.25" fill="#0e0e0e" opacity="0.65" filter="url(#bb)"/>
<rect x="35.00" y="461.80" width="73.80" height="11.50" fill="#ababab" stroke="#2e2e2e" stroke-width="0.85"/>
<rect x="35.62" y="465.55" width="6.97" height="2.50" rx="1.25" fill="#0e0e0e" opacity="0.95" filter="url(#bb)"/>
<rect x="43.81" y="465.55" width="6.97" height="2.50" rx="1.25" fill="#0e0e0e" opacity="0.90" filter="url(#bb)"/>
<rect x="52.02" y="465.55" width="6.97" height="2.50" rx="1.25" fill="#0e0e0e" opacity="0.90" filter="url(#bb)"/>
<rect x="60.21" y="465.55" width="6.97" height="2.50" rx="1.25" fill="#0e0e0e" opacity="0.90" filter="url(#bb)"/>
<rect x="68.42" y="465.55" width="6.97" height="2.50" rx="1.25" fill="#0e0e0e" opacity="0.90" filter="url(#bb)"/>
<rect x="76.61" y="465.55" width="6.97" height="2.50" rx="1.25" fill="#0e0e0e" opacity="0.85" filter="url(#bb)"/>
<rect x="84.81" y="465.55" width="6.97" height="2.50" rx="1.25" fill="#0e0e0e" opacity="0.90" filter="url(#bb)"/>
<rect x="93.02" y="465.55" width="6.97" height="2.50" rx="1.25" fill="#0e0e0e" opacity="0.90" filter="url(#bb)"/>
<rect x="101.21" y="465.55" width="6.97" height="2.50" rx="1.25" fill="#0e0e0e" opacity="0.90" filter="url(#bb)"/>
<rect x="35.00" y="478.00" width="73.80" height="11.50" fill="#acacac" stroke="#2e2e2e" stroke-width="0.85"/>
<rect x="35.62" y="482.45" width="6.97" height="2.50" rx="1.25" fill="#0e0e0e" opacity="0.85" filter="url(#bb)"/>
<rect x="43.81" y="482.45" width="6.97" height="2.50" rx="1.25" fill="#0e0e0e" opacity="0.80" filter="url(#bb)"/>
<rect x="52.02" y="482.45" width="6.97" height="2.50" rx="1.25" fill="#0e0e0e" opacity="0.85" filter="url(#bb)"/>
<rect x="60.21" y="482.45" width="6.97" height="2.50" rx="1.25" fill="#0e0e0e" opacity="0.80" filter="url(#bb)"/>
<rect x="68.42" y="482.45" width="6.97" height="2.50" rx="1.25" fill="#0e0e0e" opacity="0.80" filter="url(#bb)"/>
<rect x="76.61" y="482.45" width="6.97" height="2.50" rx="1.25" fill="#0e0e0e" opacity="0.80" filter="url(#bb)"/>
<rect x="84.81" y="482.45" width="6.97" height="2.50" rx="1.25" fill="#0e0e0e" opacity="0.85" filter="url(#bb)"/>
<rect x="93.02" y="482.45" width="6.97" height="2.50" rx="1.25" fill="#0e0e0e" opacity="0.80" filter="url(#bb)"/>
<rect x="101.21" y="482.45" width="6.97" height="2.50" rx="1.25" fill="#0e0e0e" opacity="0.85" filter="url(#bb)"/>
<rect x="35.00" y="494.50" width="73.80" height="11.70" fill="#a9a9a9" stroke="#2e2e2e" stroke-width="0.85"/>
<rect x="35.62" y="499.35" width="6.97" height="2.50" rx="1.25" fill="#0e0e0e" opacity="0.85" filter="url(#bb)"/>
<rect x="43.81" y="499.35" width="6.97" height="2.50" rx="1.25" fill="#0e0e0e" opacity="0.90" filter="url(#bb)"/>
<rect x="52.02" y="499.35" width="6.97" height="2.50" rx="1.25" fill="#0e0e0e" opacity="0.95" filter="url(#bb)"/>
<rect x="60.21" y="499.35" width="6.97" height="2.50" rx="1.25" fill="#0e0e0e" opacity="0.90" filter="url(#bb)"/>
<rect x="68.42" y="499.35" width="6.97" height="2.50" rx="1.25" fill="#0e0e0e" opacity="0.85" filter="url(#bb)"/>
<rect x="76.61" y="499.35" width="6.97" height="2.50" rx="1.25" fill="#0e0e0e" opacity="0.85" filter="url(#bb)"/>
<rect x="84.81" y="499.35" width="6.97" height="2.50" rx="1.25" fill="#0e0e0e" opacity="0.90" filter="url(#bb)"/>
<rect x="93.02" y="499.35" width="6.97" height="2.50" rx="1.25" fill="#0e0e0e" opacity="0.85" filter="url(#bb)"/>
<rect x="101.21" y="499.35" width="6.97" height="2.50" rx="1.25" fill="#0e0e0e" opacity="0.90" filter="url(#bb)"/>
<rect x="35.00" y="510.00" width="73.80" height="11.30" fill="#aeaeae" stroke="#2e2e2e" stroke-width="0.85"/>
<rect x="35.62" y="514.75" width="6.97" height="2.50" rx="1.25" fill="#0e0e0e" opacity="0.55" filter="url(#bb)"/>
<rect x="43.81" y="514.75" width="6.97" height="2.50" rx="1.25" fill="#0e0e0e" opacity="0.85" filter="url(#bb)"/>
<rect x="52.02" y="514.75" width="6.97" height="2.50" rx="1.25" fill="#0e0e0e" opacity="0.85" filter="url(#bb)"/>
<rect x="60.21" y="514.75" width="6.97" height="2.50" rx="1.25" fill="#0e0e0e" opacity="0.85" filter="url(#bb)"/>
<rect x="68.42" y="514.75" width="6.97" height="2.50" rx="1.25" fill="#0e0e0e" opacity="0.55" filter="url(#bb)"/>
<rect x="76.61" y="514.75" width="6.97" height="2.50" rx="1.25" fill="#0e0e0e" opacity="0.20" filter="url(#bb)"/>
<rect x="84.81" y="514.75" width="6.97" height="2.50" rx="1.25" fill="#0e0e0e" opacity="0.90" filter="url(#bb)"/>
<rect x="93.02" y="514.75" width="6.97" height="2.50" rx="1.25" fill="#0e0e0e" opacity="0.90" filter="url(#bb)"/>
<rect x="101.21" y="514.75" width="6.97" height="2.50" rx="1.25" fill="#0e0e0e" opacity="0.90" filter="url(#bb)"/>
<rect x="35.00" y="526.20" width="73.80" height="11.80" fill="#ababab" stroke="#2e2e2e" stroke-width="0.85"/>
<rect x="35.62" y="531.35" width="6.97" height="2.50" rx="1.25" fill="#0e0e0e" opacity="0.75" filter="url(#bb)"/>
<rect x="43.81" y="531.35" width="6.97" height="2.50" rx="1.25" fill="#0e0e0e" opacity="0.65" filter="url(#bb)"/>
<rect x="52.02" y="531.35" width="6.97" height="2.50" rx="1.25" fill="#0e0e0e" opacity="0.55" filter="url(#bb)"/>
<rect x="60.21" y="531.35" width="6.97" height="2.50" rx="1.25" fill="#0e0e0e" opacity="0.75" filter="url(#bb)"/>
<rect x="68.42" y="531.35" width="6.97" height="2.50" rx="1.25" fill="#0e0e0e" opacity="0.75" filter="url(#bb)"/>
<rect x="76.61" y="531.35" width="6.97" height="2.50" rx="1.25" fill="#0e0e0e" opacity="0.75" filter="url(#bb)"/>
<rect x="84.81" y="531.35" width="6.97" height="2.50" rx="1.25" fill="#0e0e0e" opacity="0.75" filter="url(#bb)"/>
<rect x="93.02" y="531.35" width="6.97" height="2.50" rx="1.25" fill="#0e0e0e" opacity="0.75" filter="url(#bb)"/>
<rect x="101.21" y="531.35" width="6.97" height="2.50" rx="1.25" fill="#0e0e0e" opacity="0.80" filter="url(#bb)"/>
<rect x="35.00" y="543.00" width="73.80" height="11.50" fill="#aeaeae" stroke="#2e2e2e" stroke-width="0.85"/>
<rect x="35.62" y="546.95" width="6.97" height="2.50" rx="1.25" fill="#0e0e0e" opacity="0.85" filter="url(#bb)"/>
<rect x="43.81" y="546.95" width="6.97" height="2.50" rx="1.25" fill="#0e0e0e" opacity="0.70" filter="url(#bb)"/>
<rect x="52.02" y="546.95" width="6.97" height="2.50" rx="1.25" fill="#0e0e0e" opacity="0.60" filter="url(#bb)"/>
<rect x="60.21" y="546.95" width="6.97" height="2.50" rx="1.25" fill="#0e0e0e" opacity="0.85" filter="url(#bb)"/>
<rect x="68.42" y="546.95" width="6.97" height="2.50" rx="1.25" fill="#0e0e0e" opacity="0.85" filter="url(#bb)"/>
<rect x="76.61" y="546.95" width="6.97" height="2.50" rx="1.25" fill="#0e0e0e" opacity="0.85" filter="url(#bb)"/>
<rect x="84.81" y="546.95" width="6.97" height="2.50" rx="1.25" fill="#0e0e0e" opacity="0.85" filter="url(#bb)"/>
<rect x="93.02" y="546.95" width="6.97" height="2.50" rx="1.25" fill="#0e0e0e" opacity="0.80" filter="url(#bb)"/>
<rect x="101.21" y="546.95" width="6.97" height="2.50" rx="1.25" fill="#0e0e0e" opacity="0.85" filter="url(#bb)"/>
<line x1="59.60" y1="353.20" x2="59.60" y2="555.00" stroke="#2a2a2a" stroke-width="0.6" stroke-dasharray="1.2,1.1"/>
<line x1="84.20" y1="353.20" x2="84.20" y2="555.00" stroke="#2a2a2a" stroke-width="0.6" stroke-dasharray="1.2,1.1"/>
<text x="39.10" y="427.40" font-size="3.1" stroke="#222" stroke-width="0.05" text-anchor="middle" fill="#222" dominant-baseline="central">1</text>
<text x="47.30" y="427.40" font-size="3.1" stroke="#222" stroke-width="0.05" text-anchor="middle" fill="#222" dominant-baseline="central">2.21</text>
<text x="55.50" y="427.40" font-size="3.1" stroke="#222" stroke-width="0.05" text-anchor="middle" fill="#222" dominant-baseline="central">1.29</text>
<text x="63.70" y="427.40" font-size="3.1" stroke="#222" stroke-width="0.05" text-anchor="middle" fill="#222" dominant-baseline="central">1.52</text>
<text x="71.90" y="427.40" font-size="3.1" stroke="#222" stroke-width="0.05" text-anchor="middle" fill="#222" dominant-baseline="central">1.01</text>
<text x="80.10" y="427.40" font-size="3.1" stroke="#222" stroke-width="0.05" text-anchor="middle" fill="#222" dominant-baseline="central">1.32</text>
<text x="88.30" y="427.40" font-size="3.1" stroke="#222" stroke-width="0.05" text-anchor="middle" fill="#222" dominant-baseline="central">1.82</text>
<text x="96.50" y="427.40" font-size="3.1" stroke="#222" stroke-width="0.05" text-anchor="middle" fill="#222" dominant-baseline="central">0.87</text>
<text x="104.70" y="427.40" font-size="3.1" stroke="#222" stroke-width="0.05" text-anchor="middle" fill="#222" dominant-baseline="central">0.81</text>
<text x="39.10" y="443.90" font-size="3.1" stroke="#222" stroke-width="0.05" text-anchor="middle" fill="#222" dominant-baseline="central">1</text>
<text x="47.30" y="443.90" font-size="3.1" stroke="#222" stroke-width="0.05" text-anchor="middle" fill="#222" dominant-baseline="central">1.03</text>
<text x="55.50" y="443.90" font-size="3.1" stroke="#222" stroke-width="0.05" text-anchor="middle" fill="#222" dominant-baseline="central">1.71</text>
<text x="63.70" y="443.90" font-size="3.1" stroke="#222" stroke-width="0.05" text-anchor="middle" fill="#222" dominant-baseline="central">1.83</text>
<text x="71.90" y="443.90" font-size="3.1" stroke="#222" stroke-width="0.05" text-anchor="middle" fill="#222" dominant-baseline="central">1.42</text>
<text x="80.10" y="443.90" font-size="3.1" stroke="#222" stroke-width="0.05" text-anchor="middle" fill="#222" dominant-baseline="central">0.89</text>
<text x="88.30" y="443.90" font-size="3.1" stroke="#222" stroke-width="0.05" text-anchor="middle" fill="#222" dominant-baseline="central">1.96</text>
<text x="96.50" y="443.90" font-size="3.1" stroke="#222" stroke-width="0.05" text-anchor="middle" fill="#222" dominant-baseline="central">2.12</text>
<text x="104.70" y="443.90" font-size="3.1" stroke="#222" stroke-width="0.05" text-anchor="middle" fill="#222" dominant-baseline="central">1.66</text>
<text x="39.10" y="459.30" font-size="3.1" stroke="#222" stroke-width="0.05" text-anchor="middle" fill="#222" dominant-baseline="central">1</text>
<text x="47.30" y="459.30" font-size="3.1" stroke="#222" stroke-width="0.05" text-anchor="middle" fill="#222" dominant-baseline="central">1.89</text>
<text x="55.50" y="459.30" font-size="3.1" stroke="#222" stroke-width="0.05" text-anchor="middle" fill="#222" dominant-baseline="central">2.44</text>
<text x="63.70" y="459.30" font-size="3.1" stroke="#222" stroke-width="0.05" text-anchor="middle" fill="#222" dominant-baseline="central">1.89</text>
<text x="71.90" y="459.30" font-size="3.1" stroke="#222" stroke-width="0.05" text-anchor="middle" fill="#222" dominant-baseline="central">1.63</text>
<text x="80.10" y="459.30" font-size="3.1" stroke="#222" stroke-width="0.05" text-anchor="middle" fill="#222" dominant-baseline="central">1.07</text>
<text x="88.30" y="459.30" font-size="3.1" stroke="#222" stroke-width="0.05" text-anchor="middle" fill="#222" dominant-baseline="central">0.82</text>
<text x="96.50" y="459.30" font-size="3.1" stroke="#222" stroke-width="0.05" text-anchor="middle" fill="#222" dominant-baseline="central">2.40</text>
<text x="104.70" y="459.30" font-size="3.1" stroke="#222" stroke-width="0.05" text-anchor="middle" fill="#222" dominant-baseline="central">0.87</text>
<text x="39.10" y="475.80" font-size="3.1" stroke="#222" stroke-width="0.05" text-anchor="middle" fill="#222" dominant-baseline="central">1</text>
<text x="47.30" y="475.80" font-size="3.1" stroke="#222" stroke-width="0.05" text-anchor="middle" fill="#222" dominant-baseline="central">2.40</text>
<text x="55.50" y="475.80" font-size="3.1" stroke="#222" stroke-width="0.05" text-anchor="middle" fill="#222" dominant-baseline="central">2.49</text>
<text x="63.70" y="475.80" font-size="3.1" stroke="#222" stroke-width="0.05" text-anchor="middle" fill="#222" dominant-baseline="central">0.66</text>
<text x="71.90" y="475.80" font-size="3.1" stroke="#222" stroke-width="0.05" text-anchor="middle" fill="#222" dominant-baseline="central">1.75</text>
<text x="80.10" y="475.80" font-size="3.1" stroke="#222" stroke-width="0.05" text-anchor="middle" fill="#222" dominant-baseline="central">0.73</text>
<text x="88.30" y="475.80" font-size="3.1" stroke="#222" stroke-width="0.05" text-anchor="middle" fill="#222" dominant-baseline="central">0.63</text>
<text x="96.50" y="475.80" font-size="3.1" stroke="#222" stroke-width="0.05" text-anchor="middle" fill="#222" dominant-baseline="central">0.63</text>
<text x="104.70" y="475.80" font-size="3.1" stroke="#222" stroke-width="0.05" text-anchor="middle" fill="#222" dominant-baseline="central">0.96</text>
<text x="39.10" y="492.60" font-size="3.1" stroke="#222" stroke-width="0.05" text-anchor="middle" fill="#222" dominant-baseline="central">1</text>
<text x="47.30" y="492.60" font-size="3.1" stroke="#222" stroke-width="0.05" text-anchor="middle" fill="#222" dominant-baseline="central">0.95</text>
<text x="55.50" y="492.60" font-size="3.1" stroke="#222" stroke-width="0.05" text-anchor="middle" fill="#222" dominant-baseline="central">0.90</text>
<text x="63.70" y="492.60" font-size="3.1" stroke="#222" stroke-width="0.05" text-anchor="middle" fill="#222" dominant-baseline="central">0.54</text>
<text x="71.90" y="492.60" font-size="3.1" stroke="#222" stroke-width="0.05" text-anchor="middle" fill="#222" dominant-baseline="central">2.31</text>
<text x="80.10" y="492.60" font-size="3.1" stroke="#222" stroke-width="0.05" text-anchor="middle" fill="#222" dominant-baseline="central">0.92</text>
<text x="88.30" y="492.60" font-size="3.1" stroke="#222" stroke-width="0.05" text-anchor="middle" fill="#222" dominant-baseline="central">2.25</text>
<text x="96.50" y="492.60" font-size="3.1" stroke="#222" stroke-width="0.05" text-anchor="middle" fill="#222" dominant-baseline="central">1.32</text>
<text x="104.70" y="492.60" font-size="3.1" stroke="#222" stroke-width="0.05" text-anchor="middle" fill="#222" dominant-baseline="central">0.33</text>
<text x="39.10" y="508.30" font-size="3.1" stroke="#222" stroke-width="0.05" text-anchor="middle" fill="#222" dominant-baseline="central">1</text>
<text x="47.30" y="508.30" font-size="3.1" stroke="#222" stroke-width="0.05" text-anchor="middle" fill="#222" dominant-baseline="central">2.18</text>
<text x="55.50" y="508.30" font-size="3.1" stroke="#222" stroke-width="0.05" text-anchor="middle" fill="#222" dominant-baseline="central">1.26</text>
<text x="63.70" y="508.30" font-size="3.1" stroke="#222" stroke-width="0.05" text-anchor="middle" fill="#222" dominant-baseline="central">0.79</text>
<text x="71.90" y="508.30" font-size="3.1" stroke="#222" stroke-width="0.05" text-anchor="middle" fill="#222" dominant-baseline="central">2.46</text>
<text x="80.10" y="508.30" font-size="3.1" stroke="#222" stroke-width="0.05" text-anchor="middle" fill="#222" dominant-baseline="central">0.95</text>
<text x="88.30" y="508.30" font-size="3.1" stroke="#222" stroke-width="0.05" text-anchor="middle" fill="#222" dominant-baseline="central">0.35</text>
<text x="96.50" y="508.30" font-size="3.1" stroke="#222" stroke-width="0.05" text-anchor="middle" fill="#222" dominant-baseline="central">0.87</text>
<text x="104.70" y="508.30" font-size="3.1" stroke="#222" stroke-width="0.05" text-anchor="middle" fill="#222" dominant-baseline="central">1.92</text>
<text x="39.10" y="524.40" font-size="3.1" stroke="#222" stroke-width="0.05" text-anchor="middle" fill="#222" dominant-baseline="central">1</text>
<text x="47.30" y="524.40" font-size="3.1" stroke="#222" stroke-width="0.05" text-anchor="middle" fill="#222" dominant-baseline="central">0.31</text>
<text x="55.50" y="524.40" font-size="3.1" stroke="#222" stroke-width="0.05" text-anchor="middle" fill="#222" dominant-baseline="central">0.83</text>
<text x="63.70" y="524.40" font-size="3.1" stroke="#222" stroke-width="0.05" text-anchor="middle" fill="#222" dominant-baseline="central">2.18</text>
<text x="71.90" y="524.40" font-size="3.1" stroke="#222" stroke-width="0.05" text-anchor="middle" fill="#222" dominant-baseline="central">1.84</text>
<text x="80.10" y="524.40" font-size="3.1" stroke="#222" stroke-width="0.05" text-anchor="middle" fill="#222" dominant-baseline="central">1.59</text>
<text x="88.30" y="524.40" font-size="3.1" stroke="#222" stroke-width="0.05" text-anchor="middle" fill="#222" dominant-baseline="central">1.72</text>
<text x="96.50" y="524.40" font-size="3.1" stroke="#222" stroke-width="0.05" text-anchor="middle" fill="#222" dominant-baseline="central">2.16</text>
<text x="104.70" y="524.40" font-size="3.1" stroke="#222" stroke-width="0.05" text-anchor="middle" fill="#222" dominant-baseline="central">1.77</text>
<text x="39.10" y="540.50" font-size="3.1" stroke="#222" stroke-width="0.05" text-anchor="middle" fill="#222" dominant-baseline="central">1</text>
<text x="47.30" y="540.50" font-size="3.1" stroke="#222" stroke-width="0.05" text-anchor="middle" fill="#222" dominant-baseline="central">1.74</text>
<text x="55.50" y="540.50" font-size="3.1" stroke="#222" stroke-width="0.05" text-anchor="middle" fill="#222" dominant-baseline="central">2.23</text>
<text x="63.70" y="540.50" font-size="3.1" stroke="#222" stroke-width="0.05" text-anchor="middle" fill="#222" dominant-baseline="central">1.71</text>
<text x="71.90" y="540.50" font-size="3.1" stroke="#222" stroke-width="0.05" text-anchor="middle" fill="#222" dominant-baseline="central">1.58</text>
<text x="80.10" y="540.50" font-size="3.1" stroke="#222" stroke-width="0.05" text-anchor="middle" fill="#222" dominant-baseline="central">0.80</text>
<text x="88.30" y="540.50" font-size="3.1" stroke="#222" stroke-width="0.05" text-anchor="middle" fill="#222" dominant-baseline="central">0.70</text>
<text x="96.50" y="540.50" font-size="3.1" stroke="#222" stroke-width="0.05" text-anchor="middle" fill="#222" dominant-baseline="central">0.57</text>
<text x="104.70" y="540.50" font-size="3.1" stroke="#222" stroke-width="0.05" text-anchor="middle" fill="#222" dominant-baseline="central">1.25</text>
<rect x="117.10" y="388.10" width="73.10" height="12.20" fill="#b6b6b6" stroke="#2e2e2e" stroke-width="0.85"/>
<rect x="117.71" y="395.05" width="6.90" height="2.50" rx="1.25" fill="#0e0e0e" opacity="0.30" filter="url(#bb)"/>
<rect x="125.83" y="395.05" width="6.90" height="2.50" rx="1.25" fill="#0e0e0e" opacity="0.20" filter="url(#bb)"/>
<rect x="133.95" y="395.05" width="6.90" height="2.50" rx="1.25" fill="#0e0e0e" opacity="0.20" filter="url(#bb)"/>
<rect x="141.47" y="395.10" width="24.37" height="3.00" rx="1.50" fill="#0e0e0e" opacity="0.75" filter="url(#bb2)"/>
<rect x="149.46" y="394.80" width="11.37" height="3.60" rx="1.80" fill="#0e0e0e" opacity="0.45" filter="url(#bb2)"/>
<rect x="166.44" y="395.05" width="6.90" height="2.50" rx="1.25" fill="#0e0e0e" opacity="0.20" filter="url(#bb)"/>
<rect x="174.56" y="395.05" width="6.90" height="2.50" rx="1.25" fill="#0e0e0e" opacity="0.15" filter="url(#bb)"/>
<rect x="182.69" y="395.05" width="6.90" height="2.50" rx="1.25" fill="#0e0e0e" opacity="0.15" filter="url(#bb)"/>
<rect x="117.10" y="401.00" width="73.10" height="11.10" fill="#b4b4b4" stroke="#2e2e2e" stroke-width="0.85"/>
<rect x="117.71" y="404.75" width="6.90" height="2.50" rx="1.25" fill="#0e0e0e" opacity="0.70" filter="url(#bb)"/>
<rect x="125.83" y="404.75" width="6.90" height="2.50" rx="1.25" fill="#0e0e0e" opacity="0.30" filter="url(#bb)"/>
<rect x="133.95" y="404.75" width="6.90" height="2.50" rx="1.25" fill="#0e0e0e" opacity="0.30" filter="url(#bb)"/>
<rect x="142.08" y="405.75" width="6.90" height="2.50" rx="1.25" fill="#0e0e0e" opacity="0.80" filter="url(#bb)"/>
<rect x="150.20" y="405.75" width="6.90" height="2.50" rx="1.25" fill="#0e0e0e" opacity="0.80" filter="url(#bb)"/>
<rect x="158.32" y="405.75" width="6.90" height="2.50" rx="1.25" fill="#0e0e0e" opacity="0.85" filter="url(#bb)"/>
<rect x="166.44" y="404.75" width="6.90" height="2.50" rx="1.25" fill="#0e0e0e" opacity="0.05" filter="url(#bb)"/>
<rect x="174.56" y="404.75" width="6.90" height="2.50" rx="1.25" fill="#0e0e0e" opacity="0.05" filter="url(#bb)"/>
<rect x="182.69" y="404.75" width="6.90" height="2.50" rx="1.25" fill="#0e0e0e" opacity="0.10" filter="url(#bb)"/>
<rect x="117.10" y="413.50" width="73.10" height="10.80" fill="#adadad" stroke="#2e2e2e" stroke-width="0.85"/>
<rect x="117.50" y="413.90" width="72.30" height="1.80" fill="#9c9c9c"/>
<rect x="117.71" y="417.35" width="6.90" height="2.50" rx="1.25" fill="#0e0e0e" opacity="0.85" filter="url(#bb)"/>
<rect x="125.83" y="417.35" width="6.90" height="2.50" rx="1.25" fill="#0e0e0e" opacity="0.90" filter="url(#bb)"/>
<rect x="133.95" y="417.35" width="6.90" height="2.50" rx="1.25" fill="#0e0e0e" opacity="0.85" filter="url(#bb)"/>
<rect x="142.08" y="417.35" width="6.90" height="2.50" rx="1.25" fill="#0e0e0e" opacity="0.20" filter="url(#bb)"/>
<rect x="150.20" y="417.35" width="6.90" height="2.50" rx="1.25" fill="#0e0e0e" opacity="0.30" filter="url(#bb)"/>
<rect x="158.32" y="417.35" width="6.90" height="2.50" rx="1.25" fill="#0e0e0e" opacity="0.35" filter="url(#bb)"/>
<rect x="166.44" y="417.35" width="6.90" height="2.50" rx="1.25" fill="#0e0e0e" opacity="0.85" filter="url(#bb)"/>
<rect x="174.56" y="417.35" width="6.90" height="2.50" rx="1.25" fill="#0e0e0e" opacity="0.85" filter="url(#bb)"/>
<rect x="182.69" y="417.35" width="6.90" height="2.50" rx="1.25" fill="#0e0e0e" opacity="0.95" filter="url(#bb)"/>
<rect x="117.10" y="430.30" width="73.10" height="11.50" fill="#a6a6a6" stroke="#2e2e2e" stroke-width="0.85"/>
<rect x="117.71" y="436.60" width="6.90" height="2.20" rx="1.10" fill="#0e0e0e" opacity="0.80" filter="url(#bb2)"/>
<rect x="117.91" y="434.20" width="6.50" height="1.80" rx="0.90" fill="#0e0e0e" opacity="0.48" filter="url(#bb2)"/>
<rect x="125.83" y="436.60" width="6.90" height="2.20" rx="1.10" fill="#0e0e0e" opacity="0.90" filter="url(#bb2)"/>
<rect x="126.03" y="434.20" width="6.50" height="1.80" rx="0.90" fill="#0e0e0e" opacity="0.54" filter="url(#bb2)"/>
<rect x="133.95" y="436.60" width="6.90" height="2.20" rx="1.10" fill="#0e0e0e" opacity="0.95" filter="url(#bb2)"/>
<rect x="134.16" y="434.20" width="6.50" height="1.80" rx="0.90" fill="#0e0e0e" opacity="0.57" filter="url(#bb2)"/>
<rect x="142.08" y="436.60" width="6.90" height="2.20" rx="1.10" fill="#0e0e0e" opacity="0.30" filter="url(#bb2)"/>
<rect x="142.28" y="434.20" width="6.50" height="1.80" rx="0.90" fill="#0e0e0e" opacity="0.18" filter="url(#bb2)"/>
<rect x="150.20" y="436.60" width="6.90" height="2.20" rx="1.10" fill="#0e0e0e" opacity="0.45" filter="url(#bb2)"/>
<rect x="150.40" y="434.20" width="6.50" height="1.80" rx="0.90" fill="#0e0e0e" opacity="0.27" filter="url(#bb2)"/>
<rect x="158.32" y="436.60" width="6.90" height="2.20" rx="1.10" fill="#0e0e0e" opacity="0.60" filter="url(#bb2)"/>
<rect x="158.52" y="434.20" width="6.50" height="1.80" rx="0.90" fill="#0e0e0e" opacity="0.36" filter="url(#bb2)"/>
<rect x="166.44" y="436.60" width="6.90" height="2.20" rx="1.10" fill="#0e0e0e" opacity="0.50" filter="url(#bb2)"/>
<rect x="166.65" y="434.20" width="6.50" height="1.80" rx="0.90" fill="#0e0e0e" opacity="0.30" filter="url(#bb2)"/>
<rect x="174.56" y="436.60" width="6.90" height="2.20" rx="1.10" fill="#0e0e0e" opacity="0.40" filter="url(#bb2)"/>
<rect x="174.77" y="434.20" width="6.50" height="1.80" rx="0.90" fill="#0e0e0e" opacity="0.24" filter="url(#bb2)"/>
<rect x="182.69" y="436.60" width="6.90" height="2.20" rx="1.10" fill="#0e0e0e" opacity="0.60" filter="url(#bb2)"/>
<rect x="182.89" y="434.20" width="6.50" height="1.80" rx="0.90" fill="#0e0e0e" opacity="0.36" filter="url(#bb2)"/>
<rect x="117.10" y="445.90" width="73.10" height="11.40" fill="#afafaf" stroke="#2e2e2e" stroke-width="0.85"/>
<rect x="117.71" y="450.75" width="6.90" height="2.50" rx="1.25" fill="#0e0e0e" opacity="0.55" filter="url(#bb)"/>
<rect x="125.83" y="450.75" width="6.90" height="2.50" rx="1.25" fill="#0e0e0e" opacity="0.70" filter="url(#bb)"/>
<rect x="133.95" y="450.75" width="6.90" height="2.50" rx="1.25" fill="#0e0e0e" opacity="0.85" filter="url(#bb)"/>
<rect x="142.08" y="450.75" width="6.90" height="2.50" rx="1.25" fill="#0e0e0e" opacity="0.75" filter="url(#bb)"/>
<rect x="150.20" y="450.75" width="6.90" height="2.50" rx="1.25" fill="#0e0e0e" opacity="0.65" filter="url(#bb)"/>
<rect x="158.32" y="450.75" width="6.90" height="2.50" rx="1.25" fill="#0e0e0e" opacity="0.70" filter="url(#bb)"/>
<rect x="166.44" y="450.75" width="6.90" height="2.50" rx="1.25" fill="#0e0e0e" opacity="0.70" filter="url(#bb)"/>
<rect x="174.56" y="450.75" width="6.90" height="2.50" rx="1.25" fill="#0e0e0e" opacity="0.75" filter="url(#bb)"/>
<rect x="182.69" y="450.75" width="6.90" height="2.50" rx="1.25" fill="#0e0e0e" opacity="0.80" filter="url(#bb)"/>
<rect x="117.10" y="461.80" width="73.10" height="11.50" fill="#ababab" stroke="#2e2e2e" stroke-width="0.85"/>
<rect x="117.71" y="466.15" width="6.90" height="2.50" rx="1.25" fill="#0e0e0e" opacity="0.90" filter="url(#bb)"/>
<rect x="125.83" y="466.15" width="6.90" height="2.50" rx="1.25" fill="#0e0e0e" opacity="0.85" filter="url(#bb)"/>
<rect x="133.95" y="466.15" width="6.90" height="2.50" rx="1.25" fill="#0e0e0e" opacity="0.85" filter="url(#bb)"/>
<rect x="142.08" y="466.15" width="6.90" height="2.50" rx="1.25" fill="#0e0e0e" opacity="0.70" filter="url(#bb)"/>
<rect x="150.20" y="466.15" width="6.90" height="2.50" rx="1.25" fill="#0e0e0e" opacity="0.60" filter="url(#bb)"/>
<rect x="158.32" y="466.15" width="6.90" height="2.50" rx="1.25" fill="#0e0e0e" opacity="0.80" filter="url(#bb)"/>
<rect x="166.44" y="466.15" width="6.90" height="2.50" rx="1.25" fill="#0e0e0e" opacity="0.80" filter="url(#bb)"/>
<rect x="174.56" y="466.15" width="6.90" height="2.50" rx="1.25" fill="#0e0e0e" opacity="0.80" filter="url(#bb)"/>
<rect x="182.69" y="466.15" width="6.90" height="2.50" rx="1.25" fill="#0e0e0e" opacity="0.85" filter="url(#bb)"/>
<rect x="117.10" y="478.00" width="73.10" height="11.50" fill="#acacac" stroke="#2e2e2e" stroke-width="0.85"/>
<rect x="117.71" y="484.15" width="6.90" height="2.50" rx="1.25" fill="#0e0e0e" opacity="0.60" filter="url(#bb)"/>
<rect x="125.83" y="484.15" width="6.90" height="2.50" rx="1.25" fill="#0e0e0e" opacity="0.55" filter="url(#bb)"/>
<rect x="133.95" y="484.15" width="6.90" height="2.50" rx="1.25" fill="#0e0e0e" opacity="0.85" filter="url(#bb)"/>
<rect x="142.08" y="484.15" width="6.90" height="2.50" rx="1.25" fill="#0e0e0e" opacity="0.60" filter="url(#bb)"/>
<rect x="150.20" y="484.15" width="6.90" height="2.50" rx="1.25" fill="#0e0e0e" opacity="0.55" filter="url(#bb)"/>
<rect x="158.32" y="484.15" width="6.90" height="2.50" rx="1.25" fill="#0e0e0e" opacity="0.55" filter="url(#bb)"/>
<rect x="166.44" y="484.15" width="6.90" height="2.50" rx="1.25" fill="#0e0e0e" opacity="0.90" filter="url(#bb)"/>
<rect x="174.56" y="484.15" width="6.90" height="2.50" rx="1.25" fill="#0e0e0e" opacity="0.90" filter="url(#bb)"/>
<rect x="182.69" y="484.15" width="6.90" height="2.50" rx="1.25" fill="#0e0e0e" opacity="0.90" filter="url(#bb)"/>
<rect x="117.10" y="494.50" width="73.10" height="11.70" fill="#a9a9a9" stroke="#2e2e2e" stroke-width="0.85"/>
<rect x="117.71" y="498.55" width="6.90" height="2.50" rx="1.25" fill="#0e0e0e" opacity="0.75" filter="url(#bb)"/>
<rect x="125.83" y="498.55" width="6.90" height="2.50" rx="1.25" fill="#0e0e0e" opacity="0.65" filter="url(#bb)"/>
<rect x="133.95" y="498.55" width="6.90" height="2.50" rx="1.25" fill="#0e0e0e" opacity="0.75" filter="url(#bb)"/>
<rect x="142.08" y="498.55" width="6.90" height="2.50" rx="1.25" fill="#0e0e0e" opacity="0.75" filter="url(#bb)"/>
<rect x="150.20" y="498.55" width="6.90" height="2.50" rx="1.25" fill="#0e0e0e" opacity="0.75" filter="url(#bb)"/>
<rect x="158.32" y="498.55" width="6.90" height="2.50" rx="1.25" fill="#0e0e0e" opacity="0.80" filter="url(#bb)"/>
<rect x="166.44" y="498.55" width="6.90" height="2.50" rx="1.25" fill="#0e0e0e" opacity="0.65" filter="url(#bb)"/>
<rect x="174.56" y="498.55" width="6.90" height="2.50" rx="1.25" fill="#0e0e0e" opacity="0.85" filter="url(#bb)"/>
<rect x="182.69" y="498.55" width="6.90" height="2.50" rx="1.25" fill="#0e0e0e" opacity="0.85" filter="url(#bb)"/>
<rect x="117.10" y="510.00" width="73.10" height="11.30" fill="#aeaeae" stroke="#2e2e2e" stroke-width="0.85"/>
<rect x="117.71" y="514.75" width="6.90" height="2.50" rx="1.25" fill="#0e0e0e" opacity="0.75" filter="url(#bb)"/>
<rect x="125.83" y="514.75" width="6.90" height="2.50" rx="1.25" fill="#0e0e0e" opacity="0.85" filter="url(#bb)"/>
<rect x="133.95" y="514.75" width="6.90" height="2.50" rx="1.25" fill="#0e0e0e" opacity="0.85" filter="url(#bb)"/>
<rect x="142.08" y="514.75" width="6.90" height="2.50" rx="1.25" fill="#0e0e0e" opacity="0.15" filter="url(#bb)"/>
<rect x="150.20" y="514.75" width="6.90" height="2.50" rx="1.25" fill="#0e0e0e" opacity="0.10" filter="url(#bb)"/>
<rect x="158.32" y="514.75" width="6.90" height="2.50" rx="1.25" fill="#0e0e0e" opacity="0.35" filter="url(#bb)"/>
<rect x="166.44" y="514.75" width="6.90" height="2.50" rx="1.25" fill="#0e0e0e" opacity="0.80" filter="url(#bb)"/>
<rect x="174.56" y="514.75" width="6.90" height="2.50" rx="1.25" fill="#0e0e0e" opacity="0.80" filter="url(#bb)"/>
<rect x="182.69" y="514.75" width="6.90" height="2.50" rx="1.25" fill="#0e0e0e" opacity="0.80" filter="url(#bb)"/>
<rect x="117.10" y="526.20" width="73.10" height="11.80" fill="#ababab" stroke="#2e2e2e" stroke-width="0.85"/>
<rect x="117.71" y="530.05" width="6.90" height="2.50" rx="1.25" fill="#0e0e0e" opacity="0.85" filter="url(#bb)"/>
<rect x="125.83" y="530.05" width="6.90" height="2.50" rx="1.25" fill="#0e0e0e" opacity="0.80" filter="url(#bb)"/>
<rect x="133.95" y="530.05" width="6.90" height="2.50" rx="1.25" fill="#0e0e0e" opacity="0.85" filter="url(#bb)"/>
<rect x="142.08" y="530.05" width="6.90" height="2.50" rx="1.25" fill="#0e0e0e" opacity="0.80" filter="url(#bb)"/>
<rect x="150.20" y="530.05" width="6.90" height="2.50" rx="1.25" fill="#0e0e0e" opacity="0.80" filter="url(#bb)"/>
<rect x="158.32" y="530.05" width="6.90" height="2.50" rx="1.25" fill="#0e0e0e" opacity="0.85" filter="url(#bb)"/>
<rect x="166.44" y="530.05" width="6.90" height="2.50" rx="1.25" fill="#0e0e0e" opacity="0.60" filter="url(#bb)"/>
<rect x="174.56" y="530.05" width="6.90" height="2.50" rx="1.25" fill="#0e0e0e" opacity="0.75" filter="url(#bb)"/>
<rect x="182.69" y="530.05" width="6.90" height="2.50" rx="1.25" fill="#0e0e0e" opacity="0.80" filter="url(#bb)"/>
<rect x="117.10" y="543.00" width="73.10" height="11.50" fill="#aeaeae" stroke="#2e2e2e" stroke-width="0.85"/>
<rect x="117.71" y="547.35" width="6.90" height="2.50" rx="1.25" fill="#0e0e0e" opacity="0.75" filter="url(#bb)"/>
<rect x="125.83" y="547.35" width="6.90" height="2.50" rx="1.25" fill="#0e0e0e" opacity="0.70" filter="url(#bb)"/>
<rect x="133.95" y="547.35" width="6.90" height="2.50" rx="1.25" fill="#0e0e0e" opacity="0.75" filter="url(#bb)"/>
<rect x="142.08" y="547.35" width="6.90" height="2.50" rx="1.25" fill="#0e0e0e" opacity="0.70" filter="url(#bb)"/>
<rect x="150.20" y="547.35" width="6.90" height="2.50" rx="1.25" fill="#0e0e0e" opacity="0.70" filter="url(#bb)"/>
<rect x="158.32" y="547.35" width="6.90" height="2.50" rx="1.25" fill="#0e0e0e" opacity="0.75" filter="url(#bb)"/>
<rect x="166.44" y="547.35" width="6.90" height="2.50" rx="1.25" fill="#0e0e0e" opacity="0.65" filter="url(#bb)"/>
<rect x="174.56" y="547.35" width="6.90" height="2.50" rx="1.25" fill="#0e0e0e" opacity="0.65" filter="url(#bb)"/>
<rect x="182.69" y="547.35" width="6.90" height="2.50" rx="1.25" fill="#0e0e0e" opacity="0.70" filter="url(#bb)"/>
<line x1="141.47" y1="353.20" x2="141.47" y2="555.00" stroke="#2a2a2a" stroke-width="0.6" stroke-dasharray="1.2,1.1"/>
<line x1="165.83" y1="353.20" x2="165.83" y2="555.00" stroke="#2a2a2a" stroke-width="0.6" stroke-dasharray="1.2,1.1"/>
<text x="121.16" y="427.40" font-size="3.1" stroke="#222" stroke-width="0.05" text-anchor="middle" fill="#222" dominant-baseline="central">1</text>
<text x="129.28" y="427.40" font-size="3.1" stroke="#222" stroke-width="0.05" text-anchor="middle" fill="#222" dominant-baseline="central">0.87</text>
<text x="137.41" y="427.40" font-size="3.1" stroke="#222" stroke-width="0.05" text-anchor="middle" fill="#222" dominant-baseline="central">1.84</text>
<text x="145.53" y="427.40" font-size="3.1" stroke="#222" stroke-width="0.05" text-anchor="middle" fill="#222" dominant-baseline="central">2.27</text>
<text x="153.65" y="427.40" font-size="3.1" stroke="#222" stroke-width="0.05" text-anchor="middle" fill="#222" dominant-baseline="central">0.83</text>
<text x="161.77" y="427.40" font-size="3.1" stroke="#222" stroke-width="0.05" text-anchor="middle" fill="#222" dominant-baseline="central">1.18</text>
<text x="169.89" y="427.40" font-size="3.1" stroke="#222" stroke-width="0.05" text-anchor="middle" fill="#222" dominant-baseline="central">1.87</text>
<text x="178.02" y="427.40" font-size="3.1" stroke="#222" stroke-width="0.05" text-anchor="middle" fill="#222" dominant-baseline="central">0.64</text>
<text x="186.14" y="427.40" font-size="3.1" stroke="#222" stroke-width="0.05" text-anchor="middle" fill="#222" dominant-baseline="central">2.17</text>
<text x="121.16" y="443.90" font-size="3.1" stroke="#222" stroke-width="0.05" text-anchor="middle" fill="#222" dominant-baseline="central">1</text>
<text x="129.28" y="443.90" font-size="3.1" stroke="#222" stroke-width="0.05" text-anchor="middle" fill="#222" dominant-baseline="central">1.36</text>
<text x="137.41" y="443.90" font-size="3.1" stroke="#222" stroke-width="0.05" text-anchor="middle" fill="#222" dominant-baseline="central">0.34</text>
<text x="145.53" y="443.90" font-size="3.1" stroke="#222" stroke-width="0.05" text-anchor="middle" fill="#222" dominant-baseline="central">2.19</text>
<text x="153.65" y="443.90" font-size="3.1" stroke="#222" stroke-width="0.05" text-anchor="middle" fill="#222" dominant-baseline="central">1.44</text>
<text x="161.77" y="443.90" font-size="3.1" stroke="#222" stroke-width="0.05" text-anchor="middle" fill="#222" dominant-baseline="central">1.75</text>
<text x="169.89" y="443.90" font-size="3.1" stroke="#222" stroke-width="0.05" text-anchor="middle" fill="#222" dominant-baseline="central">2.22</text>
<text x="178.02" y="443.90" font-size="3.1" stroke="#222" stroke-width="0.05" text-anchor="middle" fill="#222" dominant-baseline="central">2.27</text>
<text x="186.14" y="443.90" font-size="3.1" stroke="#222" stroke-width="0.05" text-anchor="middle" fill="#222" dominant-baseline="central">1.02</text>
<text x="121.16" y="459.30" font-size="3.1" stroke="#222" stroke-width="0.05" text-anchor="middle" fill="#222" dominant-baseline="central">1</text>
<text x="129.28" y="459.30" font-size="3.1" stroke="#222" stroke-width="0.05" text-anchor="middle" fill="#222" dominant-baseline="central">0.32</text>
<text x="137.41" y="459.30" font-size="3.1" stroke="#222" stroke-width="0.05" text-anchor="middle" fill="#222" dominant-baseline="central">2.13</text>
<text x="145.53" y="459.30" font-size="3.1" stroke="#222" stroke-width="0.05" text-anchor="middle" fill="#222" dominant-baseline="central">2.30</text>
<text x="153.65" y="459.30" font-size="3.1" stroke="#222" stroke-width="0.05" text-anchor="middle" fill="#222" dominant-baseline="central">0.53</text>
<text x="161.77" y="459.30" font-size="3.1" stroke="#222" stroke-width="0.05" text-anchor="middle" fill="#222" dominant-baseline="central">0.85</text>
<text x="169.89" y="459.30" font-size="3.1" stroke="#222" stroke-width="0.05" text-anchor="middle" fill="#222" dominant-baseline="central">0.78</text>
<text x="178.02" y="459.30" font-size="3.1" stroke="#222" stroke-width="0.05" text-anchor="middle" fill="#222" dominant-baseline="central">1.88</text>
<text x="186.14" y="459.30" font-size="3.1" stroke="#222" stroke-width="0.05" text-anchor="middle" fill="#222" dominant-baseline="central">2.39</text>
<text x="121.16" y="475.80" font-size="3.1" stroke="#222" stroke-width="0.05" text-anchor="middle" fill="#222" dominant-baseline="central">1</text>
<text x="129.28" y="475.80" font-size="3.1" stroke="#222" stroke-width="0.05" text-anchor="middle" fill="#222" dominant-baseline="central">0.74</text>
<text x="137.41" y="475.80" font-size="3.1" stroke="#222" stroke-width="0.05" text-anchor="middle" fill="#222" dominant-baseline="central">1.07</text>
<text x="145.53" y="475.80" font-size="3.1" stroke="#222" stroke-width="0.05" text-anchor="middle" fill="#222" dominant-baseline="central">2.16</text>
<text x="153.65" y="475.80" font-size="3.1" stroke="#222" stroke-width="0.05" text-anchor="middle" fill="#222" dominant-baseline="central">1.30</text>
<text x="161.77" y="475.80" font-size="3.1" stroke="#222" stroke-width="0.05" text-anchor="middle" fill="#222" dominant-baseline="central">0.75</text>
<text x="169.89" y="475.80" font-size="3.1" stroke="#222" stroke-width="0.05" text-anchor="middle" fill="#222" dominant-baseline="central">1.35</text>
<text x="178.02" y="475.80" font-size="3.1" stroke="#222" stroke-width="0.05" text-anchor="middle" fill="#222" dominant-baseline="central">0.34</text>
<text x="186.14" y="475.80" font-size="3.1" stroke="#222" stroke-width="0.05" text-anchor="middle" fill="#222" dominant-baseline="central">2.04</text>
<text x="121.16" y="492.60" font-size="3.1" stroke="#222" stroke-width="0.05" text-anchor="middle" fill="#222" dominant-baseline="central">1</text>
<text x="129.28" y="492.60" font-size="3.1" stroke="#222" stroke-width="0.05" text-anchor="middle" fill="#222" dominant-baseline="central">1.11</text>
<text x="137.41" y="492.60" font-size="3.1" stroke="#222" stroke-width="0.05" text-anchor="middle" fill="#222" dominant-baseline="central">1.05</text>
<text x="145.53" y="492.60" font-size="3.1" stroke="#222" stroke-width="0.05" text-anchor="middle" fill="#222" dominant-baseline="central">1.93</text>
<text x="153.65" y="492.60" font-size="3.1" stroke="#222" stroke-width="0.05" text-anchor="middle" fill="#222" dominant-baseline="central">1.31</text>
<text x="161.77" y="492.60" font-size="3.1" stroke="#222" stroke-width="0.05" text-anchor="middle" fill="#222" dominant-baseline="central">2.48</text>
<text x="169.89" y="492.60" font-size="3.1" stroke="#222" stroke-width="0.05" text-anchor="middle" fill="#222" dominant-baseline="central">0.70</text>
<text x="178.02" y="492.60" font-size="3.1" stroke="#222" stroke-width="0.05" text-anchor="middle" fill="#222" dominant-baseline="central">1.43</text>
<text x="186.14" y="492.60" font-size="3.1" stroke="#222" stroke-width="0.05" text-anchor="middle" fill="#222" dominant-baseline="central">2.35</text>
<text x="121.16" y="508.30" font-size="3.1" stroke="#222" stroke-width="0.05" text-anchor="middle" fill="#222" dominant-baseline="central">1</text>
<text x="129.28" y="508.30" font-size="3.1" stroke="#222" stroke-width="0.05" text-anchor="middle" fill="#222" dominant-baseline="central">1.90</text>
<text x="137.41" y="508.30" font-size="3.1" stroke="#222" stroke-width="0.05" text-anchor="middle" fill="#222" dominant-baseline="central">1.65</text>
<text x="145.53" y="508.30" font-size="3.1" stroke="#222" stroke-width="0.05" text-anchor="middle" fill="#222" dominant-baseline="central">1.70</text>
<text x="153.65" y="508.30" font-size="3.1" stroke="#222" stroke-width="0.05" text-anchor="middle" fill="#222" dominant-baseline="central">0.86</text>
<text x="161.77" y="508.30" font-size="3.1" stroke="#222" stroke-width="0.05" text-anchor="middle" fill="#222" dominant-baseline="central">1.14</text>
<text x="169.89" y="508.30" font-size="3.1" stroke="#222" stroke-width="0.05" text-anchor="middle" fill="#222" dominant-baseline="central">0.44</text>
<text x="178.02" y="508.30" font-size="3.1" stroke="#222" stroke-width="0.05" text-anchor="middle" fill="#222" dominant-baseline="central">0.47</text>
<text x="186.14" y="508.30" font-size="3.1" stroke="#222" stroke-width="0.05" text-anchor="middle" fill="#222" dominant-baseline="central">2.31</text>
<text x="121.16" y="524.40" font-size="3.1" stroke="#222" stroke-width="0.05" text-anchor="middle" fill="#222" dominant-baseline="central">1</text>
<text x="129.28" y="524.40" font-size="3.1" stroke="#222" stroke-width="0.05" text-anchor="middle" fill="#222" dominant-baseline="central">1.68</text>
<text x="137.41" y="524.40" font-size="3.1" stroke="#222" stroke-width="0.05" text-anchor="middle" fill="#222" dominant-baseline="central">1.78</text>
<text x="145.53" y="524.40" font-size="3.1" stroke="#222" stroke-width="0.05" text-anchor="middle" fill="#222" dominant-baseline="central">1.58</text>
<text x="153.65" y="524.40" font-size="3.1" stroke="#222" stroke-width="0.05" text-anchor="middle" fill="#222" dominant-baseline="central">0.54</text>
<text x="161.77" y="524.40" font-size="3.1" stroke="#222" stroke-width="0.05" text-anchor="middle" fill="#222" dominant-baseline="central">0.97</text>
<text x="169.89" y="524.40" font-size="3.1" stroke="#222" stroke-width="0.05" text-anchor="middle" fill="#222" dominant-baseline="central">1.18</text>
<text x="178.02" y="524.40" font-size="3.1" stroke="#222" stroke-width="0.05" text-anchor="middle" fill="#222" dominant-baseline="central">2.40</text>
<text x="186.14" y="524.40" font-size="3.1" stroke="#222" stroke-width="0.05" text-anchor="middle" fill="#222" dominant-baseline="central">2.44</text>
<text x="121.16" y="540.50" font-size="3.1" stroke="#222" stroke-width="0.05" text-anchor="middle" fill="#222" dominant-baseline="central">1</text>
<text x="129.28" y="540.50" font-size="3.1" stroke="#222" stroke-width="0.05" text-anchor="middle" fill="#222" dominant-baseline="central">2.49</text>
<text x="137.41" y="540.50" font-size="3.1" stroke="#222" stroke-width="0.05" text-anchor="middle" fill="#222" dominant-baseline="central">2.41</text>
<text x="145.53" y="540.50" font-size="3.1" stroke="#222" stroke-width="0.05" text-anchor="middle" fill="#222" dominant-baseline="central">1.32</text>
<text x="153.65" y="540.50" font-size="3.1" stroke="#222" stroke-width="0.05" text-anchor="middle" fill="#222" dominant-baseline="central">0.66</text>
<text x="161.77" y="540.50" font-size="3.1" stroke="#222" stroke-width="0.05" text-anchor="middle" fill="#222" dominant-baseline="central">2.34</text>
<text x="169.89" y="540.50" font-size="3.1" stroke="#222" stroke-width="0.05" text-anchor="middle" fill="#222" dominant-baseline="central">0.45</text>
<text x="178.02" y="540.50" font-size="3.1" stroke="#222" stroke-width="0.05" text-anchor="middle" fill="#222" dominant-baseline="central">2.06</text>
<text x="186.14" y="540.50" font-size="3.1" stroke="#222" stroke-width="0.05" text-anchor="middle" fill="#222" dominant-baseline="central">0.72</text>
<text x="29.90" y="397.50" font-size="5.8" stroke="#333" stroke-width="0.14" text-anchor="end" fill="#333" dominant-baseline="central">100</text>
<line x1="32.30" y1="397.50" x2="35.00" y2="397.50" stroke="#333" stroke-width="0.8"/>
<text x="29.90" y="406.70" font-size="5.8" stroke="#333" stroke-width="0.14" text-anchor="end" fill="#333" dominant-baseline="central">150</text>
<line x1="32.30" y1="406.70" x2="35.00" y2="406.70" stroke="#333" stroke-width="0.8"/>
<text x="29.90" y="415.00" font-size="5.8" stroke="#333" stroke-width="0.14" text-anchor="end" fill="#333" dominant-baseline="central">150</text>
<line x1="32.30" y1="415.00" x2="35.00" y2="415.00" stroke="#333" stroke-width="0.8"/>
<text x="29.90" y="439.50" font-size="5.8" stroke="#333" stroke-width="0.14" text-anchor="end" fill="#333" dominant-baseline="central">100</text>
<line x1="32.30" y1="439.50" x2="35.00" y2="439.50" stroke="#333" stroke-width="0.8"/>
<text x="29.90" y="455.00" font-size="5.8" stroke="#333" stroke-width="0.14" text-anchor="end" fill="#333" dominant-baseline="central">50</text>
<line x1="32.30" y1="455.00" x2="35.00" y2="455.00" stroke="#333" stroke-width="0.8"/>
<text x="29.90" y="470.00" font-size="5.8" stroke="#333" stroke-width="0.14" text-anchor="end" fill="#333" dominant-baseline="central">50</text>
<line x1="32.30" y1="470.00" x2="35.00" y2="470.00" stroke="#333" stroke-width="0.8"/>
<text x="29.90" y="485.50" font-size="5.8" stroke="#333" stroke-width="0.14" text-anchor="end" fill="#333" dominant-baseline="central">50</text>
<line x1="32.30" y1="485.50" x2="35.00" y2="485.50" stroke="#333" stroke-width="0.8"/>
<text x="29.90" y="502.00" font-size="5.8" stroke="#333" stroke-width="0.14" text-anchor="end" fill="#333" dominant-baseline="central">50</text>
<line x1="32.30" y1="502.00" x2="35.00" y2="502.00" stroke="#333" stroke-width="0.8"/>
<text x="29.90" y="517.50" font-size="5.8" stroke="#333" stroke-width="0.14" text-anchor="end" fill="#333" dominant-baseline="central">37</text>
<line x1="32.30" y1="517.50" x2="35.00" y2="517.50" stroke="#333" stroke-width="0.8"/>
<text x="29.90" y="533.70" font-size="5.8" stroke="#333" stroke-width="0.14" text-anchor="end" fill="#333" dominant-baseline="central">37</text>
<line x1="32.30" y1="533.70" x2="35.00" y2="533.70" stroke="#333" stroke-width="0.8"/>
<text x="29.90" y="548.80" font-size="5.8" stroke="#333" stroke-width="0.14" text-anchor="end" fill="#333" dominant-baseline="central">37</text>
<line x1="32.30" y1="548.80" x2="35.00" y2="548.80" stroke="#333" stroke-width="0.8"/>
<text x="17.00" y="385.70" font-size="5.6" stroke="#333" stroke-width="0.14" fill="#333" dominant-baseline="central">(kDa)</text>
<text x="47.30" y="362.10" font-size="4.5" stroke="#333" stroke-width="0.14" text-anchor="middle" fill="#333" dominant-baseline="central">KMS-11</text>
<text x="47.30" y="367.30" font-size="4.5" stroke="#333" stroke-width="0.14" text-anchor="middle" fill="#333" dominant-baseline="central">LenS</text>
<line x1="38.00" y1="371.50" x2="57.40" y2="371.50" stroke="#333" stroke-width="0.7"/>
<text x="40.40" y="386.50" font-size="4.4" stroke="#333" stroke-width="0.14" fill="#333" dominant-baseline="central" transform="rotate(-90 40.40 386.50)">DMSO</text>
<text x="48.10" y="386.50" font-size="4.4" stroke="#333" stroke-width="0.14" fill="#333" dominant-baseline="central" transform="rotate(-90 48.10 386.50)">1 μM</text>
<text x="55.70" y="386.50" font-size="4.4" stroke="#333" stroke-width="0.14" fill="#333" dominant-baseline="central" transform="rotate(-90 55.70 386.50)">10 μM</text>
<text x="71.90" y="356.90" font-size="4.5" stroke="#333" stroke-width="0.14" text-anchor="middle" fill="#333" dominant-baseline="central">KMS-11</text>
<text x="71.90" y="362.10" font-size="4.5" stroke="#333" stroke-width="0.14" text-anchor="middle" fill="#333" dominant-baseline="central">LenR</text>
<text x="71.90" y="367.30" font-size="4.5" stroke="#333" stroke-width="0.14" text-anchor="middle" fill="#333" dominant-baseline="central">shSCR</text>
<line x1="62.60" y1="371.50" x2="82.00" y2="371.50" stroke="#333" stroke-width="0.7"/>
<text x="65.00" y="386.50" font-size="4.4" stroke="#333" stroke-width="0.14" fill="#333" dominant-baseline="central" transform="rotate(-90 65.00 386.50)">DMSO</text>
<text x="72.70" y="386.50" font-size="4.4" stroke="#333" stroke-width="0.14" fill="#333" dominant-baseline="central" transform="rotate(-90 72.70 386.50)">1 μM</text>
<text x="80.30" y="386.50" font-size="4.4" stroke="#333" stroke-width="0.14" fill="#333" dominant-baseline="central" transform="rotate(-90 80.30 386.50)">10 μM</text>
<text x="96.50" y="356.90" font-size="4.5" stroke="#333" stroke-width="0.14" text-anchor="middle" fill="#333" dominant-baseline="central">KMS-11</text>
<text x="96.50" y="362.10" font-size="4.5" stroke="#333" stroke-width="0.14" text-anchor="middle" fill="#333" dominant-baseline="central">LenR</text>
<text x="96.50" y="367.30" font-size="4.5" stroke="#333" stroke-width="0.14" text-anchor="middle" fill="#333" dominant-baseline="central">shADAR1</text>
<line x1="87.20" y1="371.50" x2="106.60" y2="371.50" stroke="#333" stroke-width="0.7"/>
<text x="89.60" y="386.50" font-size="4.4" stroke="#333" stroke-width="0.14" fill="#333" dominant-baseline="central" transform="rotate(-90 89.60 386.50)">DMSO</text>
<text x="97.30" y="386.50" font-size="4.4" stroke="#333" stroke-width="0.14" fill="#333" dominant-baseline="central" transform="rotate(-90 97.30 386.50)">1 μM</text>
<text x="104.90" y="386.50" font-size="4.4" stroke="#333" stroke-width="0.14" fill="#333" dominant-baseline="central" transform="rotate(-90 104.90 386.50)">10 μM</text>
<text x="129.28" y="362.10" font-size="4.5" stroke="#333" stroke-width="0.14" text-anchor="middle" fill="#333" dominant-baseline="central">MM1.S</text>
<text x="129.28" y="367.30" font-size="4.5" stroke="#333" stroke-width="0.14" text-anchor="middle" fill="#333" dominant-baseline="central">LenS</text>
<line x1="120.10" y1="371.50" x2="139.27" y2="371.50" stroke="#333" stroke-width="0.7"/>
<text x="122.46" y="386.50" font-size="4.4" stroke="#333" stroke-width="0.14" fill="#333" dominant-baseline="central" transform="rotate(-90 122.46 386.50)">DMSO</text>
<text x="130.08" y="386.50" font-size="4.4" stroke="#333" stroke-width="0.14" fill="#333" dominant-baseline="central" transform="rotate(-90 130.08 386.50)">1 μM</text>
<text x="137.61" y="386.50" font-size="4.4" stroke="#333" stroke-width="0.14" fill="#333" dominant-baseline="central" transform="rotate(-90 137.61 386.50)">10 μM</text>
<text x="153.65" y="356.90" font-size="4.5" stroke="#333" stroke-width="0.14" text-anchor="middle" fill="#333" dominant-baseline="central">MM1.S</text>
<text x="153.65" y="362.10" font-size="4.5" stroke="#333" stroke-width="0.14" text-anchor="middle" fill="#333" dominant-baseline="central">LenR</text>
<text x="153.65" y="367.30" font-size="4.5" stroke="#333" stroke-width="0.14" text-anchor="middle" fill="#333" dominant-baseline="central">shSCR</text>
<line x1="144.47" y1="371.50" x2="163.63" y2="371.50" stroke="#333" stroke-width="0.7"/>
<text x="146.83" y="386.50" font-size="4.4" stroke="#333" stroke-width="0.14" fill="#333" dominant-baseline="central" transform="rotate(-90 146.83 386.50)">DMSO</text>
<text x="154.45" y="386.50" font-size="4.4" stroke="#333" stroke-width="0.14" fill="#333" dominant-baseline="central" transform="rotate(-90 154.45 386.50)">1 μM</text>
<text x="161.97" y="386.50" font-size="4.4" stroke="#333" stroke-width="0.14" fill="#333" dominant-baseline="central" transform="rotate(-90 161.97 386.50)">10 μM</text>
<text x="178.02" y="356.90" font-size="4.5" stroke="#333" stroke-width="0.14" text-anchor="middle" fill="#333" dominant-baseline="central">MM1.S</text>
<text x="178.02" y="362.10" font-size="4.5" stroke="#333" stroke-width="0.14" text-anchor="middle" fill="#333" dominant-baseline="central">LenR</text>
<text x="178.02" y="367.30" font-size="4.5" stroke="#333" stroke-width="0.14" text-anchor="middle" fill="#333" dominant-baseline="central">shADAR1</text>
<line x1="168.83" y1="371.50" x2="188.00" y2="371.50" stroke="#333" stroke-width="0.7"/>
<text x="171.19" y="386.50" font-size="4.4" stroke="#333" stroke-width="0.14" fill="#333" dominant-baseline="central" transform="rotate(-90 171.19 386.50)">DMSO</text>
<text x="178.82" y="386.50" font-size="4.4" stroke="#333" stroke-width="0.14" fill="#333" dominant-baseline="central" transform="rotate(-90 178.82 386.50)">1 μM</text>
<text x="186.34" y="386.50" font-size="4.4" stroke="#333" stroke-width="0.14" fill="#333" dominant-baseline="central" transform="rotate(-90 186.34 386.50)">10 μM</text>
<text x="191.40" y="380.90" font-size="5.2" stroke="#333" stroke-width="0.14" fill="#333" dominant-baseline="central">Len (72 h)</text>
<text x="193.20" y="393.40" font-size="6.0" stroke="#333" stroke-width="0.14" fill="#333" dominant-baseline="central">ADAR1</text>
<path d="M211.0,389.8 q1.1,0 1.1,1.1 v2.1 q0,1.0 0.9,1.0 q-0.9,0 -0.9,1.0 v2.1 q0,1.1 -1.1,1.1" fill="none" stroke="#333" stroke-width="0.6"/>
<text x="214.40" y="391.00" font-size="5.6" stroke="#333" stroke-width="0.14" fill="#333" dominant-baseline="central">p150</text>
<text x="214.40" y="395.30" font-size="5.6" stroke="#333" stroke-width="0.14" fill="#333" dominant-baseline="central">p110</text>
<text x="192.80" y="406.40" font-size="5.2" stroke="#333" stroke-width="0.14" fill="#333" dominant-baseline="central">ADAR1 p150</text>
<text x="192.80" y="419.40" font-size="5.2" stroke="#333" stroke-width="0.14" fill="#333" dominant-baseline="central">MDA5</text>
<text x="192.80" y="436.00" font-size="5.2" stroke="#333" stroke-width="0.14" fill="#333" dominant-baseline="central">RIG-I</text>
<text x="192.80" y="452.50" font-size="5.2" stroke="#333" stroke-width="0.14" fill="#333" dominant-baseline="central">p-PKR</text>
<text x="192.80" y="468.40" font-size="5.2" stroke="#333" stroke-width="0.14" fill="#333" dominant-baseline="central">PKR</text>
<text x="192.80" y="484.00" font-size="5.2" stroke="#333" stroke-width="0.14" fill="#333" dominant-baseline="central">p-IRF3</text>
<text x="192.80" y="499.60" font-size="5.2" stroke="#333" stroke-width="0.14" fill="#333" dominant-baseline="central">IRF3</text>
<text x="192.80" y="515.40" font-size="5.2" stroke="#333" stroke-width="0.14" fill="#333" dominant-baseline="central">p-eIF2α</text>
<text x="192.80" y="532.20" font-size="5.2" stroke="#333" stroke-width="0.14" fill="#333" dominant-baseline="central">eIF2α</text>
<text x="192.80" y="549.20" font-size="5.2" stroke="#333" stroke-width="0.14" fill="#333" dominant-baseline="central">GAPDH</text>
<line x1="210.10" y1="418.30" x2="210.10" y2="470.90" stroke="#333" stroke-width="0.8"/>
<line x1="213.10" y1="484.90" x2="213.10" y2="534.60" stroke="#333" stroke-width="0.8"/>
<text x="221.20" y="446.00" font-size="5.5" stroke="#333" stroke-width="0.14" text-anchor="middle" fill="#333" dominant-baseline="central" transform="rotate(90 221.20 446.00)">Cytoplasmic dsRNA</text>
<text x="214.00" y="445.00" font-size="5.5" stroke="#333" stroke-width="0.14" text-anchor="middle" fill="#333" dominant-baseline="central" transform="rotate(90 214.00 445.00)">sensors</text>
<text x="217.00" y="509.50" font-size="5.4" stroke="#333" stroke-width="0.14" text-anchor="middle" fill="#333" dominant-baseline="central" transform="rotate(90 217.00 509.50)">Effectors</text>
<line x1="266.10" y1="361.60" x2="266.10" y2="434.35" stroke="#231f20" stroke-width="0.9"/>
<line x1="265.65" y1="433.90" x2="371.60" y2="433.90" stroke="#231f20" stroke-width="0.9"/>
<line x1="263.30" y1="433.90" x2="266.10" y2="433.90" stroke="#231f20" stroke-width="0.7"/>
<text x="260.50" y="433.90" font-size="4.6" stroke="#333" stroke-width="0.14" text-anchor="end" fill="#333" dominant-baseline="central">0.0</text>
<line x1="263.30" y1="422.10" x2="266.10" y2="422.10" stroke="#231f20" stroke-width="0.7"/>
<text x="260.50" y="422.10" font-size="4.6" stroke="#333" stroke-width="0.14" text-anchor="end" fill="#333" dominant-baseline="central">0.2</text>
<line x1="263.30" y1="410.30" x2="266.10" y2="410.30" stroke="#231f20" stroke-width="0.7"/>
<text x="260.50" y="410.30" font-size="4.6" stroke="#333" stroke-width="0.14" text-anchor="end" fill="#333" dominant-baseline="central">0.4</text>
<line x1="263.30" y1="398.50" x2="266.10" y2="398.50" stroke="#231f20" stroke-width="0.7"/>
<text x="260.50" y="398.50" font-size="4.6" stroke="#333" stroke-width="0.14" text-anchor="end" fill="#333" dominant-baseline="central">0.6</text>
<line x1="263.30" y1="386.70" x2="266.10" y2="386.70" stroke="#231f20" stroke-width="0.7"/>
<text x="260.50" y="386.70" font-size="4.6" stroke="#333" stroke-width="0.14" text-anchor="end" fill="#333" dominant-baseline="central">0.8</text>
<line x1="263.30" y1="374.90" x2="266.10" y2="374.90" stroke="#231f20" stroke-width="0.7"/>
<text x="260.50" y="374.90" font-size="4.6" stroke="#333" stroke-width="0.14" text-anchor="end" fill="#333" dominant-baseline="central">1.0</text>
<line x1="263.30" y1="363.10" x2="266.10" y2="363.10" stroke="#231f20" stroke-width="0.7"/>
<text x="260.50" y="363.10" font-size="4.6" stroke="#333" stroke-width="0.14" text-anchor="end" fill="#333" dominant-baseline="central">1.2</text>
<rect x="268.00" y="398.50" width="3.10" height="35.40" fill="#6b3d1e"/>
<line x1="269.55" y1="398.50" x2="269.55" y2="396.14" stroke="#6b3d1e" stroke-width="0.6"/>
<line x1="268.65" y1="396.14" x2="270.45" y2="396.14" stroke="#6b3d1e" stroke-width="0.5"/>
<rect x="272.80" y="383.75" width="3.10" height="50.15" fill="#1f4f96"/>
<line x1="274.35" y1="383.75" x2="274.35" y2="383.16" stroke="#1f4f96" stroke-width="0.6"/>
<line x1="273.45" y1="383.16" x2="275.25" y2="383.16" stroke="#1f4f96" stroke-width="0.5"/>
<rect x="277.60" y="380.80" width="3.10" height="53.10" fill="#f2b71c"/>
<line x1="279.15" y1="380.80" x2="279.15" y2="380.21" stroke="#f2b71c" stroke-width="0.6"/>
<line x1="278.25" y1="380.21" x2="280.05" y2="380.21" stroke="#f2b71c" stroke-width="0.5"/>
<line x1="274.35" y1="433.90" x2="274.35" y2="435.40" stroke="#231f20" stroke-width="0.5"/>
<text x="274.35" y="441.90" font-size="4.3" stroke="#333" stroke-width="0.14" text-anchor="middle" fill="#333" dominant-baseline="central">KMS-11</text>
<text x="274.35" y="446.90" font-size="4.3" stroke="#333" stroke-width="0.14" text-anchor="middle" fill="#333" dominant-baseline="central">LenS</text>
<rect x="285.90" y="406.76" width="3.10" height="27.14" fill="#6b3d1e"/>
<line x1="287.45" y1="406.76" x2="287.45" y2="406.17" stroke="#6b3d1e" stroke-width="0.6"/>
<line x1="286.55" y1="406.17" x2="288.35" y2="406.17" stroke="#6b3d1e" stroke-width="0.5"/>
<rect x="290.70" y="406.17" width="3.10" height="27.73" fill="#1f4f96"/>
<line x1="292.25" y1="406.17" x2="292.25" y2="405.58" stroke="#1f4f96" stroke-width="0.6"/>
<line x1="291.35" y1="405.58" x2="293.15" y2="405.58" stroke="#1f4f96" stroke-width="0.5"/>
<rect x="295.50" y="406.17" width="3.10" height="27.73" fill="#f2b71c"/>
<line x1="297.05" y1="406.17" x2="297.05" y2="404.99" stroke="#f2b71c" stroke-width="0.6"/>
<line x1="296.15" y1="404.99" x2="297.95" y2="404.99" stroke="#f2b71c" stroke-width="0.5"/>
<line x1="292.25" y1="433.90" x2="292.25" y2="435.40" stroke="#231f20" stroke-width="0.5"/>
<text x="292.25" y="441.90" font-size="4.3" stroke="#333" stroke-width="0.14" text-anchor="middle" fill="#333" dominant-baseline="central">KMS-11</text>
<text x="292.25" y="446.90" font-size="4.3" stroke="#333" stroke-width="0.14" text-anchor="middle" fill="#333" dominant-baseline="central">LenR</text>
<text x="292.25" y="452.00" font-size="4.3" stroke="#333" stroke-width="0.14" text-anchor="middle" fill="#333" dominant-baseline="central">shSCR</text>
<rect x="303.80" y="380.21" width="3.10" height="53.69" fill="#6b3d1e"/>
<line x1="305.35" y1="380.21" x2="305.35" y2="379.03" stroke="#6b3d1e" stroke-width="0.6"/>
<line x1="304.45" y1="379.03" x2="306.25" y2="379.03" stroke="#6b3d1e" stroke-width="0.5"/>
<rect x="308.60" y="381.39" width="3.10" height="52.51" fill="#1f4f96"/>
<line x1="310.15" y1="381.39" x2="310.15" y2="380.21" stroke="#1f4f96" stroke-width="0.6"/>
<line x1="309.25" y1="380.21" x2="311.05" y2="380.21" stroke="#1f4f96" stroke-width="0.5"/>
<rect x="313.40" y="379.62" width="3.10" height="54.28" fill="#f2b71c"/>
<line x1="314.95" y1="379.62" x2="314.95" y2="378.44" stroke="#f2b71c" stroke-width="0.6"/>
<line x1="314.05" y1="378.44" x2="315.85" y2="378.44" stroke="#f2b71c" stroke-width="0.5"/>
<line x1="310.15" y1="433.90" x2="310.15" y2="435.40" stroke="#231f20" stroke-width="0.5"/>
<text x="310.15" y="441.90" font-size="4.3" stroke="#333" stroke-width="0.14" text-anchor="middle" fill="#333" dominant-baseline="central">KMS-11</text>
<text x="310.15" y="446.90" font-size="4.3" stroke="#333" stroke-width="0.14" text-anchor="middle" fill="#333" dominant-baseline="central">LenR</text>
<text x="310.15" y="452.00" font-size="4.3" stroke="#333" stroke-width="0.14" text-anchor="middle" fill="#333" dominant-baseline="central">shADAR1</text>
<rect x="321.70" y="408.53" width="3.10" height="25.37" fill="#6b3d1e"/>
<line x1="323.25" y1="408.53" x2="323.25" y2="407.35" stroke="#6b3d1e" stroke-width="0.6"/>
<line x1="322.35" y1="407.35" x2="324.15" y2="407.35" stroke="#6b3d1e" stroke-width="0.5"/>
<rect x="326.50" y="399.68" width="3.10" height="34.22" fill="#1f4f96"/>
<line x1="328.05" y1="399.68" x2="328.05" y2="394.37" stroke="#1f4f96" stroke-width="0.6"/>
<line x1="327.15" y1="394.37" x2="328.95" y2="394.37" stroke="#1f4f96" stroke-width="0.5"/>
<rect x="331.30" y="383.75" width="3.10" height="50.15" fill="#f2b71c"/>
<line x1="332.85" y1="383.75" x2="332.85" y2="383.16" stroke="#f2b71c" stroke-width="0.6"/>
<line x1="331.95" y1="383.16" x2="333.75" y2="383.16" stroke="#f2b71c" stroke-width="0.5"/>
<line x1="328.05" y1="433.90" x2="328.05" y2="435.40" stroke="#231f20" stroke-width="0.5"/>
<text x="328.05" y="441.90" font-size="4.3" stroke="#333" stroke-width="0.14" text-anchor="middle" fill="#333" dominant-baseline="central">MM1.S</text>
<text x="328.05" y="446.90" font-size="4.3" stroke="#333" stroke-width="0.14" text-anchor="middle" fill="#333" dominant-baseline="central">LenS</text>
<rect x="339.60" y="400.27" width="3.10" height="33.63" fill="#6b3d1e"/>
<line x1="341.15" y1="400.27" x2="341.15" y2="398.50" stroke="#6b3d1e" stroke-width="0.6"/>
<line x1="340.25" y1="398.50" x2="342.05" y2="398.50" stroke="#6b3d1e" stroke-width="0.5"/>
<rect x="344.40" y="400.86" width="3.10" height="33.04" fill="#1f4f96"/>
<line x1="345.95" y1="400.86" x2="345.95" y2="400.27" stroke="#1f4f96" stroke-width="0.6"/>
<line x1="345.05" y1="400.27" x2="346.85" y2="400.27" stroke="#1f4f96" stroke-width="0.5"/>
<rect x="349.20" y="397.91" width="3.10" height="35.99" fill="#f2b71c"/>
<line x1="350.75" y1="397.91" x2="350.75" y2="396.73" stroke="#f2b71c" stroke-width="0.6"/>
<line x1="349.85" y1="396.73" x2="351.65" y2="396.73" stroke="#f2b71c" stroke-width="0.5"/>
<line x1="345.95" y1="433.90" x2="345.95" y2="435.40" stroke="#231f20" stroke-width="0.5"/>
<text x="345.95" y="441.90" font-size="4.3" stroke="#333" stroke-width="0.14" text-anchor="middle" fill="#333" dominant-baseline="central">MM1.S</text>
<text x="345.95" y="446.90" font-size="4.3" stroke="#333" stroke-width="0.14" text-anchor="middle" fill="#333" dominant-baseline="central">LenR</text>
<text x="345.95" y="452.00" font-size="4.3" stroke="#333" stroke-width="0.14" text-anchor="middle" fill="#333" dominant-baseline="central">shSCR</text>
<rect x="357.50" y="391.42" width="3.10" height="42.48" fill="#6b3d1e"/>
<line x1="359.05" y1="391.42" x2="359.05" y2="389.65" stroke="#6b3d1e" stroke-width="0.6"/>
<line x1="358.15" y1="389.65" x2="359.95" y2="389.65" stroke="#6b3d1e" stroke-width="0.5"/>
<rect x="362.30" y="381.98" width="3.10" height="51.92" fill="#1f4f96"/>
<line x1="363.85" y1="381.98" x2="363.85" y2="380.80" stroke="#1f4f96" stroke-width="0.6"/>
<line x1="362.95" y1="380.80" x2="364.75" y2="380.80" stroke="#1f4f96" stroke-width="0.5"/>
<rect x="367.10" y="373.72" width="3.10" height="60.18" fill="#f2b71c"/>
<line x1="368.65" y1="373.72" x2="368.65" y2="373.13" stroke="#f2b71c" stroke-width="0.6"/>
<line x1="367.75" y1="373.13" x2="369.55" y2="373.13" stroke="#f2b71c" stroke-width="0.5"/>
<line x1="363.85" y1="433.90" x2="363.85" y2="435.40" stroke="#231f20" stroke-width="0.5"/>
<text x="363.85" y="441.90" font-size="4.3" stroke="#333" stroke-width="0.14" text-anchor="middle" fill="#333" dominant-baseline="central">MM1.S</text>
<text x="363.85" y="446.90" font-size="4.3" stroke="#333" stroke-width="0.14" text-anchor="middle" fill="#333" dominant-baseline="central">LenR</text>
<text x="363.85" y="452.00" font-size="4.3" stroke="#333" stroke-width="0.14" text-anchor="middle" fill="#333" dominant-baseline="central">shADAR1</text>
<text x="247.80" y="396.80" font-size="5.0" stroke="#333" stroke-width="0.14" text-anchor="middle" fill="#333" dominant-baseline="central" transform="rotate(-90 247.80 396.80)">p-PKR/PKR</text>
<rect x="269.90" y="355.50" width="7.80" height="3.40" fill="#6b3d1e"/>
<text x="280.70" y="357.20" font-size="4.4" stroke="#333" stroke-width="0.14" fill="#333" dominant-baseline="central">DMSO</text>
<rect x="269.90" y="360.80" width="7.80" height="3.40" fill="#1f4f96"/>
<text x="280.70" y="362.50" font-size="4.4" stroke="#333" stroke-width="0.14" fill="#333" dominant-baseline="central">1 μM Len</text>
<rect x="269.90" y="365.70" width="7.80" height="3.40" fill="#f2b71c"/>
<text x="280.70" y="367.40" font-size="4.4" stroke="#333" stroke-width="0.14" fill="#333" dominant-baseline="central">10 μM Len</text>
<line x1="268.95" y1="374.90" x2="279.75" y2="374.90" stroke="#231f20" stroke-width="0.5"/>
<text x="274.35" y="373.60" font-size="3.8" stroke="#231f20" stroke-width="0.14" text-anchor="middle" dominant-baseline="central">*</text>
<line x1="322.65" y1="379.62" x2="333.45" y2="379.62" stroke="#231f20" stroke-width="0.5"/>
<text x="328.05" y="378.32" font-size="3.8" stroke="#231f20" stroke-width="0.14" text-anchor="middle" dominant-baseline="central">*</text>
<line x1="358.45" y1="370.18" x2="369.25" y2="370.18" stroke="#231f20" stroke-width="0.5"/>
<text x="363.85" y="368.88" font-size="3.8" stroke="#231f20" stroke-width="0.14" text-anchor="middle" dominant-baseline="central">*</text>
<line x1="266.10" y1="466.70" x2="266.10" y2="539.45" stroke="#231f20" stroke-width="0.9"/>
<line x1="265.65" y1="539.00" x2="371.60" y2="539.00" stroke="#231f20" stroke-width="0.9"/>
<line x1="263.30" y1="539.00" x2="266.10" y2="539.00" stroke="#231f20" stroke-width="0.7"/>
<text x="260.50" y="539.00" font-size="4.6" stroke="#333" stroke-width="0.14" text-anchor="end" fill="#333" dominant-baseline="central">0.0</text>
<line x1="263.30" y1="527.20" x2="266.10" y2="527.20" stroke="#231f20" stroke-width="0.7"/>
<text x="260.50" y="527.20" font-size="4.6" stroke="#333" stroke-width="0.14" text-anchor="end" fill="#333" dominant-baseline="central">0.2</text>
<line x1="263.30" y1="515.40" x2="266.10" y2="515.40" stroke="#231f20" stroke-width="0.7"/>
<text x="260.50" y="515.40" font-size="4.6" stroke="#333" stroke-width="0.14" text-anchor="end" fill="#333" dominant-baseline="central">0.4</text>
<line x1="263.30" y1="503.60" x2="266.10" y2="503.60" stroke="#231f20" stroke-width="0.7"/>
<text x="260.50" y="503.60" font-size="4.6" stroke="#333" stroke-width="0.14" text-anchor="end" fill="#333" dominant-baseline="central">0.6</text>
<line x1="263.30" y1="491.80" x2="266.10" y2="491.80" stroke="#231f20" stroke-width="0.7"/>
<text x="260.50" y="491.80" font-size="4.6" stroke="#333" stroke-width="0.14" text-anchor="end" fill="#333" dominant-baseline="central">0.8</text>
<line x1="263.30" y1="480.00" x2="266.10" y2="480.00" stroke="#231f20" stroke-width="0.7"/>
<text x="260.50" y="480.00" font-size="4.6" stroke="#333" stroke-width="0.14" text-anchor="end" fill="#333" dominant-baseline="central">1.0</text>
<line x1="263.30" y1="468.20" x2="266.10" y2="468.20" stroke="#231f20" stroke-width="0.7"/>
<text x="260.50" y="468.20" font-size="4.6" stroke="#333" stroke-width="0.14" text-anchor="end" fill="#333" dominant-baseline="central">1.2</text>
<rect x="268.00" y="513.63" width="3.10" height="25.37" fill="#6b3d1e"/>
<line x1="269.55" y1="513.63" x2="269.55" y2="511.86" stroke="#6b3d1e" stroke-width="0.6"/>
<line x1="268.65" y1="511.86" x2="270.45" y2="511.86" stroke="#6b3d1e" stroke-width="0.5"/>
<rect x="272.80" y="512.45" width="3.10" height="26.55" fill="#1f4f96"/>
<line x1="274.35" y1="512.45" x2="274.35" y2="511.86" stroke="#1f4f96" stroke-width="0.6"/>
<line x1="273.45" y1="511.86" x2="275.25" y2="511.86" stroke="#1f4f96" stroke-width="0.5"/>
<rect x="277.60" y="509.50" width="3.10" height="29.50" fill="#f2b71c"/>
<line x1="279.15" y1="509.50" x2="279.15" y2="508.91" stroke="#f2b71c" stroke-width="0.6"/>
<line x1="278.25" y1="508.91" x2="280.05" y2="508.91" stroke="#f2b71c" stroke-width="0.5"/>
<line x1="274.35" y1="539.00" x2="274.35" y2="540.50" stroke="#231f20" stroke-width="0.5"/>
<text x="274.35" y="547.20" font-size="4.3" stroke="#333" stroke-width="0.14" text-anchor="middle" fill="#333" dominant-baseline="central">KMS-11</text>
<text x="274.35" y="551.60" font-size="4.3" stroke="#333" stroke-width="0.14" text-anchor="middle" fill="#333" dominant-baseline="central">LenS</text>
<rect x="285.90" y="520.71" width="3.10" height="18.29" fill="#6b3d1e"/>
<line x1="287.45" y1="520.71" x2="287.45" y2="519.53" stroke="#6b3d1e" stroke-width="0.6"/>
<line x1="286.55" y1="519.53" x2="288.35" y2="519.53" stroke="#6b3d1e" stroke-width="0.5"/>
<rect x="290.70" y="523.07" width="3.10" height="15.93" fill="#1f4f96"/>
<line x1="292.25" y1="523.07" x2="292.25" y2="518.35" stroke="#1f4f96" stroke-width="0.6"/>
<line x1="291.35" y1="518.35" x2="293.15" y2="518.35" stroke="#1f4f96" stroke-width="0.5"/>
<rect x="295.50" y="521.89" width="3.10" height="17.11" fill="#f2b71c"/>
<line x1="297.05" y1="521.89" x2="297.05" y2="520.71" stroke="#f2b71c" stroke-width="0.6"/>
<line x1="296.15" y1="520.71" x2="297.95" y2="520.71" stroke="#f2b71c" stroke-width="0.5"/>
<line x1="292.25" y1="539.00" x2="292.25" y2="540.50" stroke="#231f20" stroke-width="0.5"/>
<text x="292.25" y="547.20" font-size="4.3" stroke="#333" stroke-width="0.14" text-anchor="middle" fill="#333" dominant-baseline="central">KMS-11</text>
<text x="292.25" y="551.60" font-size="4.3" stroke="#333" stroke-width="0.14" text-anchor="middle" fill="#333" dominant-baseline="central">LenR</text>
<text x="292.25" y="556.00" font-size="4.3" stroke="#333" stroke-width="0.14" text-anchor="middle" fill="#333" dominant-baseline="central">shSCR</text>
<rect x="303.80" y="518.35" width="3.10" height="20.65" fill="#6b3d1e"/>
<line x1="305.35" y1="518.35" x2="305.35" y2="517.17" stroke="#6b3d1e" stroke-width="0.6"/>
<line x1="304.45" y1="517.17" x2="306.25" y2="517.17" stroke="#6b3d1e" stroke-width="0.5"/>
<rect x="308.60" y="514.81" width="3.10" height="24.19" fill="#1f4f96"/>
<line x1="310.15" y1="514.81" x2="310.15" y2="514.22" stroke="#1f4f96" stroke-width="0.6"/>
<line x1="309.25" y1="514.22" x2="311.05" y2="514.22" stroke="#1f4f96" stroke-width="0.5"/>
<rect x="313.40" y="510.09" width="3.10" height="28.91" fill="#f2b71c"/>
<line x1="314.95" y1="510.09" x2="314.95" y2="508.91" stroke="#f2b71c" stroke-width="0.6"/>
<line x1="314.05" y1="508.91" x2="315.85" y2="508.91" stroke="#f2b71c" stroke-width="0.5"/>
<line x1="310.15" y1="539.00" x2="310.15" y2="540.50" stroke="#231f20" stroke-width="0.5"/>
<text x="310.15" y="547.20" font-size="4.3" stroke="#333" stroke-width="0.14" text-anchor="middle" fill="#333" dominant-baseline="central">KMS-11</text>
<text x="310.15" y="551.60" font-size="4.3" stroke="#333" stroke-width="0.14" text-anchor="middle" fill="#333" dominant-baseline="central">LenR</text>
<text x="310.15" y="556.00" font-size="4.3" stroke="#333" stroke-width="0.14" text-anchor="middle" fill="#333" dominant-baseline="central">shADAR1</text>
<rect x="321.70" y="506.55" width="3.10" height="32.45" fill="#6b3d1e"/>
<line x1="323.25" y1="506.55" x2="323.25" y2="505.96" stroke="#6b3d1e" stroke-width="0.6"/>
<line x1="322.35" y1="505.96" x2="324.15" y2="505.96" stroke="#6b3d1e" stroke-width="0.5"/>
<rect x="326.50" y="484.13" width="3.10" height="54.87" fill="#1f4f96"/>
<line x1="328.05" y1="484.13" x2="328.05" y2="482.36" stroke="#1f4f96" stroke-width="0.6"/>
<line x1="327.15" y1="482.36" x2="328.95" y2="482.36" stroke="#1f4f96" stroke-width="0.5"/>
<rect x="331.30" y="472.92" width="3.10" height="66.08" fill="#f2b71c"/>
<line x1="332.85" y1="472.92" x2="332.85" y2="471.74" stroke="#f2b71c" stroke-width="0.6"/>
<line x1="331.95" y1="471.74" x2="333.75" y2="471.74" stroke="#f2b71c" stroke-width="0.5"/>
<line x1="328.05" y1="539.00" x2="328.05" y2="540.50" stroke="#231f20" stroke-width="0.5"/>
<text x="328.05" y="547.20" font-size="4.3" stroke="#333" stroke-width="0.14" text-anchor="middle" fill="#333" dominant-baseline="central">MM1.S</text>
<text x="328.05" y="551.60" font-size="4.3" stroke="#333" stroke-width="0.14" text-anchor="middle" fill="#333" dominant-baseline="central">LenS</text>
<rect x="339.60" y="498.29" width="3.10" height="40.71" fill="#6b3d1e"/>
<line x1="341.15" y1="498.29" x2="341.15" y2="497.11" stroke="#6b3d1e" stroke-width="0.6"/>
<line x1="340.25" y1="497.11" x2="342.05" y2="497.11" stroke="#6b3d1e" stroke-width="0.5"/>
<rect x="344.40" y="501.24" width="3.10" height="37.76" fill="#1f4f96"/>
<line x1="345.95" y1="501.24" x2="345.95" y2="495.93" stroke="#1f4f96" stroke-width="0.6"/>
<line x1="345.05" y1="495.93" x2="346.85" y2="495.93" stroke="#1f4f96" stroke-width="0.5"/>
<rect x="349.20" y="517.17" width="3.10" height="21.83" fill="#f2b71c"/>
<line x1="350.75" y1="517.17" x2="350.75" y2="516.58" stroke="#f2b71c" stroke-width="0.6"/>
<line x1="349.85" y1="516.58" x2="351.65" y2="516.58" stroke="#f2b71c" stroke-width="0.5"/>
<line x1="345.95" y1="539.00" x2="345.95" y2="540.50" stroke="#231f20" stroke-width="0.5"/>
<text x="345.95" y="547.20" font-size="4.3" stroke="#333" stroke-width="0.14" text-anchor="middle" fill="#333" dominant-baseline="central">MM1.S</text>
<text x="345.95" y="551.60" font-size="4.3" stroke="#333" stroke-width="0.14" text-anchor="middle" fill="#333" dominant-baseline="central">LenR</text>
<text x="345.95" y="556.00" font-size="4.3" stroke="#333" stroke-width="0.14" text-anchor="middle" fill="#333" dominant-baseline="central">shSCR</text>
<rect x="357.50" y="482.36" width="3.10" height="56.64" fill="#6b3d1e"/>
<line x1="359.05" y1="482.36" x2="359.05" y2="480.00" stroke="#6b3d1e" stroke-width="0.6"/>
<line x1="358.15" y1="480.00" x2="359.95" y2="480.00" stroke="#6b3d1e" stroke-width="0.5"/>
<rect x="362.30" y="480.59" width="3.10" height="58.41" fill="#1f4f96"/>
<line x1="363.85" y1="480.59" x2="363.85" y2="476.46" stroke="#1f4f96" stroke-width="0.6"/>
<line x1="362.95" y1="476.46" x2="364.75" y2="476.46" stroke="#1f4f96" stroke-width="0.5"/>
<rect x="367.10" y="472.33" width="3.10" height="66.67" fill="#f2b71c"/>
<line x1="368.65" y1="472.33" x2="368.65" y2="471.74" stroke="#f2b71c" stroke-width="0.6"/>
<line x1="367.75" y1="471.74" x2="369.55" y2="471.74" stroke="#f2b71c" stroke-width="0.5"/>
<line x1="363.85" y1="539.00" x2="363.85" y2="540.50" stroke="#231f20" stroke-width="0.5"/>
<text x="363.85" y="547.20" font-size="4.3" stroke="#333" stroke-width="0.14" text-anchor="middle" fill="#333" dominant-baseline="central">MM1.S</text>
<text x="363.85" y="551.60" font-size="4.3" stroke="#333" stroke-width="0.14" text-anchor="middle" fill="#333" dominant-baseline="central">LenR</text>
<text x="363.85" y="556.00" font-size="4.3" stroke="#333" stroke-width="0.14" text-anchor="middle" fill="#333" dominant-baseline="central">shADAR1</text>
<text x="247.80" y="501.90" font-size="5.0" stroke="#333" stroke-width="0.14" text-anchor="middle" fill="#333" dominant-baseline="central" transform="rotate(-90 247.80 501.90)">p-IRF3/IRF3</text>
<rect x="269.90" y="460.90" width="7.80" height="3.40" fill="#6b3d1e"/>
<text x="280.70" y="462.60" font-size="4.4" stroke="#333" stroke-width="0.14" fill="#333" dominant-baseline="central">DMSO</text>
<rect x="269.90" y="466.00" width="7.80" height="3.40" fill="#1f4f96"/>
<text x="280.70" y="467.70" font-size="4.4" stroke="#333" stroke-width="0.14" fill="#333" dominant-baseline="central">1 μM Len</text>
<rect x="269.90" y="470.90" width="7.80" height="3.40" fill="#f2b71c"/>
<text x="280.70" y="472.60" font-size="4.4" stroke="#333" stroke-width="0.14" fill="#333" dominant-baseline="central">10 μM Len</text>
<line x1="322.65" y1="480.59" x2="328.65" y2="480.59" stroke="#231f20" stroke-width="0.5"/>
<text x="325.65" y="479.29" font-size="3.8" stroke="#231f20" stroke-width="0.14" text-anchor="middle" dominant-baseline="central">*</text>
<line x1="322.65" y1="468.20" x2="333.45" y2="468.20" stroke="#231f20" stroke-width="0.5"/>
<text x="328.05" y="466.90" font-size="3.8" stroke="#231f20" stroke-width="0.14" text-anchor="middle" dominant-baseline="central">**</text>
<line x1="406.30" y1="408.70" x2="406.30" y2="481.45" stroke="#231f20" stroke-width="0.9"/>
<line x1="405.85" y1="481.00" x2="512.80" y2="481.00" stroke="#231f20" stroke-width="0.9"/>
<line x1="403.50" y1="481.00" x2="406.30" y2="481.00" stroke="#231f20" stroke-width="0.7"/>
<text x="400.70" y="481.00" font-size="4.6" stroke="#333" stroke-width="0.14" text-anchor="end" fill="#333" dominant-baseline="central">0.0</text>
<line x1="403.50" y1="469.20" x2="406.30" y2="469.20" stroke="#231f20" stroke-width="0.7"/>
<text x="400.70" y="469.20" font-size="4.6" stroke="#333" stroke-width="0.14" text-anchor="end" fill="#333" dominant-baseline="central">0.5</text>
<line x1="403.50" y1="457.40" x2="406.30" y2="457.40" stroke="#231f20" stroke-width="0.7"/>
<text x="400.70" y="457.40" font-size="4.6" stroke="#333" stroke-width="0.14" text-anchor="end" fill="#333" dominant-baseline="central">1.0</text>
<line x1="403.50" y1="445.60" x2="406.30" y2="445.60" stroke="#231f20" stroke-width="0.7"/>
<text x="400.70" y="445.60" font-size="4.6" stroke="#333" stroke-width="0.14" text-anchor="end" fill="#333" dominant-baseline="central">1.5</text>
<line x1="403.50" y1="433.80" x2="406.30" y2="433.80" stroke="#231f20" stroke-width="0.7"/>
<text x="400.70" y="433.80" font-size="4.6" stroke="#333" stroke-width="0.14" text-anchor="end" fill="#333" dominant-baseline="central">2.0</text>
<line x1="403.50" y1="422.00" x2="406.30" y2="422.00" stroke="#231f20" stroke-width="0.7"/>
<text x="400.70" y="422.00" font-size="4.6" stroke="#333" stroke-width="0.14" text-anchor="end" fill="#333" dominant-baseline="central">2.5</text>
<line x1="403.50" y1="410.20" x2="406.30" y2="410.20" stroke="#231f20" stroke-width="0.7"/>
<text x="400.70" y="410.20" font-size="4.6" stroke="#333" stroke-width="0.14" text-anchor="end" fill="#333" dominant-baseline="central">3.0</text>
<rect x="408.00" y="456.22" width="3.30" height="24.78" fill="#6b3d1e"/>
<line x1="409.65" y1="456.22" x2="409.65" y2="455.51" stroke="#6b3d1e" stroke-width="0.6"/>
<line x1="408.75" y1="455.51" x2="410.55" y2="455.51" stroke="#6b3d1e" stroke-width="0.5"/>
<rect x="412.90" y="439.70" width="3.30" height="41.30" fill="#1f4f96"/>
<line x1="414.55" y1="439.70" x2="414.55" y2="439.23" stroke="#1f4f96" stroke-width="0.6"/>
<line x1="413.65" y1="439.23" x2="415.45" y2="439.23" stroke="#1f4f96" stroke-width="0.5"/>
<rect x="417.80" y="419.17" width="3.30" height="61.83" fill="#f2b71c"/>
<line x1="419.45" y1="419.17" x2="419.45" y2="418.46" stroke="#f2b71c" stroke-width="0.6"/>
<line x1="418.55" y1="418.46" x2="420.35" y2="418.46" stroke="#f2b71c" stroke-width="0.5"/>
<line x1="414.55" y1="481.00" x2="414.55" y2="482.50" stroke="#231f20" stroke-width="0.5"/>
<text x="414.55" y="489.00" font-size="4.3" stroke="#333" stroke-width="0.14" text-anchor="middle" fill="#333" dominant-baseline="central">KMS-11</text>
<text x="414.55" y="493.50" font-size="4.3" stroke="#333" stroke-width="0.14" text-anchor="middle" fill="#333" dominant-baseline="central">LenS</text>
<rect x="426.00" y="463.30" width="3.30" height="17.70" fill="#6b3d1e"/>
<line x1="427.65" y1="463.30" x2="427.65" y2="462.83" stroke="#6b3d1e" stroke-width="0.6"/>
<line x1="426.75" y1="462.83" x2="428.55" y2="462.83" stroke="#6b3d1e" stroke-width="0.5"/>
<rect x="430.90" y="472.03" width="3.30" height="8.97" fill="#1f4f96"/>
<line x1="432.55" y1="472.03" x2="432.55" y2="471.56" stroke="#1f4f96" stroke-width="0.6"/>
<line x1="431.65" y1="471.56" x2="433.45" y2="471.56" stroke="#1f4f96" stroke-width="0.5"/>
<rect x="435.80" y="474.39" width="3.30" height="6.61" fill="#f2b71c"/>
<line x1="437.45" y1="474.39" x2="437.45" y2="473.68" stroke="#f2b71c" stroke-width="0.6"/>
<line x1="436.55" y1="473.68" x2="438.35" y2="473.68" stroke="#f2b71c" stroke-width="0.5"/>
<line x1="432.55" y1="481.00" x2="432.55" y2="482.50" stroke="#231f20" stroke-width="0.5"/>
<text x="432.55" y="489.00" font-size="4.3" stroke="#333" stroke-width="0.14" text-anchor="middle" fill="#333" dominant-baseline="central">KMS-11</text>
<text x="432.55" y="493.50" font-size="4.3" stroke="#333" stroke-width="0.14" text-anchor="middle" fill="#333" dominant-baseline="central">LenR</text>
<text x="432.55" y="498.00" font-size="4.3" stroke="#333" stroke-width="0.14" text-anchor="middle" fill="#333" dominant-baseline="central">shSCR</text>
<rect x="444.00" y="455.75" width="3.30" height="25.25" fill="#6b3d1e"/>
<line x1="445.65" y1="455.75" x2="445.65" y2="455.28" stroke="#6b3d1e" stroke-width="0.6"/>
<line x1="444.75" y1="455.28" x2="446.55" y2="455.28" stroke="#6b3d1e" stroke-width="0.5"/>
<rect x="448.90" y="449.14" width="3.30" height="31.86" fill="#1f4f96"/>
<line x1="450.55" y1="449.14" x2="450.55" y2="448.67" stroke="#1f4f96" stroke-width="0.6"/>
<line x1="449.65" y1="448.67" x2="451.45" y2="448.67" stroke="#1f4f96" stroke-width="0.5"/>
<rect x="453.80" y="448.67" width="3.30" height="32.33" fill="#f2b71c"/>
<line x1="455.45" y1="448.67" x2="455.45" y2="448.20" stroke="#f2b71c" stroke-width="0.6"/>
<line x1="454.55" y1="448.20" x2="456.35" y2="448.20" stroke="#f2b71c" stroke-width="0.5"/>
<line x1="450.55" y1="481.00" x2="450.55" y2="482.50" stroke="#231f20" stroke-width="0.5"/>
<text x="450.55" y="489.00" font-size="4.3" stroke="#333" stroke-width="0.14" text-anchor="middle" fill="#333" dominant-baseline="central">KMS-11</text>
<text x="450.55" y="493.50" font-size="4.3" stroke="#333" stroke-width="0.14" text-anchor="middle" fill="#333" dominant-baseline="central">LenR</text>
<text x="450.55" y="498.00" font-size="4.3" stroke="#333" stroke-width="0.14" text-anchor="middle" fill="#333" dominant-baseline="central">shADAR1</text>
<rect x="462.00" y="464.01" width="3.30" height="16.99" fill="#6b3d1e"/>
<line x1="463.65" y1="464.01" x2="463.65" y2="462.83" stroke="#6b3d1e" stroke-width="0.6"/>
<line x1="462.75" y1="462.83" x2="464.55" y2="462.83" stroke="#6b3d1e" stroke-width="0.5"/>
<rect x="466.90" y="453.15" width="3.30" height="27.85" fill="#1f4f96"/>
<line x1="468.55" y1="453.15" x2="468.55" y2="452.68" stroke="#1f4f96" stroke-width="0.6"/>
<line x1="467.65" y1="452.68" x2="469.45" y2="452.68" stroke="#1f4f96" stroke-width="0.5"/>
<rect x="471.80" y="455.75" width="3.30" height="25.25" fill="#f2b71c"/>
<line x1="473.45" y1="455.75" x2="473.45" y2="455.28" stroke="#f2b71c" stroke-width="0.6"/>
<line x1="472.55" y1="455.28" x2="474.35" y2="455.28" stroke="#f2b71c" stroke-width="0.5"/>
<line x1="468.55" y1="481.00" x2="468.55" y2="482.50" stroke="#231f20" stroke-width="0.5"/>
<text x="468.55" y="489.00" font-size="4.3" stroke="#333" stroke-width="0.14" text-anchor="middle" fill="#333" dominant-baseline="central">MM1.S</text>
<text x="468.55" y="493.50" font-size="4.3" stroke="#333" stroke-width="0.14" text-anchor="middle" fill="#333" dominant-baseline="central">LenS</text>
<rect x="480.00" y="476.99" width="3.30" height="4.01" fill="#6b3d1e"/>
<line x1="481.65" y1="476.99" x2="481.65" y2="475.10" stroke="#6b3d1e" stroke-width="0.6"/>
<line x1="480.75" y1="475.10" x2="482.55" y2="475.10" stroke="#6b3d1e" stroke-width="0.5"/>
<rect x="484.90" y="478.17" width="3.30" height="2.83" fill="#1f4f96"/>
<line x1="486.55" y1="478.17" x2="486.55" y2="476.99" stroke="#1f4f96" stroke-width="0.6"/>
<line x1="485.65" y1="476.99" x2="487.45" y2="476.99" stroke="#1f4f96" stroke-width="0.5"/>
<rect x="489.80" y="470.85" width="3.30" height="10.15" fill="#f2b71c"/>
<line x1="491.45" y1="470.85" x2="491.45" y2="469.67" stroke="#f2b71c" stroke-width="0.6"/>
<line x1="490.55" y1="469.67" x2="492.35" y2="469.67" stroke="#f2b71c" stroke-width="0.5"/>
<line x1="486.55" y1="481.00" x2="486.55" y2="482.50" stroke="#231f20" stroke-width="0.5"/>
<text x="486.55" y="489.00" font-size="4.3" stroke="#333" stroke-width="0.14" text-anchor="middle" fill="#333" dominant-baseline="central">MM1.S</text>
<text x="486.55" y="493.50" font-size="4.3" stroke="#333" stroke-width="0.14" text-anchor="middle" fill="#333" dominant-baseline="central">LenR</text>
<text x="486.55" y="498.00" font-size="4.3" stroke="#333" stroke-width="0.14" text-anchor="middle" fill="#333" dominant-baseline="central">shSCR</text>
<rect x="498.00" y="452.68" width="3.30" height="28.32" fill="#6b3d1e"/>
<line x1="499.65" y1="452.68" x2="499.65" y2="452.21" stroke="#6b3d1e" stroke-width="0.6"/>
<line x1="498.75" y1="452.21" x2="500.55" y2="452.21" stroke="#6b3d1e" stroke-width="0.5"/>
<rect x="502.90" y="449.61" width="3.30" height="31.39" fill="#1f4f96"/>
<line x1="504.55" y1="449.61" x2="504.55" y2="448.90" stroke="#1f4f96" stroke-width="0.6"/>
<line x1="503.65" y1="448.90" x2="505.45" y2="448.90" stroke="#1f4f96" stroke-width="0.5"/>
<rect x="507.80" y="448.67" width="3.30" height="32.33" fill="#f2b71c"/>
<line x1="509.45" y1="448.67" x2="509.45" y2="447.72" stroke="#f2b71c" stroke-width="0.6"/>
<line x1="508.55" y1="447.72" x2="510.35" y2="447.72" stroke="#f2b71c" stroke-width="0.5"/>
<line x1="504.55" y1="481.00" x2="504.55" y2="482.50" stroke="#231f20" stroke-width="0.5"/>
<text x="504.55" y="489.00" font-size="4.3" stroke="#333" stroke-width="0.14" text-anchor="middle" fill="#333" dominant-baseline="central">MM1.S</text>
<text x="504.55" y="493.50" font-size="4.3" stroke="#333" stroke-width="0.14" text-anchor="middle" fill="#333" dominant-baseline="central">LenR</text>
<text x="504.55" y="498.00" font-size="4.3" stroke="#333" stroke-width="0.14" text-anchor="middle" fill="#333" dominant-baseline="central">shADAR1</text>
<text x="389.20" y="443.90" font-size="5.0" stroke="#333" stroke-width="0.14" text-anchor="middle" fill="#333" dominant-baseline="central" transform="rotate(-90 389.20 443.90)">p-eIF2α/eIF2α</text>
<rect x="409.80" y="396.20" width="7.80" height="3.40" fill="#6b3d1e"/>
<text x="420.60" y="397.90" font-size="4.4" stroke="#333" stroke-width="0.14" fill="#333" dominant-baseline="central">DMSO</text>
<rect x="409.80" y="401.00" width="7.80" height="3.40" fill="#1f4f96"/>
<text x="420.60" y="402.70" font-size="4.4" stroke="#333" stroke-width="0.14" fill="#333" dominant-baseline="central">1 μM Len</text>
<rect x="409.80" y="405.80" width="7.80" height="3.40" fill="#f2b71c"/>
<text x="420.60" y="407.50" font-size="4.4" stroke="#333" stroke-width="0.14" fill="#333" dominant-baseline="central">10 μM Len</text>
<line x1="409.05" y1="436.63" x2="415.15" y2="436.63" stroke="#231f20" stroke-width="0.5"/>
<text x="412.10" y="435.33" font-size="3.8" stroke="#231f20" stroke-width="0.14" text-anchor="middle" dominant-baseline="central">*</text>
<line x1="409.05" y1="416.10" x2="420.05" y2="416.10" stroke="#231f20" stroke-width="0.5"/>
<text x="414.55" y="414.80" font-size="3.8" stroke="#231f20" stroke-width="0.14" text-anchor="middle" dominant-baseline="central">*</text>
<text x="5.60" y="576.10" font-size="11.2" font-weight="bold" stroke="#231f20" stroke-width="0.35">G</text>
<rect x="56.40" y="572.60" width="12.44" height="12.35" fill="#fdf9f9"/>
<rect x="56.40" y="584.35" width="12.44" height="12.35" fill="#fdf9f9"/>
<rect x="56.40" y="596.10" width="12.44" height="12.35" fill="#fdf9f9"/>
<rect x="56.40" y="607.85" width="12.44" height="12.35" fill="#fdf9f9"/>
<rect x="56.40" y="619.60" width="12.44" height="12.35" fill="#fdf9f9"/>
<rect x="56.40" y="631.35" width="12.44" height="11.75" fill="#fdf9f9"/>
<rect x="68.24" y="572.60" width="12.44" height="12.35" fill="#fdf6f6"/>
<rect x="68.24" y="584.35" width="12.44" height="12.35" fill="#f6c9cc"/>
<rect x="68.24" y="596.10" width="12.44" height="12.35" fill="#e30613"/>
<rect x="68.24" y="607.85" width="12.44" height="12.35" fill="#f5babd"/>
<rect x="68.24" y="619.60" width="12.44" height="12.35" fill="#fbe3e5"/>
<rect x="68.24" y="631.35" width="12.44" height="11.75" fill="#f6c9cc"/>
<rect x="80.09" y="572.60" width="12.44" height="12.35" fill="#f5c3c5"/>
<rect x="80.09" y="584.35" width="12.44" height="12.35" fill="#f2adb1"/>
<rect x="80.09" y="596.10" width="12.44" height="12.35" fill="#e30613"/>
<rect x="80.09" y="607.85" width="12.44" height="12.35" fill="#e8505a"/>
<rect x="80.09" y="619.60" width="12.44" height="12.35" fill="#fbe3e5"/>
<rect x="80.09" y="631.35" width="12.44" height="11.75" fill="#f6cac4"/>
<rect x="91.93" y="572.60" width="12.44" height="12.35" fill="#4a58a8"/>
<rect x="91.93" y="584.35" width="12.44" height="12.35" fill="#6870b8"/>
<rect x="91.93" y="596.10" width="12.44" height="12.35" fill="#eff0f8"/>
<rect x="91.93" y="607.85" width="12.44" height="12.35" fill="#7078b8"/>
<rect x="91.93" y="619.60" width="12.44" height="12.35" fill="#fafaff"/>
<rect x="91.93" y="631.35" width="12.44" height="11.75" fill="#dcdcf0"/>
<rect x="103.78" y="572.60" width="12.44" height="12.35" fill="#8088c4"/>
<rect x="103.78" y="584.35" width="12.44" height="12.35" fill="#fefefe"/>
<rect x="103.78" y="596.10" width="12.44" height="12.35" fill="#fdf8f8"/>
<rect x="103.78" y="607.85" width="12.44" height="12.35" fill="#c0c0e0"/>
<rect x="103.78" y="619.60" width="12.44" height="12.35" fill="#f8f8fc"/>
<rect x="103.78" y="631.35" width="12.44" height="11.75" fill="#fcfafc"/>
<rect x="115.62" y="572.60" width="12.44" height="12.35" fill="#b8b8e0"/>
<rect x="115.62" y="584.35" width="12.44" height="12.35" fill="#fdf8f8"/>
<rect x="115.62" y="596.10" width="12.44" height="12.35" fill="#fcf0f2"/>
<rect x="115.62" y="607.85" width="12.44" height="12.35" fill="#fcf4f6"/>
<rect x="115.62" y="619.60" width="12.44" height="12.35" fill="#f6f6fa"/>
<rect x="115.62" y="631.35" width="12.44" height="11.75" fill="#fbeaec"/>
<rect x="127.47" y="572.60" width="12.44" height="12.35" fill="#eef0f8"/>
<rect x="127.47" y="584.35" width="12.44" height="12.35" fill="#fefefe"/>
<rect x="127.47" y="596.10" width="12.44" height="12.35" fill="#f0a0a4"/>
<rect x="127.47" y="607.85" width="12.44" height="12.35" fill="#fbe8ea"/>
<rect x="127.47" y="619.60" width="12.44" height="12.35" fill="#fdf4f4"/>
<rect x="127.47" y="631.35" width="12.44" height="11.75" fill="#fbeaea"/>
<rect x="139.31" y="572.60" width="12.44" height="12.35" fill="#fcf6f6"/>
<rect x="139.31" y="584.35" width="12.44" height="12.35" fill="#f4c4c6"/>
<rect x="139.31" y="596.10" width="12.44" height="12.35" fill="#e8505a"/>
<rect x="139.31" y="607.85" width="12.44" height="12.35" fill="#fbe4e6"/>
<rect x="139.31" y="619.60" width="12.44" height="12.35" fill="#fcecee"/>
<rect x="139.31" y="631.35" width="12.44" height="11.75" fill="#f8d8da"/>
<rect x="151.16" y="572.60" width="11.84" height="12.35" fill="#fbe6e8"/>
<rect x="151.16" y="584.35" width="11.84" height="12.35" fill="#ec7c84"/>
<rect x="151.16" y="596.10" width="11.84" height="12.35" fill="#e84048"/>
<rect x="151.16" y="607.85" width="11.84" height="12.35" fill="#f6c8cc"/>
<rect x="151.16" y="619.60" width="11.84" height="12.35" fill="#fcecee"/>
<rect x="151.16" y="631.35" width="11.84" height="11.75" fill="#f6c4c8"/>
<rect x="57.00" y="573.00" width="106.00" height="70.10" fill="none" stroke="#2a2a2a" stroke-width="0.9"/>
<line x1="53.80" y1="578.48" x2="56.40" y2="578.48" stroke="#231f20" stroke-width="0.8"/>
<text x="51.00" y="579.48" font-size="5.4" stroke="#333" stroke-width="0.14" text-anchor="end" fill="#333" font-style="italic" dominant-baseline="central">MX1</text>
<line x1="53.80" y1="590.23" x2="56.40" y2="590.23" stroke="#231f20" stroke-width="0.8"/>
<text x="51.00" y="591.23" font-size="5.4" stroke="#333" stroke-width="0.14" text-anchor="end" fill="#333" font-style="italic" dominant-baseline="central">ISG15</text>
<line x1="53.80" y1="601.98" x2="56.40" y2="601.98" stroke="#231f20" stroke-width="0.8"/>
<text x="51.00" y="602.98" font-size="5.4" stroke="#333" stroke-width="0.14" text-anchor="end" fill="#333" font-style="italic" dominant-baseline="central">IFIT2</text>
<line x1="53.80" y1="613.73" x2="56.40" y2="613.73" stroke="#231f20" stroke-width="0.8"/>
<text x="51.00" y="614.73" font-size="5.4" stroke="#333" stroke-width="0.14" text-anchor="end" fill="#333" font-style="italic" dominant-baseline="central">IFIT3</text>
<line x1="53.80" y1="625.48" x2="56.40" y2="625.48" stroke="#231f20" stroke-width="0.8"/>
<text x="51.00" y="626.48" font-size="5.4" stroke="#333" stroke-width="0.14" text-anchor="end" fill="#333" font-style="italic" dominant-baseline="central">IFN-α</text>
<line x1="53.80" y1="637.23" x2="56.40" y2="637.23" stroke="#231f20" stroke-width="0.8"/>
<text x="51.00" y="638.23" font-size="5.4" stroke="#333" stroke-width="0.14" text-anchor="end" fill="#333" font-style="italic" dominant-baseline="central">IFN-β</text>
<line x1="62.32" y1="643.10" x2="62.32" y2="645.50" stroke="#231f20" stroke-width="0.8"/>
<text x="62.32" y="648.80" font-size="5.7" stroke="#333" stroke-width="0.14" text-anchor="end" fill="#333" dominant-baseline="central" transform="rotate(-90 62.32 648.80)">DMSO</text>
<line x1="74.17" y1="643.10" x2="74.17" y2="645.50" stroke="#231f20" stroke-width="0.8"/>
<text x="74.17" y="648.80" font-size="5.7" stroke="#333" stroke-width="0.14" text-anchor="end" fill="#333" dominant-baseline="central" transform="rotate(-90 74.17 648.80)">1 μM Len</text>
<line x1="86.01" y1="643.10" x2="86.01" y2="645.50" stroke="#231f20" stroke-width="0.8"/>
<text x="86.01" y="648.80" font-size="5.7" stroke="#333" stroke-width="0.14" text-anchor="end" fill="#333" dominant-baseline="central" transform="rotate(-90 86.01 648.80)">10 μM Len</text>
<line x1="97.86" y1="643.10" x2="97.86" y2="645.50" stroke="#231f20" stroke-width="0.8"/>
<text x="97.86" y="648.80" font-size="5.7" stroke="#333" stroke-width="0.14" text-anchor="end" fill="#333" dominant-baseline="central" transform="rotate(-90 97.86 648.80)">DMSO</text>
<line x1="109.70" y1="643.10" x2="109.70" y2="645.50" stroke="#231f20" stroke-width="0.8"/>
<text x="109.70" y="648.80" font-size="5.7" stroke="#333" stroke-width="0.14" text-anchor="end" fill="#333" dominant-baseline="central" transform="rotate(-90 109.70 648.80)">1 μM Len</text>
<line x1="121.54" y1="643.10" x2="121.54" y2="645.50" stroke="#231f20" stroke-width="0.8"/>
<text x="121.54" y="648.80" font-size="5.7" stroke="#333" stroke-width="0.14" text-anchor="end" fill="#333" dominant-baseline="central" transform="rotate(-90 121.54 648.80)">10 μM Len</text>
<line x1="133.39" y1="643.10" x2="133.39" y2="645.50" stroke="#231f20" stroke-width="0.8"/>
<text x="133.39" y="648.80" font-size="5.7" stroke="#333" stroke-width="0.14" text-anchor="end" fill="#333" dominant-baseline="central" transform="rotate(-90 133.39 648.80)">DMSO</text>
<line x1="145.23" y1="643.10" x2="145.23" y2="645.50" stroke="#231f20" stroke-width="0.8"/>
<text x="145.23" y="648.80" font-size="5.7" stroke="#333" stroke-width="0.14" text-anchor="end" fill="#333" dominant-baseline="central" transform="rotate(-90 145.23 648.80)">1 μM Len</text>
<line x1="157.08" y1="643.10" x2="157.08" y2="645.50" stroke="#231f20" stroke-width="0.8"/>
<text x="157.08" y="648.80" font-size="5.7" stroke="#333" stroke-width="0.14" text-anchor="end" fill="#333" dominant-baseline="central" transform="rotate(-90 157.08 648.80)">10 μM Len</text>
<line x1="58.40" y1="677.50" x2="87.93" y2="677.50" stroke="#333" stroke-width="0.9"/>
<text x="73.17" y="684.00" font-size="5.2" stroke="#333" stroke-width="0.14" text-anchor="middle" fill="#333" dominant-baseline="central">KMS-11</text>
<text x="73.17" y="689.90" font-size="5.2" stroke="#333" stroke-width="0.14" text-anchor="middle" fill="#333" dominant-baseline="central">LenS</text>
<line x1="94.93" y1="677.50" x2="125.47" y2="677.50" stroke="#333" stroke-width="0.9"/>
<text x="110.20" y="684.00" font-size="5.2" stroke="#333" stroke-width="0.14" text-anchor="middle" fill="#333" dominant-baseline="central">KMS-11</text>
<text x="110.20" y="689.90" font-size="5.2" stroke="#333" stroke-width="0.14" text-anchor="middle" fill="#333" dominant-baseline="central">LenR</text>
<text x="110.20" y="695.80" font-size="5.2" stroke="#333" stroke-width="0.14" text-anchor="middle" fill="#333" dominant-baseline="central">shSCR</text>
<line x1="129.47" y1="677.50" x2="163.00" y2="677.50" stroke="#333" stroke-width="0.9"/>
<text x="146.23" y="684.00" font-size="5.2" stroke="#333" stroke-width="0.14" text-anchor="middle" fill="#333" dominant-baseline="central">KMS-11</text>
<text x="146.23" y="689.90" font-size="5.2" stroke="#333" stroke-width="0.14" text-anchor="middle" fill="#333" dominant-baseline="central">LenR</text>
<text x="146.23" y="695.80" font-size="5.2" stroke="#333" stroke-width="0.14" text-anchor="middle" fill="#333" dominant-baseline="central">shADAR1</text>
<rect x="238.90" y="572.60" width="12.39" height="12.35" fill="#fefcfc"/>
<rect x="238.90" y="584.35" width="12.39" height="12.35" fill="#fefefe"/>
<rect x="238.90" y="596.10" width="12.39" height="12.35" fill="#fefefe"/>
<rect x="238.90" y="607.85" width="12.39" height="12.35" fill="#fefefe"/>
<rect x="238.90" y="619.60" width="12.39" height="12.35" fill="#fefefe"/>
<rect x="238.90" y="631.35" width="12.39" height="11.75" fill="#fefefe"/>
<rect x="250.69" y="572.60" width="12.39" height="12.35" fill="#fbe4e6"/>
<rect x="250.69" y="584.35" width="12.39" height="12.35" fill="#fefefe"/>
<rect x="250.69" y="596.10" width="12.39" height="12.35" fill="#fbe0e2"/>
<rect x="250.69" y="607.85" width="12.39" height="12.35" fill="#ee9098"/>
<rect x="250.69" y="619.60" width="12.39" height="12.35" fill="#ee9098"/>
<rect x="250.69" y="631.35" width="12.39" height="11.75" fill="#fefefe"/>
<rect x="262.48" y="572.60" width="12.39" height="12.35" fill="#fadadc"/>
<rect x="262.48" y="584.35" width="12.39" height="12.35" fill="#fbe0e2"/>
<rect x="262.48" y="596.10" width="12.39" height="12.35" fill="#f8d0d4"/>
<rect x="262.48" y="607.85" width="12.39" height="12.35" fill="#e00010"/>
<rect x="262.48" y="619.60" width="12.39" height="12.35" fill="#ec8890"/>
<rect x="262.48" y="631.35" width="12.39" height="11.75" fill="#ec8890"/>
<rect x="274.27" y="572.60" width="12.39" height="12.35" fill="#d0d0ea"/>
<rect x="274.27" y="584.35" width="12.39" height="12.35" fill="#fefefe"/>
<rect x="274.27" y="596.10" width="12.39" height="12.35" fill="#fefefe"/>
<rect x="274.27" y="607.85" width="12.39" height="12.35" fill="#d0d4ee"/>
<rect x="274.27" y="619.60" width="12.39" height="12.35" fill="#dde0f2"/>
<rect x="274.27" y="631.35" width="12.39" height="11.75" fill="#4a58a8"/>
<rect x="286.06" y="572.60" width="12.39" height="12.35" fill="#fdf6f6"/>
<rect x="286.06" y="584.35" width="12.39" height="12.35" fill="#fdf6f6"/>
<rect x="286.06" y="596.10" width="12.39" height="12.35" fill="#fefefe"/>
<rect x="286.06" y="607.85" width="12.39" height="12.35" fill="#fefefe"/>
<rect x="286.06" y="619.60" width="12.39" height="12.35" fill="#fefefe"/>
<rect x="286.06" y="631.35" width="12.39" height="11.75" fill="#c4c4e4"/>
<rect x="297.84" y="572.60" width="12.39" height="12.35" fill="#fcecee"/>
<rect x="297.84" y="584.35" width="12.39" height="12.35" fill="#fadadc"/>
<rect x="297.84" y="596.10" width="12.39" height="12.35" fill="#fcecee"/>
<rect x="297.84" y="607.85" width="12.39" height="12.35" fill="#fbe4e6"/>
<rect x="297.84" y="619.60" width="12.39" height="12.35" fill="#fce8ea"/>
<rect x="297.84" y="631.35" width="12.39" height="11.75" fill="#fdf6f6"/>
<rect x="309.63" y="572.60" width="12.39" height="12.35" fill="#f0989e"/>
<rect x="309.63" y="584.35" width="12.39" height="12.35" fill="#fbe4e6"/>
<rect x="309.63" y="596.10" width="12.39" height="12.35" fill="#f09098"/>
<rect x="309.63" y="607.85" width="12.39" height="12.35" fill="#fbe4e6"/>
<rect x="309.63" y="619.60" width="12.39" height="12.35" fill="#fce8ea"/>
<rect x="309.63" y="631.35" width="12.39" height="11.75" fill="#fbe4e6"/>
<rect x="321.42" y="572.60" width="12.39" height="12.35" fill="#e8606a"/>
<rect x="321.42" y="584.35" width="12.39" height="12.35" fill="#fbe4e6"/>
<rect x="321.42" y="596.10" width="12.39" height="12.35" fill="#ec7880"/>
<rect x="321.42" y="607.85" width="12.39" height="12.35" fill="#f09098"/>
<rect x="321.42" y="619.60" width="12.39" height="12.35" fill="#fbe4e6"/>
<rect x="321.42" y="631.35" width="12.39" height="11.75" fill="#ec7880"/>
<rect x="333.21" y="572.60" width="11.79" height="12.35" fill="#e41e2a"/>
<rect x="333.21" y="584.35" width="11.79" height="12.35" fill="#f4a8ae"/>
<rect x="333.21" y="596.10" width="11.79" height="12.35" fill="#e43038"/>
<rect x="333.21" y="607.85" width="11.79" height="12.35" fill="#ee8890"/>
<rect x="333.21" y="619.60" width="11.79" height="12.35" fill="#f09ca2"/>
<rect x="333.21" y="631.35" width="11.79" height="11.75" fill="#f09ca2"/>
<rect x="239.50" y="573.00" width="105.50" height="70.10" fill="none" stroke="#2a2a2a" stroke-width="0.9"/>
<line x1="236.30" y1="578.48" x2="238.90" y2="578.48" stroke="#231f20" stroke-width="0.8"/>
<text x="233.50" y="579.48" font-size="5.4" stroke="#333" stroke-width="0.14" text-anchor="end" fill="#333" font-style="italic" dominant-baseline="central">MX1</text>
<line x1="236.30" y1="590.23" x2="238.90" y2="590.23" stroke="#231f20" stroke-width="0.8"/>
<text x="233.50" y="591.23" font-size="5.4" stroke="#333" stroke-width="0.14" text-anchor="end" fill="#333" font-style="italic" dominant-baseline="central">ISG15</text>
<line x1="236.30" y1="601.98" x2="238.90" y2="601.98" stroke="#231f20" stroke-width="0.8"/>
<text x="233.50" y="602.98" font-size="5.4" stroke="#333" stroke-width="0.14" text-anchor="end" fill="#333" font-style="italic" dominant-baseline="central">IFIT2</text>
<line x1="236.30" y1="613.73" x2="238.90" y2="613.73" stroke="#231f20" stroke-width="0.8"/>
<text x="233.50" y="614.73" font-size="5.4" stroke="#333" stroke-width="0.14" text-anchor="end" fill="#333" font-style="italic" dominant-baseline="central">IFIT3</text>
<line x1="236.30" y1="625.48" x2="238.90" y2="625.48" stroke="#231f20" stroke-width="0.8"/>
<text x="233.50" y="626.48" font-size="5.4" stroke="#333" stroke-width="0.14" text-anchor="end" fill="#333" font-style="italic" dominant-baseline="central">IFN-α</text>
<line x1="236.30" y1="637.23" x2="238.90" y2="637.23" stroke="#231f20" stroke-width="0.8"/>
<text x="233.50" y="638.23" font-size="5.4" stroke="#333" stroke-width="0.14" text-anchor="end" fill="#333" font-style="italic" dominant-baseline="central">IFN-β</text>
<line x1="244.79" y1="643.10" x2="244.79" y2="645.50" stroke="#231f20" stroke-width="0.8"/>
<text x="244.79" y="648.80" font-size="5.7" stroke="#333" stroke-width="0.14" text-anchor="end" fill="#333" dominant-baseline="central" transform="rotate(-90 244.79 648.80)">DMSO</text>
<line x1="256.58" y1="643.10" x2="256.58" y2="645.50" stroke="#231f20" stroke-width="0.8"/>
<text x="256.58" y="648.80" font-size="5.7" stroke="#333" stroke-width="0.14" text-anchor="end" fill="#333" dominant-baseline="central" transform="rotate(-90 256.58 648.80)">1 μM Len</text>
<line x1="268.37" y1="643.10" x2="268.37" y2="645.50" stroke="#231f20" stroke-width="0.8"/>
<text x="268.37" y="648.80" font-size="5.7" stroke="#333" stroke-width="0.14" text-anchor="end" fill="#333" dominant-baseline="central" transform="rotate(-90 268.37 648.80)">10 μM Len</text>
<line x1="280.16" y1="643.10" x2="280.16" y2="645.50" stroke="#231f20" stroke-width="0.8"/>
<text x="280.16" y="648.80" font-size="5.7" stroke="#333" stroke-width="0.14" text-anchor="end" fill="#333" dominant-baseline="central" transform="rotate(-90 280.16 648.80)">DMSO</text>
<line x1="291.95" y1="643.10" x2="291.95" y2="645.50" stroke="#231f20" stroke-width="0.8"/>
<text x="291.95" y="648.80" font-size="5.7" stroke="#333" stroke-width="0.14" text-anchor="end" fill="#333" dominant-baseline="central" transform="rotate(-90 291.95 648.80)">1 μM Len</text>
<line x1="303.74" y1="643.10" x2="303.74" y2="645.50" stroke="#231f20" stroke-width="0.8"/>
<text x="303.74" y="648.80" font-size="5.7" stroke="#333" stroke-width="0.14" text-anchor="end" fill="#333" dominant-baseline="central" transform="rotate(-90 303.74 648.80)">10 μM Len</text>
<line x1="315.53" y1="643.10" x2="315.53" y2="645.50" stroke="#231f20" stroke-width="0.8"/>
<text x="315.53" y="648.80" font-size="5.7" stroke="#333" stroke-width="0.14" text-anchor="end" fill="#333" dominant-baseline="central" transform="rotate(-90 315.53 648.80)">DMSO</text>
<line x1="327.32" y1="643.10" x2="327.32" y2="645.50" stroke="#231f20" stroke-width="0.8"/>
<text x="327.32" y="648.80" font-size="5.7" stroke="#333" stroke-width="0.14" text-anchor="end" fill="#333" dominant-baseline="central" transform="rotate(-90 327.32 648.80)">1 μM Len</text>
<line x1="339.11" y1="643.10" x2="339.11" y2="645.50" stroke="#231f20" stroke-width="0.8"/>
<text x="339.11" y="648.80" font-size="5.7" stroke="#333" stroke-width="0.14" text-anchor="end" fill="#333" dominant-baseline="central" transform="rotate(-90 339.11 648.80)">10 μM Len</text>
<line x1="239.90" y1="677.50" x2="270.27" y2="677.50" stroke="#333" stroke-width="0.9"/>
<text x="255.08" y="684.00" font-size="5.2" stroke="#333" stroke-width="0.14" text-anchor="middle" fill="#333" dominant-baseline="central">MM1.S</text>
<text x="255.08" y="689.90" font-size="5.2" stroke="#333" stroke-width="0.14" text-anchor="middle" fill="#333" dominant-baseline="central">LenS</text>
<line x1="276.27" y1="677.50" x2="306.63" y2="677.50" stroke="#333" stroke-width="0.9"/>
<text x="291.45" y="684.00" font-size="5.2" stroke="#333" stroke-width="0.14" text-anchor="middle" fill="#333" dominant-baseline="central">MM1.S</text>
<text x="291.45" y="689.90" font-size="5.2" stroke="#333" stroke-width="0.14" text-anchor="middle" fill="#333" dominant-baseline="central">LenR</text>
<text x="291.45" y="695.80" font-size="5.2" stroke="#333" stroke-width="0.14" text-anchor="middle" fill="#333" dominant-baseline="central">shSCR</text>
<line x1="310.63" y1="677.50" x2="344.00" y2="677.50" stroke="#333" stroke-width="0.9"/>
<text x="327.32" y="684.00" font-size="5.2" stroke="#333" stroke-width="0.14" text-anchor="middle" fill="#333" dominant-baseline="central">MM1.S</text>
<text x="327.32" y="689.90" font-size="5.2" stroke="#333" stroke-width="0.14" text-anchor="middle" fill="#333" dominant-baseline="central">LenR</text>
<text x="327.32" y="695.80" font-size="5.2" stroke="#333" stroke-width="0.14" text-anchor="middle" fill="#333" dominant-baseline="central">shADAR1</text>
<rect x="177.00" y="578.90" width="7.00" height="59.00" fill="url(#cb1)"/>
<text x="187.60" y="582.30" font-size="4.8" stroke="#333" stroke-width="0.14" fill="#333" dominant-baseline="central">10</text>
<text x="187.60" y="593.60" font-size="4.8" stroke="#333" stroke-width="0.14" fill="#333" dominant-baseline="central">8</text>
<text x="187.60" y="604.90" font-size="4.8" stroke="#333" stroke-width="0.14" fill="#333" dominant-baseline="central">6</text>
<text x="187.60" y="616.20" font-size="4.8" stroke="#333" stroke-width="0.14" fill="#333" dominant-baseline="central">4</text>
<text x="187.60" y="627.50" font-size="4.8" stroke="#333" stroke-width="0.14" fill="#333" dominant-baseline="central">2</text>
<text x="187.60" y="638.80" font-size="4.8" stroke="#333" stroke-width="0.14" fill="#333" dominant-baseline="central">0</text>
<text x="199.90" y="608.40" font-size="5.0" stroke="#333" stroke-width="0.14" text-anchor="middle" fill="#333" dominant-baseline="central" transform="rotate(90 199.90 608.40)">Relative mRNA expression</text>
<rect x="359.60" y="578.90" width="6.30" height="59.00" fill="url(#cb2)"/>
<text x="368.80" y="583.30" font-size="4.8" stroke="#333" stroke-width="0.14" fill="#333" dominant-baseline="central">4</text>
<text x="368.80" y="597.30" font-size="4.8" stroke="#333" stroke-width="0.14" fill="#333" dominant-baseline="central">3</text>
<text x="368.80" y="611.30" font-size="4.8" stroke="#333" stroke-width="0.14" fill="#333" dominant-baseline="central">2</text>
<text x="368.80" y="625.30" font-size="4.8" stroke="#333" stroke-width="0.14" fill="#333" dominant-baseline="central">1</text>
<text x="368.80" y="639.30" font-size="4.8" stroke="#333" stroke-width="0.14" fill="#333" dominant-baseline="central">0</text>
<text x="377.60" y="608.40" font-size="5.0" stroke="#333" stroke-width="0.14" text-anchor="middle" fill="#333" dominant-baseline="central" transform="rotate(90 377.60 608.40)">Relative mRNA expression</text>
</svg></body></html>
